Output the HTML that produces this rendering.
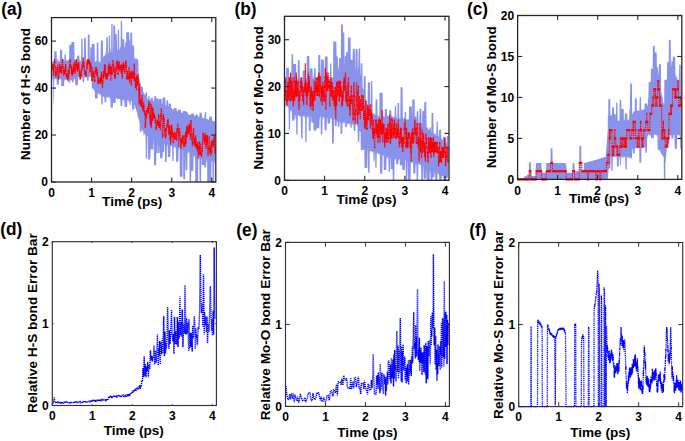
<!DOCTYPE html>
<html><head><meta charset="utf-8"><style>
html,body{margin:0;padding:0;background:#fff;}
body{width:685px;height:441px;overflow:hidden;font-family:"Liberation Sans",sans-serif;}
svg{display:block;}
</style></head><body>
<svg width="685" height="441" viewBox="0 0 685 441">
<rect width="685" height="441" fill="#fff"/>
<polygon points="52.3,62.2 52.6,61.6 52.8,61.7 53.1,60.6 53.3,61.3 53.6,60.4 53.8,62.0 54.1,59.7 54.3,51.3 54.6,51.3 54.8,51.3 55.1,51.3 55.3,51.3 55.6,51.3 55.8,51.3 56.1,51.3 56.3,51.3 56.6,51.3 56.8,58.6 57.1,59.6 57.3,58.6 57.6,61.5 57.8,59.6 58.1,61.4 58.3,61.5 58.6,61.5 58.8,57.4 59.1,60.8 59.3,61.7 59.6,61.6 59.8,59.0 60.1,49.7 60.3,49.7 60.6,49.7 60.8,49.7 61.1,49.7 61.3,49.7 61.6,49.7 61.8,49.7 62.1,49.7 62.3,61.4 62.6,61.5 62.8,59.4 63.1,61.4 63.3,59.1 63.6,58.8 63.8,60.0 64.1,61.3 64.3,60.3 64.6,53.9 64.8,53.9 65.1,53.9 65.3,53.9 65.6,53.9 65.8,53.9 66.1,60.2 66.3,61.2 66.6,60.2 66.8,58.8 67.1,60.1 67.3,60.9 67.6,60.5 67.8,61.0 68.1,59.2 68.3,60.2 68.6,60.9 68.8,59.6 69.1,59.2 69.3,44.7 69.6,44.7 69.8,44.7 70.1,44.7 70.3,44.7 70.6,44.7 70.8,44.7 71.1,44.7 71.3,44.7 71.6,42.0 71.8,42.0 72.1,42.0 72.3,42.0 72.6,42.0 72.8,42.0 73.1,42.0 73.3,42.0 73.6,42.0 73.8,42.0 74.1,42.0 74.3,42.0 74.6,60.1 74.8,61.2 75.1,60.1 75.3,60.7 75.6,59.4 75.8,61.3 76.1,60.3 76.3,59.1 76.6,60.7 76.8,58.4 77.1,57.8 77.3,55.4 77.6,55.4 77.8,55.4 78.1,55.4 78.3,55.4 78.6,55.4 78.8,55.4 79.1,55.4 79.3,55.4 79.6,61.2 79.8,60.3 80.1,60.6 80.3,59.7 80.6,61.4 80.8,61.5 81.1,59.7 81.3,38.8 81.6,38.8 81.8,38.8 82.1,38.8 82.3,38.8 82.6,38.8 82.8,61.5 83.1,58.2 83.3,59.7 83.6,61.1 83.8,58.0 84.1,37.8 84.3,37.8 84.6,37.8 84.8,37.8 85.1,37.8 85.3,37.8 85.6,37.8 85.8,37.8 86.1,59.4 86.3,61.8 86.6,61.4 86.8,61.7 87.1,60.2 87.3,60.0 87.6,61.0 87.8,34.6 88.1,34.6 88.3,34.6 88.6,34.6 88.8,34.6 89.1,34.6 89.3,34.6 89.6,34.6 89.8,60.9 90.1,61.6 90.3,47.6 90.6,47.6 90.8,47.6 91.1,47.6 91.3,47.6 91.6,47.6 91.8,43.9 92.1,43.9 92.3,43.9 92.6,43.9 92.8,43.9 93.1,43.9 93.3,43.9 93.6,43.9 93.8,43.9 94.1,43.9 94.3,43.9 94.6,43.9 94.8,61.3 95.1,61.8 95.3,61.7 95.6,62.4 95.8,60.8 96.1,60.6 96.3,60.4 96.6,61.9 96.8,42.6 97.1,42.6 97.3,42.6 97.6,42.6 97.8,42.6 98.1,42.6 98.3,42.6 98.6,63.0 98.8,61.0 99.1,61.9 99.3,62.5 99.6,62.2 99.8,60.8 100.1,61.5 100.3,61.5 100.6,63.0 100.8,40.5 101.1,40.5 101.3,40.5 101.6,40.5 101.8,40.5 102.1,40.5 102.3,40.5 102.6,40.5 102.8,40.5 103.1,58.8 103.3,56.3 103.6,56.5 103.8,56.6 104.1,55.0 104.3,56.2 104.6,55.3 104.8,56.8 105.1,54.6 105.3,52.4 105.6,50.8 105.8,54.5 106.1,54.9 106.3,37.2 106.6,37.2 106.8,37.2 107.1,37.2 107.3,37.2 107.6,37.2 107.8,37.2 108.1,53.0 108.3,53.8 108.6,52.9 108.8,35.4 109.1,35.4 109.3,35.4 109.6,35.4 109.8,35.4 110.1,35.4 110.3,52.2 110.6,52.1 110.8,48.5 111.1,49.7 111.3,24.1 111.6,24.1 111.8,24.1 112.1,24.1 112.3,24.1 112.6,24.1 112.8,51.6 113.1,51.5 113.3,25.4 113.6,25.4 113.8,25.4 114.1,25.4 114.3,25.4 114.6,25.4 114.8,25.4 115.1,25.4 115.3,34.0 115.6,34.0 115.8,34.0 116.1,34.0 116.3,34.0 116.6,34.0 116.8,34.0 117.1,50.4 117.3,50.4 117.6,48.8 117.8,29.5 118.1,29.5 118.3,29.5 118.6,29.5 118.8,29.5 119.1,29.5 119.3,47.8 119.6,50.2 119.8,50.5 120.1,47.7 120.3,46.8 120.6,47.4 120.8,20.7 121.1,20.7 121.3,20.7 121.6,20.7 121.8,20.7 122.1,20.7 122.3,39.2 122.6,39.2 122.8,39.2 123.1,39.2 123.3,39.2 123.6,39.2 123.8,39.2 124.1,39.2 124.3,39.2 124.6,49.7 124.8,46.6 125.1,47.2 125.3,42.4 125.6,42.4 125.8,42.4 126.1,42.4 126.3,32.3 126.6,32.3 126.8,32.3 127.1,32.3 127.3,32.3 127.6,32.3 127.8,32.3 128.1,32.3 128.3,32.3 128.6,32.3 128.8,32.3 129.1,32.3 129.3,39.4 129.6,39.4 129.8,39.4 130.1,49.6 130.3,32.8 130.6,32.8 130.8,32.8 131.1,32.8 131.3,32.8 131.6,32.8 131.8,32.8 132.1,32.8 132.3,45.5 132.6,45.5 132.8,45.5 133.1,45.5 133.3,45.5 133.6,45.5 133.8,45.5 134.1,45.5 134.3,58.6 134.6,58.6 134.8,58.6 135.1,58.6 135.3,58.6 135.6,58.6 135.8,58.6 136.1,58.6 136.3,58.6 136.6,58.6 136.8,58.6 137.1,59.6 137.3,59.6 137.6,59.6 137.8,59.6 138.1,59.6 138.3,59.6 138.6,74.1 138.8,76.9 139.1,76.4 139.3,78.2 139.6,79.4 139.8,80.7 140.1,82.3 140.3,83.7 140.6,85.0 140.8,86.1 141.1,86.8 141.3,86.8 141.6,86.8 141.8,86.8 142.1,86.8 142.3,86.8 142.6,86.8 142.8,86.8 143.1,92.5 143.3,91.7 143.6,93.1 143.8,92.4 144.1,93.1 144.3,93.9 144.6,94.4 144.8,95.2 145.1,94.5 145.3,95.8 145.6,92.4 145.8,92.4 146.1,92.4 146.3,92.4 146.6,92.4 146.8,92.4 147.1,92.4 147.3,99.1 147.6,98.8 147.8,99.8 148.1,99.1 148.3,96.2 148.6,96.2 148.8,96.2 149.1,96.2 149.3,96.2 149.6,96.2 149.8,100.2 150.1,100.3 150.3,99.7 150.6,99.6 150.8,97.9 151.1,97.9 151.3,97.9 151.6,97.9 151.8,97.9 152.1,97.9 152.3,97.9 152.6,97.9 152.8,97.9 153.1,100.7 153.3,101.3 153.6,100.7 153.8,101.0 154.1,101.1 154.3,96.3 154.6,96.3 154.8,96.3 155.1,96.3 155.3,96.3 155.6,96.3 155.8,96.3 156.1,96.3 156.3,98.5 156.6,98.5 156.8,98.5 157.1,98.5 157.3,98.5 157.6,98.5 157.8,98.5 158.1,98.5 158.3,98.5 158.6,98.5 158.8,102.8 159.1,99.0 159.3,99.0 159.6,99.0 159.8,99.0 160.1,99.0 160.3,99.0 160.6,99.0 160.8,99.0 161.1,99.0 161.3,99.0 161.6,99.0 161.8,102.9 162.1,104.0 162.3,103.7 162.6,97.4 162.8,97.4 163.1,97.4 163.3,97.4 163.6,97.4 163.8,97.4 164.1,97.4 164.3,97.4 164.6,97.4 164.8,97.4 165.1,97.4 165.3,97.4 165.6,104.9 165.8,105.7 166.1,105.8 166.3,105.4 166.6,100.2 166.8,100.2 167.1,100.2 167.3,100.2 167.6,100.2 167.8,100.2 168.1,100.2 168.3,106.5 168.6,106.3 168.8,103.4 169.1,103.4 169.3,103.4 169.6,103.4 169.8,103.4 170.1,103.4 170.3,103.4 170.6,103.4 170.8,103.4 171.1,108.2 171.3,108.2 171.6,107.9 171.8,108.0 172.1,109.1 172.3,109.3 172.6,109.5 172.8,109.6 173.1,109.7 173.3,108.7 173.6,109.3 173.8,109.1 174.1,109.6 174.3,107.9 174.6,107.9 174.8,107.9 175.1,107.9 175.3,107.9 175.6,107.9 175.8,107.9 176.1,107.9 176.3,107.9 176.6,107.9 176.8,110.8 177.1,110.8 177.3,111.5 177.6,110.8 177.8,111.2 178.1,109.7 178.3,109.7 178.6,109.7 178.8,109.7 179.1,109.7 179.3,109.7 179.6,109.7 179.8,109.7 180.1,109.7 180.3,109.7 180.6,109.7 180.8,109.7 181.1,112.2 181.3,111.9 181.6,113.1 181.8,112.7 182.1,113.2 182.3,112.9 182.6,112.9 182.8,111.0 183.1,111.0 183.3,111.0 183.6,111.0 183.8,111.0 184.1,111.0 184.3,111.0 184.6,111.0 184.8,111.0 185.1,111.0 185.3,111.0 185.6,111.0 185.8,111.8 186.1,111.8 186.3,111.8 186.6,111.8 186.8,111.8 187.1,111.8 187.3,111.8 187.6,111.8 187.8,114.5 188.1,114.4 188.3,114.5 188.6,114.2 188.8,114.7 189.1,114.6 189.3,114.9 189.6,114.3 189.8,114.9 190.1,115.0 190.3,115.1 190.6,115.0 190.8,115.0 191.1,113.5 191.3,113.5 191.6,113.5 191.8,113.5 192.1,113.5 192.3,113.5 192.6,113.5 192.8,113.5 193.1,113.5 193.3,113.5 193.6,113.5 193.8,113.5 194.1,115.4 194.3,115.5 194.6,116.0 194.8,115.3 195.1,115.7 195.3,116.3 195.6,114.9 195.8,114.4 196.1,114.4 196.3,114.4 196.6,114.4 196.8,114.4 197.1,114.4 197.3,114.4 197.6,114.4 197.8,114.4 198.1,116.9 198.3,116.9 198.6,116.4 198.8,116.8 199.1,117.0 199.3,117.1 199.6,112.7 199.8,112.7 200.1,112.7 200.3,112.7 200.6,112.7 200.8,112.7 201.1,112.7 201.3,112.7 201.6,112.7 201.8,112.7 202.1,117.5 202.3,117.2 202.6,117.9 202.8,118.3 203.1,118.2 203.3,117.5 203.6,118.3 203.8,118.2 204.1,118.2 204.3,117.4 204.6,118.6 204.8,111.9 205.1,111.9 205.3,111.9 205.6,111.9 205.8,111.9 206.1,111.9 206.3,119.3 206.6,119.1 206.8,119.1 207.1,118.6 207.3,119.0 207.6,119.5 207.8,119.6 208.1,119.4 208.3,119.6 208.6,120.0 208.8,119.5 209.1,119.0 209.3,116.5 209.6,116.5 209.8,116.5 210.1,116.5 210.3,116.5 210.6,116.5 210.8,116.5 211.1,116.5 211.3,116.5 211.6,116.5 211.8,116.5 212.1,120.2 212.3,120.6 212.6,121.0 212.8,120.9 213.1,120.4 213.3,120.8 213.6,121.2 213.8,121.2 214.1,121.3 214.3,121.1 214.6,121.6 214.8,121.2 215.1,121.4 215.1,160.9 214.8,162.7 214.6,160.9 214.3,163.5 214.1,182.0 213.8,182.0 213.6,182.0 213.3,182.0 213.1,182.0 212.8,182.0 212.6,182.0 212.3,161.7 212.1,160.7 211.8,161.4 211.6,161.4 211.3,182.0 211.1,182.0 210.8,182.0 210.6,182.0 210.3,182.0 210.1,182.0 209.8,182.0 209.6,182.0 209.3,182.0 209.1,182.0 208.8,182.0 208.6,182.0 208.3,182.0 208.1,182.0 207.8,182.0 207.6,182.0 207.3,182.0 207.1,158.9 206.8,161.5 206.6,162.8 206.3,158.9 206.1,167.6 205.8,167.6 205.6,167.6 205.3,167.6 205.1,167.6 204.8,167.6 204.6,167.6 204.3,165.0 204.1,165.0 203.8,165.0 203.6,165.0 203.3,165.0 203.1,165.0 202.8,165.0 202.6,165.0 202.3,165.0 202.1,165.0 201.8,165.0 201.6,160.0 201.3,157.8 201.1,182.0 200.8,182.0 200.6,182.0 200.3,182.0 200.1,182.0 199.8,182.0 199.6,182.0 199.3,158.6 199.1,157.5 198.8,161.4 198.6,158.0 198.3,157.6 198.1,182.0 197.8,182.0 197.6,182.0 197.3,182.0 197.1,182.0 196.8,182.0 196.6,182.0 196.3,182.0 196.1,182.0 195.8,182.0 195.6,182.0 195.3,182.0 195.1,158.1 194.8,156.1 194.6,158.8 194.3,155.7 194.1,155.3 193.8,156.6 193.6,155.9 193.3,171.0 193.1,171.0 192.8,171.0 192.6,171.0 192.3,171.0 192.1,171.0 191.8,171.0 191.6,171.0 191.3,171.0 191.1,181.7 190.8,181.7 190.6,181.7 190.3,181.7 190.1,181.7 189.8,181.7 189.6,181.7 189.3,153.2 189.1,151.8 188.8,151.5 188.6,153.6 188.3,153.7 188.1,152.9 187.8,151.9 187.6,153.3 187.3,170.3 187.1,170.3 186.8,170.3 186.6,170.3 186.3,170.3 186.1,170.3 185.8,170.3 185.6,170.3 185.3,152.7 185.1,179.2 184.8,179.2 184.6,179.2 184.3,179.2 184.1,179.2 183.8,179.2 183.6,179.2 183.3,179.2 183.1,150.1 182.8,151.1 182.6,176.8 182.3,176.8 182.1,176.8 181.8,176.8 181.6,176.8 181.3,176.8 181.1,176.8 180.8,176.8 180.6,176.8 180.3,176.8 180.1,176.8 179.8,176.8 179.6,147.7 179.3,147.8 179.1,147.5 178.8,149.3 178.6,150.7 178.3,161.7 178.1,161.7 177.8,161.7 177.6,161.7 177.3,161.7 177.1,161.7 176.8,161.7 176.6,161.7 176.3,161.7 176.1,161.7 175.8,147.1 175.6,149.1 175.3,147.3 175.1,147.1 174.8,147.0 174.6,147.1 174.3,146.5 174.1,148.4 173.8,147.5 173.6,161.1 173.3,161.1 173.1,161.1 172.8,161.1 172.6,161.1 172.3,161.1 172.1,145.3 171.8,145.7 171.6,146.3 171.3,146.5 171.1,145.2 170.8,146.7 170.6,145.7 170.3,157.1 170.1,157.1 169.8,157.1 169.6,157.1 169.3,157.1 169.1,157.1 168.8,157.1 168.6,157.1 168.3,157.1 168.1,157.1 167.8,157.1 167.6,145.8 167.3,144.6 167.1,145.0 166.8,148.6 166.6,161.9 166.3,161.9 166.1,161.9 165.8,161.9 165.6,161.9 165.3,161.9 165.1,161.9 164.8,143.5 164.6,144.6 164.3,143.4 164.1,151.9 163.8,151.9 163.6,151.9 163.3,151.9 163.1,151.9 162.8,151.9 162.6,158.2 162.3,158.2 162.1,158.2 161.8,158.2 161.6,158.2 161.3,158.2 161.1,158.2 160.8,158.2 160.6,158.2 160.3,158.2 160.1,158.2 159.8,143.9 159.6,153.1 159.3,153.1 159.1,153.1 158.8,153.1 158.6,153.1 158.3,153.1 158.1,153.1 157.8,153.1 157.6,141.2 157.3,153.3 157.1,153.3 156.8,153.3 156.6,153.3 156.3,153.3 156.1,165.2 155.8,165.2 155.6,165.2 155.3,165.2 155.1,165.2 154.8,165.2 154.6,165.2 154.3,165.2 154.1,165.2 153.8,138.9 153.6,141.4 153.3,149.6 153.1,149.6 152.8,149.6 152.6,149.6 152.3,149.6 152.1,149.6 151.8,149.6 151.6,149.6 151.3,149.6 151.1,149.6 150.8,149.6 150.6,149.6 150.3,159.6 150.1,159.6 149.8,159.6 149.6,159.6 149.3,159.6 149.1,159.6 148.8,159.6 148.6,159.6 148.3,159.6 148.1,159.6 147.8,135.6 147.6,136.2 147.3,135.9 147.1,158.6 146.8,158.6 146.6,158.6 146.3,158.6 146.1,158.6 145.8,158.6 145.6,137.3 145.3,135.4 145.1,134.5 144.8,135.6 144.6,134.1 144.3,133.4 144.1,133.2 143.8,134.6 143.6,137.3 143.3,131.8 143.1,131.0 142.8,132.1 142.6,129.5 142.3,130.9 142.1,129.2 141.8,128.5 141.6,131.7 141.3,131.7 141.1,131.7 140.8,131.7 140.6,131.7 140.3,131.7 140.1,131.7 139.8,131.7 139.6,121.9 139.3,122.0 139.1,120.0 138.8,119.8 138.6,117.3 138.3,119.5 138.1,116.7 137.8,118.0 137.6,115.0 137.3,114.6 137.1,113.2 136.8,111.6 136.6,111.4 136.3,110.4 136.1,109.8 135.8,108.2 135.6,108.7 135.3,107.6 135.1,106.4 134.8,105.1 134.6,104.1 134.3,109.5 134.1,109.5 133.8,109.5 133.6,109.5 133.3,109.5 133.1,109.5 132.8,109.5 132.6,109.5 132.3,109.5 132.1,109.5 131.8,101.0 131.6,101.4 131.3,101.1 131.1,100.7 130.8,101.0 130.6,105.0 130.3,105.0 130.1,105.0 129.8,105.0 129.6,105.0 129.3,101.7 129.1,102.5 128.8,102.2 128.6,100.7 128.3,100.3 128.1,100.7 127.8,100.5 127.6,100.7 127.3,100.0 127.1,107.0 126.8,107.0 126.6,107.0 126.3,107.0 126.1,107.0 125.8,107.0 125.6,107.0 125.3,107.0 125.1,107.0 124.8,107.0 124.6,107.0 124.3,101.7 124.1,100.7 123.8,100.7 123.6,99.1 123.3,100.0 123.1,99.7 122.8,100.1 122.6,99.7 122.3,106.1 122.1,106.1 121.8,106.1 121.6,106.1 121.3,106.1 121.1,106.1 120.8,106.1 120.6,106.1 120.3,100.0 120.1,99.5 119.8,98.7 119.6,99.1 119.3,99.1 119.1,98.9 118.8,98.9 118.6,99.1 118.3,98.4 118.1,98.9 117.8,99.1 117.6,99.0 117.3,100.4 117.1,97.9 116.8,99.1 116.6,97.9 116.3,98.4 116.1,97.9 115.8,98.4 115.6,103.0 115.3,103.0 115.1,103.0 114.8,103.0 114.6,103.0 114.3,103.0 114.1,103.0 113.8,103.0 113.6,103.0 113.3,103.0 113.1,103.0 112.8,107.8 112.6,107.8 112.3,107.8 112.1,107.8 111.8,107.8 111.6,107.8 111.3,107.8 111.1,107.8 110.8,107.8 110.6,107.8 110.3,98.1 110.1,98.8 109.8,98.4 109.6,97.1 109.3,97.1 109.1,97.6 108.8,97.6 108.6,97.2 108.3,99.1 108.1,97.0 107.8,98.6 107.6,97.0 107.3,96.7 107.1,96.7 106.8,97.1 106.6,97.0 106.3,102.3 106.1,102.3 105.8,102.3 105.6,102.3 105.3,102.3 105.1,102.3 104.8,102.3 104.6,102.3 104.3,97.2 104.1,96.8 103.8,96.7 103.6,97.3 103.3,97.0 103.1,96.0 102.8,95.9 102.6,104.4 102.3,104.4 102.1,104.4 101.8,104.4 101.6,104.4 101.3,104.4 101.1,95.6 100.8,94.5 100.6,95.2 100.3,94.5 100.1,93.8 99.8,95.3 99.6,94.4 99.3,94.2 99.1,93.5 98.8,93.8 98.6,93.0 98.3,93.6 98.1,93.5 97.8,92.9 97.6,98.6 97.3,98.6 97.1,98.6 96.8,98.6 96.6,98.6 96.3,98.6 96.1,98.6 95.8,98.6 95.6,98.6 95.3,98.6 95.1,98.6 94.8,91.8 94.6,91.7 94.3,90.0 94.1,90.3 93.8,90.1 93.6,91.1 93.3,88.0 93.1,88.6 92.8,88.6 92.6,88.6 92.3,88.6 92.1,88.6 91.8,88.6 91.6,76.3 91.3,76.4 91.1,76.7 90.8,76.7 90.6,76.3 90.3,76.6 90.1,76.8 89.8,76.8 89.6,76.6 89.3,76.6 89.1,77.2 88.8,77.0 88.6,80.8 88.3,80.8 88.1,80.8 87.8,80.8 87.6,80.8 87.3,80.8 87.1,80.8 86.8,77.3 86.6,77.2 86.3,76.4 86.1,76.8 85.8,76.6 85.6,77.0 85.3,76.4 85.1,76.4 84.8,76.8 84.6,76.9 84.3,77.8 84.1,82.3 83.8,82.3 83.6,82.3 83.3,82.3 83.1,82.3 82.8,82.3 82.6,82.3 82.3,77.3 82.1,76.3 81.8,77.1 81.6,77.2 81.3,77.4 81.1,76.4 80.8,76.4 80.6,76.8 80.3,76.5 80.1,77.7 79.8,77.9 79.6,77.1 79.3,77.2 79.1,76.7 78.8,77.4 78.6,77.2 78.3,77.0 78.1,77.7 77.8,85.3 77.6,85.3 77.3,85.3 77.1,85.3 76.8,85.3 76.6,85.3 76.3,85.3 76.1,85.3 75.8,85.3 75.6,85.3 75.3,85.3 75.1,78.9 74.8,79.7 74.6,78.6 74.3,78.8 74.1,79.3 73.8,80.3 73.6,82.2 73.3,82.2 73.1,82.2 72.8,82.2 72.6,82.2 72.3,82.2 72.1,82.2 71.8,79.9 71.6,81.1 71.3,80.2 71.1,80.7 70.8,80.0 70.6,79.8 70.3,80.1 70.1,82.4 69.8,82.4 69.6,82.4 69.3,82.4 69.1,82.4 68.8,82.4 68.6,82.4 68.3,82.4 68.1,80.6 67.8,80.1 67.6,80.4 67.3,80.0 67.1,80.0 66.8,80.1 66.6,79.6 66.3,79.9 66.1,80.0 65.8,79.8 65.6,80.7 65.3,79.5 65.1,79.5 64.8,79.7 64.6,80.4 64.3,80.8 64.1,85.9 63.8,85.9 63.6,85.9 63.3,85.9 63.1,85.9 62.8,85.9 62.6,85.9 62.3,85.9 62.1,85.9 61.8,85.9 61.6,85.9 61.3,85.9 61.1,79.1 60.8,79.6 60.6,79.5 60.3,79.5 60.1,79.1 59.8,79.5 59.6,79.1 59.3,79.2 59.1,80.2 58.8,84.5 58.6,84.5 58.3,84.5 58.1,84.5 57.8,84.5 57.6,84.5 57.3,84.5 57.1,84.5 56.8,84.5 56.6,79.1 56.3,79.1 56.1,79.7 55.8,78.8 55.6,79.2 55.3,78.8 55.1,79.0 54.8,78.8 54.6,79.2 54.3,80.3 54.1,95.5 53.8,104.8 53.6,105.4 53.3,92.1 53.1,79.2 52.8,79.7 52.6,78.8 52.3,79.8" fill="#8892ea" stroke="none"/>
<polyline points="51.9,66.9 52.0,69.3 52.2,69.3 52.3,64.6 52.4,64.6 52.5,69.3 52.7,69.3 52.8,66.9 52.9,64.6 53.0,66.9 53.2,69.3 53.3,69.3 53.4,74.0 53.5,76.3 53.7,71.6 53.8,71.6 53.9,69.3 54.0,66.9 54.2,64.6 54.3,64.6 54.4,59.9 54.5,59.9 54.7,62.2 54.8,62.2 54.9,62.2 55.0,66.9 55.2,66.9 55.3,66.9 55.4,74.0 55.5,74.0 55.7,71.6 55.8,74.0 55.9,76.3 56.0,76.3 56.2,74.0 56.3,71.6 56.4,74.0 56.5,71.6 56.7,74.0 56.8,74.0 56.9,66.9 57.0,69.3 57.2,71.6 57.3,66.9 57.4,69.3 57.6,69.3 57.7,69.3 57.8,64.6 57.9,71.6 58.1,74.0 58.2,76.3 58.3,76.3 58.4,78.7 58.6,78.7 58.7,74.0 58.8,76.3 58.9,74.0 59.1,71.6 59.2,71.6 59.3,71.6 59.4,64.6 59.6,64.6 59.7,66.9 59.8,66.9 59.9,71.6 60.1,69.3 60.2,66.9 60.3,69.3 60.4,69.3 60.6,66.9 60.7,66.9 60.8,66.9 60.9,71.6 61.1,71.6 61.2,74.0 61.3,64.6 61.4,66.9 61.6,69.3 61.7,71.6 61.8,71.6 61.9,66.9 62.1,66.9 62.2,62.2 62.3,62.2 62.4,59.9 62.6,59.9 62.7,59.9 62.8,66.9 62.9,66.9 63.1,66.9 63.2,69.3 63.3,76.3 63.5,71.6 63.6,71.6 63.7,71.6 63.8,71.6 64.0,71.6 64.1,69.3 64.2,74.0 64.3,74.0 64.5,71.6 64.6,71.6 64.7,71.6 64.8,71.6 65.0,74.0 65.1,71.6 65.2,66.9 65.3,71.6 65.5,64.6 65.6,64.6 65.7,66.9 65.8,64.6 66.0,69.3 66.1,74.0 66.2,76.3 66.3,76.3 66.5,76.3 66.6,74.0 66.7,74.0 66.8,78.7 67.0,74.0 67.1,76.3 67.2,76.3 67.3,76.3 67.5,78.7 67.6,78.7 67.7,81.0 67.8,76.3 68.0,74.0 68.1,69.3 68.2,71.6 68.3,74.0 68.5,76.3 68.6,71.6 68.7,78.7 68.9,71.6 69.0,71.6 69.1,74.0 69.2,71.6 69.4,66.9 69.5,66.9 69.6,64.6 69.7,64.6 69.9,62.2 70.0,59.9 70.1,62.2 70.2,59.9 70.4,59.9 70.5,62.2 70.6,66.9 70.7,66.9 70.9,64.6 71.0,69.3 71.1,66.9 71.2,66.9 71.4,66.9 71.5,74.0 71.6,71.6 71.7,69.3 71.9,71.6 72.0,69.3 72.1,76.3 72.2,74.0 72.4,74.0 72.5,69.3 72.6,74.0 72.7,71.6 72.9,71.6 73.0,66.9 73.1,71.6 73.2,71.6 73.4,64.6 73.5,66.9 73.6,69.3 73.7,69.3 73.9,74.0 74.0,66.9 74.1,62.2 74.2,66.9 74.4,71.6 74.5,66.9 74.6,64.6 74.8,62.2 74.9,59.9 75.0,64.6 75.1,66.9 75.3,71.6 75.4,74.0 75.5,69.3 75.6,71.6 75.8,64.6 75.9,64.6 76.0,66.9 76.1,64.6 76.3,59.9 76.4,59.9 76.5,66.9 76.6,64.6 76.8,62.2 76.9,64.6 77.0,69.3 77.1,64.6 77.3,64.6 77.4,69.3 77.5,69.3 77.6,71.6 77.8,69.3 77.9,69.3 78.0,64.6 78.1,64.6 78.3,69.3 78.4,69.3 78.5,64.6 78.6,64.6 78.8,62.2 78.9,64.6 79.0,69.3 79.1,66.9 79.3,69.3 79.4,76.3 79.5,71.6 79.6,71.6 79.8,71.6 79.9,76.3 80.0,78.7 80.2,78.7 80.3,78.7 80.4,74.0 80.5,78.7 80.7,74.0 80.8,76.3 80.9,78.7 81.0,74.0 81.2,71.6 81.3,76.3 81.4,69.3 81.5,71.6 81.7,69.3 81.8,69.3 81.9,64.6 82.0,66.9 82.2,64.6 82.3,66.9 82.4,64.6 82.5,66.9 82.7,69.3 82.8,62.2 82.9,62.2 83.0,64.6 83.2,57.5 83.3,59.9 83.4,64.6 83.5,62.2 83.7,66.9 83.8,64.6 83.9,62.2 84.0,64.6 84.2,66.9 84.3,66.9 84.4,66.9 84.5,71.6 84.7,69.3 84.8,74.0 84.9,74.0 85.0,74.0 85.2,74.0 85.3,71.6 85.4,74.0 85.5,71.6 85.7,71.6 85.8,71.6 85.9,76.3 86.1,76.3 86.2,74.0 86.3,76.3 86.4,74.0 86.6,69.3 86.7,64.6 86.8,59.9 86.9,64.6 87.1,69.3 87.2,64.6 87.3,64.6 87.4,62.2 87.6,64.6 87.7,59.9 87.8,59.9 87.9,59.9 88.1,59.9 88.2,59.9 88.3,62.2 88.4,62.2 88.6,59.9 88.7,64.6 88.8,59.9 88.9,62.2 89.1,59.9 89.2,62.2 89.3,64.6 89.4,59.9 89.6,62.2 89.7,69.3 89.8,71.6 89.9,71.6 90.1,64.6 90.2,64.6 90.3,64.6 90.4,69.3 90.6,69.3 90.7,66.9 90.8,62.2 90.9,66.9 91.1,66.9 91.2,66.9 91.3,71.6 91.5,71.6 91.6,74.0 91.7,81.0 91.8,76.3 92.0,74.0 92.1,76.3 92.2,81.0 92.3,74.0 92.5,74.0 92.6,71.6 92.7,66.9 92.8,71.6 93.0,71.6 93.1,74.0 93.2,74.0 93.3,76.3 93.5,76.3 93.6,74.0 93.7,74.0 93.8,76.3 94.0,76.3 94.1,76.3 94.2,78.7 94.3,81.0 94.5,81.0 94.6,81.0 94.7,81.0 94.8,81.0 95.0,74.0 95.1,71.6 95.2,71.6 95.3,74.0 95.5,66.9 95.6,69.3 95.7,71.6 95.8,71.6 96.0,71.6 96.1,69.3 96.2,71.6 96.3,66.9 96.5,71.6 96.6,71.6 96.7,76.3 96.8,71.6 97.0,74.0 97.1,74.0 97.2,74.0 97.4,69.3 97.5,76.3 97.6,76.3 97.7,81.0 97.9,81.0 98.0,81.0 98.1,81.0 98.2,83.4 98.4,83.4 98.5,83.4 98.6,81.0 98.7,76.3 98.9,83.4 99.0,81.0 99.1,81.0 99.2,78.7 99.4,83.4 99.5,81.0 99.6,83.4 99.7,81.0 99.9,78.7 100.0,81.0 100.1,78.7 100.2,78.7 100.4,83.4 100.5,81.0 100.6,78.7 100.7,78.7 100.9,76.3 101.0,74.0 101.1,78.7 101.2,81.0 101.4,74.0 101.5,71.6 101.6,76.3 101.7,81.0 101.9,81.0 102.0,81.0 102.1,85.7 102.2,83.4 102.4,85.7 102.5,88.1 102.6,81.0 102.8,83.4 102.9,81.0 103.0,78.7 103.1,74.0 103.3,76.3 103.4,76.3 103.5,78.7 103.6,71.6 103.8,71.6 103.9,76.3 104.0,76.3 104.1,74.0 104.3,71.6 104.4,66.9 104.5,64.6 104.6,69.3 104.8,69.3 104.9,74.0 105.0,74.0 105.1,74.0 105.3,64.6 105.4,66.9 105.5,74.0 105.6,76.3 105.8,74.0 105.9,78.7 106.0,78.7 106.1,78.7 106.3,76.3 106.4,76.3 106.5,76.3 106.6,74.0 106.8,74.0 106.9,76.3 107.0,78.7 107.1,78.7 107.3,74.0 107.4,78.7 107.5,76.3 107.6,74.0 107.8,74.0 107.9,71.6 108.0,74.0 108.2,69.3 108.3,66.9 108.4,66.9 108.5,74.0 108.7,76.3 108.8,71.6 108.9,64.6 109.0,66.9 109.2,62.2 109.3,66.9 109.4,69.3 109.5,69.3 109.7,66.9 109.8,74.0 109.9,69.3 110.0,64.6 110.2,69.3 110.3,74.0 110.4,71.6 110.5,74.0 110.7,81.0 110.8,76.3 110.9,74.0 111.0,74.0 111.2,66.9 111.3,66.9 111.4,69.3 111.5,69.3 111.7,74.0 111.8,74.0 111.9,71.6 112.0,74.0 112.2,74.0 112.3,66.9 112.4,64.6 112.5,64.6 112.7,64.6 112.8,64.6 112.9,59.9 113.0,62.2 113.2,59.9 113.3,64.6 113.4,66.9 113.5,71.6 113.7,71.6 113.8,69.3 113.9,64.6 114.1,69.3 114.2,69.3 114.3,69.3 114.4,71.6 114.6,76.3 114.7,74.0 114.8,78.7 114.9,76.3 115.1,74.0 115.2,76.3 115.3,76.3 115.4,78.7 115.6,71.6 115.7,74.0 115.8,69.3 115.9,66.9 116.1,69.3 116.2,71.6 116.3,69.3 116.4,62.2 116.6,66.9 116.7,69.3 116.8,66.9 116.9,64.6 117.1,59.9 117.2,64.6 117.3,64.6 117.4,69.3 117.6,62.2 117.7,66.9 117.8,74.0 117.9,74.0 118.1,74.0 118.2,66.9 118.3,66.9 118.4,69.3 118.6,66.9 118.7,62.2 118.8,64.6 118.9,62.2 119.1,62.2 119.2,64.6 119.3,66.9 119.5,66.9 119.6,69.3 119.7,66.9 119.8,71.6 120.0,66.9 120.1,64.6 120.2,66.9 120.3,69.3 120.5,69.3 120.6,69.3 120.7,66.9 120.8,66.9 121.0,64.6 121.1,66.9 121.2,66.9 121.3,74.0 121.5,69.3 121.6,69.3 121.7,71.6 121.8,66.9 122.0,64.6 122.1,76.3 122.2,74.0 122.3,78.7 122.5,71.6 122.6,64.6 122.7,66.9 122.8,66.9 123.0,69.3 123.1,69.3 123.2,66.9 123.3,62.2 123.5,69.3 123.6,64.6 123.7,69.3 123.8,66.9 124.0,64.6 124.1,64.6 124.2,69.3 124.3,71.6 124.5,71.6 124.6,71.6 124.7,69.3 124.8,74.0 125.0,71.6 125.1,69.3 125.2,66.9 125.4,66.9 125.5,62.2 125.6,62.2 125.7,62.2 125.9,62.2 126.0,59.9 126.1,66.9 126.2,64.6 126.4,66.9 126.5,69.3 126.6,71.6 126.7,78.7 126.9,78.7 127.0,78.7 127.1,74.0 127.2,78.7 127.4,71.6 127.5,71.6 127.6,71.6 127.7,74.0 127.9,76.3 128.0,78.7 128.1,78.7 128.2,76.3 128.4,76.3 128.5,78.7 128.6,78.7 128.7,78.7 128.9,76.3 129.0,69.3 129.1,66.9 129.2,69.3 129.4,76.3 129.5,78.7 129.6,83.4 129.7,78.7 129.9,78.7 130.0,76.3 130.1,78.7 130.2,76.3 130.4,71.6 130.5,74.0 130.6,74.0 130.8,76.3 130.9,74.0 131.0,76.3 131.1,78.7 131.3,83.4 131.4,85.7 131.5,81.0 131.6,71.6 131.8,74.0 131.9,71.6 132.0,71.6 132.1,76.3 132.3,76.3 132.4,76.3 132.5,78.7 132.6,71.6 132.8,78.7 132.9,76.3 133.0,76.3 133.1,78.7 133.3,76.3 133.4,74.0 133.5,74.0 133.6,74.0 133.8,71.6 133.9,81.0 134.0,74.0 134.1,66.9 134.3,64.6 134.4,64.6 134.5,74.0 134.6,74.0 134.8,78.7 134.9,81.0 135.0,76.3 135.1,81.0 135.3,81.0 135.4,88.1 135.5,85.7 135.6,83.4 135.8,85.7 135.9,88.1 136.0,78.7 136.1,83.4 136.3,88.1 136.4,90.4 136.5,83.4 136.7,76.3 136.8,76.3 136.9,81.0 137.0,83.4 137.2,81.0 137.3,85.7 137.4,81.0 137.5,76.3 137.7,78.7 137.8,78.7 137.9,78.7 138.0,74.0 138.2,83.4 138.3,78.7 138.4,83.4 138.5,90.4 138.7,90.4 138.8,92.8 138.9,97.5 139.0,102.1 139.2,104.5 139.3,95.1 139.4,88.1 139.5,85.7 139.7,83.4 139.8,88.1 139.9,90.4 140.0,92.8 140.2,97.5 140.3,102.1 140.4,102.1 140.5,102.1 140.7,106.8 140.8,104.5 140.9,104.5 141.0,99.8 141.2,99.8 141.3,102.1 141.4,102.1 141.5,102.1 141.7,104.5 141.8,106.8 141.9,102.1 142.1,99.8 142.2,95.1 142.3,106.8 142.4,106.8 142.6,109.2 142.7,106.8 142.8,109.2 142.9,111.5 143.1,106.8 143.2,106.8 143.3,111.5 143.4,106.8 143.6,102.1 143.7,106.8 143.8,104.5 143.9,109.2 144.1,104.5 144.2,106.8 144.3,111.5 144.4,111.5 144.6,113.9 144.7,113.9 144.8,111.5 144.9,111.5 145.1,113.9 145.2,128.0 145.3,123.3 145.4,128.0 145.6,123.3 145.7,113.9 145.8,113.9 145.9,113.9 146.1,113.9 146.2,113.9 146.3,116.2 146.4,116.2 146.6,118.6 146.7,111.5 146.8,111.5 146.9,109.2 147.1,111.5 147.2,111.5 147.3,111.5 147.4,109.2 147.6,106.8 147.7,109.2 147.8,111.5 148.0,113.9 148.1,109.2 148.2,111.5 148.3,111.5 148.5,106.8 148.6,104.5 148.7,104.5 148.8,109.2 149.0,102.1 149.1,102.1 149.2,104.5 149.3,106.8 149.5,113.9 149.6,118.6 149.7,116.2 149.8,113.9 150.0,116.2 150.1,118.6 150.2,123.3 150.3,123.3 150.5,125.6 150.6,120.9 150.7,113.9 150.8,104.5 151.0,104.5 151.1,109.2 151.2,113.9 151.3,128.0 151.5,125.6 151.6,123.3 151.7,118.6 151.8,116.2 152.0,113.9 152.1,113.9 152.2,111.5 152.3,106.8 152.5,113.9 152.6,116.2 152.7,120.9 152.8,113.9 153.0,109.2 153.1,109.2 153.2,116.2 153.4,116.2 153.5,116.2 153.6,116.2 153.7,118.6 153.9,116.2 154.0,118.6 154.1,113.9 154.2,113.9 154.4,116.2 154.5,116.2 154.6,118.6 154.7,116.2 154.9,118.6 155.0,116.2 155.1,118.6 155.2,123.3 155.4,118.6 155.5,123.3 155.6,120.9 155.7,118.6 155.9,125.6 156.0,128.0 156.1,128.0 156.2,128.0 156.4,130.3 156.5,125.6 156.6,125.6 156.7,123.3 156.9,123.3 157.0,120.9 157.1,123.3 157.2,123.3 157.4,120.9 157.5,120.9 157.6,123.3 157.7,125.6 157.9,123.3 158.0,120.9 158.1,123.3 158.2,125.6 158.4,123.3 158.5,113.9 158.6,116.2 158.7,116.2 158.9,116.2 159.0,128.0 159.1,125.6 159.3,128.0 159.4,120.9 159.5,123.3 159.6,125.6 159.8,125.6 159.9,123.3 160.0,125.6 160.1,125.6 160.3,130.3 160.4,128.0 160.5,125.6 160.6,116.2 160.8,116.2 160.9,116.2 161.0,113.9 161.1,113.9 161.3,109.2 161.4,109.2 161.5,113.9 161.6,116.2 161.8,116.2 161.9,118.6 162.0,118.6 162.1,123.3 162.3,130.3 162.4,132.7 162.5,137.4 162.6,135.0 162.8,132.7 162.9,137.4 163.0,130.3 163.1,125.6 163.3,125.6 163.4,118.6 163.5,113.9 163.6,120.9 163.8,118.6 163.9,118.6 164.0,118.6 164.1,118.6 164.3,123.3 164.4,125.6 164.5,128.0 164.7,130.3 164.8,130.3 164.9,135.0 165.0,137.4 165.2,132.7 165.3,130.3 165.4,128.0 165.5,135.0 165.7,137.4 165.8,137.4 165.9,135.0 166.0,135.0 166.2,130.3 166.3,130.3 166.4,130.3 166.5,128.0 166.7,125.6 166.8,128.0 166.9,125.6 167.0,123.3 167.2,125.6 167.3,125.6 167.4,125.6 167.5,120.9 167.7,120.9 167.8,120.9 167.9,120.9 168.0,123.3 168.2,118.6 168.3,123.3 168.4,132.7 168.5,125.6 168.7,128.0 168.8,132.7 168.9,132.7 169.0,135.0 169.2,125.6 169.3,125.6 169.4,132.7 169.5,130.3 169.7,132.7 169.8,125.6 169.9,130.3 170.0,139.7 170.2,137.4 170.3,137.4 170.4,137.4 170.6,144.4 170.7,139.7 170.8,130.3 170.9,139.7 171.1,132.7 171.2,135.0 171.3,125.6 171.4,125.6 171.6,128.0 171.7,125.6 171.8,125.6 171.9,130.3 172.1,128.0 172.2,130.3 172.3,137.4 172.4,130.3 172.6,132.7 172.7,135.0 172.8,132.7 172.9,139.7 173.1,142.1 173.2,142.1 173.3,142.1 173.4,139.7 173.6,135.0 173.7,137.4 173.8,135.0 173.9,132.7 174.1,137.4 174.2,135.0 174.3,139.7 174.4,135.0 174.6,132.7 174.7,132.7 174.8,139.7 174.9,137.4 175.1,139.7 175.2,137.4 175.3,137.4 175.4,139.7 175.6,135.0 175.7,132.7 175.8,135.0 176.0,132.7 176.1,135.0 176.2,135.0 176.3,135.0 176.5,139.7 176.6,139.7 176.7,139.7 176.8,132.7 177.0,128.0 177.1,132.7 177.2,128.0 177.3,130.3 177.5,130.3 177.6,128.0 177.7,130.3 177.8,123.3 178.0,125.6 178.1,132.7 178.2,130.3 178.3,132.7 178.5,135.0 178.6,146.8 178.7,142.1 178.8,137.4 179.0,135.0 179.1,132.7 179.2,128.0 179.3,130.3 179.5,128.0 179.6,135.0 179.7,137.4 179.8,132.7 180.0,132.7 180.1,139.7 180.2,137.4 180.3,139.7 180.5,142.1 180.6,139.7 180.7,142.1 180.8,146.8 181.0,149.1 181.1,139.7 181.2,144.4 181.3,142.1 181.5,139.7 181.6,137.4 181.7,142.1 181.9,142.1 182.0,142.1 182.1,139.7 182.2,142.1 182.4,144.4 182.5,139.7 182.6,137.4 182.7,135.0 182.9,139.7 183.0,137.4 183.1,137.4 183.2,135.0 183.4,142.1 183.5,142.1 183.6,142.1 183.7,146.8 183.9,144.4 184.0,142.1 184.1,144.4 184.2,142.1 184.4,146.8 184.5,144.4 184.6,142.1 184.7,139.7 184.9,135.0 185.0,142.1 185.1,146.8 185.2,144.4 185.4,139.7 185.5,132.7 185.6,132.7 185.7,137.4 185.9,135.0 186.0,137.4 186.1,144.4 186.2,132.7 186.4,132.7 186.5,130.3 186.6,130.3 186.7,125.6 186.9,128.0 187.0,125.6 187.1,132.7 187.3,137.4 187.4,132.7 187.5,128.0 187.6,128.0 187.8,130.3 187.9,130.3 188.0,135.0 188.1,130.3 188.3,128.0 188.4,128.0 188.5,128.0 188.6,125.6 188.8,128.0 188.9,125.6 189.0,132.7 189.1,132.7 189.3,123.3 189.4,128.0 189.5,130.3 189.6,128.0 189.8,125.6 189.9,125.6 190.0,135.0 190.1,132.7 190.3,137.4 190.4,139.7 190.5,135.0 190.6,137.4 190.8,132.7 190.9,120.9 191.0,120.9 191.1,120.9 191.3,128.0 191.4,130.3 191.5,135.0 191.6,137.4 191.8,139.7 191.9,139.7 192.0,139.7 192.1,142.1 192.3,144.4 192.4,146.8 192.5,142.1 192.6,142.1 192.8,135.0 192.9,132.7 193.0,135.0 193.2,132.7 193.3,139.7 193.4,130.3 193.5,128.0 193.7,130.3 193.8,137.4 193.9,135.0 194.0,144.4 194.2,144.4 194.3,142.1 194.4,139.7 194.5,142.1 194.7,137.4 194.8,142.1 194.9,142.1 195.0,142.1 195.2,146.8 195.3,142.1 195.4,146.8 195.5,137.4 195.7,142.1 195.8,135.0 195.9,142.1 196.0,139.7 196.2,144.4 196.3,149.1 196.4,146.8 196.5,144.4 196.7,149.1 196.8,144.4 196.9,146.8 197.0,146.8 197.2,144.4 197.3,144.4 197.4,151.5 197.5,144.4 197.7,142.1 197.8,144.4 197.9,149.1 198.0,153.8 198.2,158.5 198.3,153.8 198.4,151.5 198.6,153.8 198.7,153.8 198.8,146.8 198.9,146.8 199.1,149.1 199.2,144.4 199.3,142.1 199.4,142.1 199.6,146.8 199.7,151.5 199.8,153.8 199.9,153.8 200.1,151.5 200.2,149.1 200.3,146.8 200.4,144.4 200.6,144.4 200.7,149.1 200.8,153.8 200.9,153.8 201.1,156.2 201.2,153.8 201.3,153.8 201.4,156.2 201.6,156.2 201.7,153.8 201.8,151.5 201.9,151.5 202.1,149.1 202.2,146.8 202.3,151.5 202.4,149.1 202.6,139.7 202.7,144.4 202.8,139.7 202.9,135.0 203.1,132.7 203.2,137.4 203.3,132.7 203.4,135.0 203.6,137.4 203.7,139.7 203.8,137.4 203.9,139.7 204.1,139.7 204.2,137.4 204.3,139.7 204.5,144.4 204.6,142.1 204.7,139.7 204.8,135.0 205.0,142.1 205.1,137.4 205.2,137.4 205.3,132.7 205.5,139.7 205.6,139.7 205.7,139.7 205.8,146.8 206.0,149.1 206.1,142.1 206.2,144.4 206.3,146.8 206.5,142.1 206.6,139.7 206.7,135.0 206.8,139.7 207.0,142.1 207.1,137.4 207.2,142.1 207.3,144.4 207.5,142.1 207.6,135.0 207.7,142.1 207.8,151.5 208.0,153.8 208.1,156.2 208.2,153.8 208.3,149.1 208.5,146.8 208.6,149.1 208.7,146.8 208.8,149.1 209.0,149.1 209.1,149.1 209.2,137.4 209.3,137.4 209.5,142.1 209.6,144.4 209.7,146.8 209.9,151.5 210.0,151.5 210.1,153.8 210.2,146.8 210.4,149.1 210.5,149.1 210.6,153.8 210.7,156.2 210.9,151.5 211.0,151.5 211.1,144.4 211.2,146.8 211.4,142.1 211.5,142.1 211.6,142.1 211.7,151.5 211.9,153.8 212.0,149.1 212.1,142.1 212.2,142.1 212.4,139.7 212.5,142.1 212.6,144.4 212.7,146.8 212.9,142.1 213.0,142.1 213.1,144.4 213.2,144.4 213.4,142.1 213.5,142.1 213.6,146.8 213.7,139.7 213.9,139.7 214.0,142.1 214.1,137.4 214.2,135.0 214.4,137.4 214.5,137.4 214.6,144.4 214.7,146.8 214.9,153.8 215.0,146.8" fill="none" stroke="#ff0000" stroke-width="1.15" stroke-dasharray="1.3 0.7" stroke-linejoin="bevel" opacity="1"/>
<path d="M51.5 69.3H52.7M51.8 64.6H52.9M52.0 69.3H53.2M52.7 69.3H53.8M53.2 71.6H54.3M53.7 64.6H54.8M53.9 59.9H55.0M54.2 62.2H55.4M54.5 66.9H55.8M54.9 74.0H56.0M55.4 76.3H56.5M56.2 74.0H57.3M56.9 69.3H58.2M57.7 76.3H58.8M57.9 78.7H59.1M58.6 71.6H59.8M58.9 64.6H60.1M59.2 66.9H60.3M59.8 69.3H60.9M60.1 66.9H61.3M60.4 71.6H61.6M61.2 71.6H62.3M61.4 66.9H62.6M61.7 62.2H62.8M61.9 59.9H63.2M62.3 66.9H63.6M63.0 71.6H64.5M63.7 74.0H64.8M64.0 71.6H65.3M65.0 64.6H66.1M65.7 76.3H67.0M66.1 74.0H67.2M66.6 76.3H67.8M67.0 78.7H68.1M68.4 71.6H69.5M68.9 66.9H70.0M69.1 64.6H70.2M69.7 59.9H70.9M70.1 66.9H71.2M70.6 66.9H71.9M71.7 74.0H72.9M72.2 71.6H73.4M72.6 71.6H73.7M73.1 69.3H74.2M75.3 64.6H76.4M75.8 59.9H76.9M76.6 64.6H77.8M76.9 69.3H78.0M77.3 69.3H78.4M77.5 64.6H78.6M77.8 69.3H78.9M78.0 64.6H79.1M79.0 71.6H80.3M79.5 78.7H80.8M81.2 69.3H82.3M82.3 62.2H83.4M83.7 66.9H84.9M84.3 74.0H85.7M85.0 71.6H86.3M85.4 76.3H86.6M86.7 64.6H87.8M87.2 59.9H88.7M87.8 62.2H88.9M89.3 71.6H90.4M89.6 64.6H90.8M89.9 69.3H91.1M90.4 66.9H91.7M90.8 71.6H92.0M91.8 74.0H93.0M92.3 71.6H93.5M92.6 74.0H93.7M92.8 76.3H94.0M93.1 74.0H94.2M93.3 76.3H94.6M93.8 81.0H95.3M94.6 71.6H95.7M95.2 71.6H96.5M96.0 71.6H97.1M96.5 74.0H97.7M97.0 76.3H98.1M97.2 81.0H98.6M97.7 83.4H99.0M98.5 81.0H99.6M99.6 78.7H100.7M100.1 78.7H101.2M101.2 81.0H102.5M102.8 76.3H103.9M103.1 71.6H104.3M103.4 76.3H104.5M104.1 69.3H105.3M104.4 74.0H105.6M105.4 78.7H106.6M105.8 76.3H107.0M106.1 74.0H107.3M106.5 78.7H107.6M107.1 74.0H108.3M107.8 66.9H108.9M108.9 69.3H110.0M110.4 74.0H111.5M110.7 66.9H111.8M110.9 69.3H112.0M111.2 74.0H112.3M111.5 74.0H112.7M111.9 64.6H113.3M113.0 71.6H114.2M113.6 69.3H114.8M114.7 76.3H115.8M116.7 64.6H117.8M117.3 74.0H118.6M117.7 66.9H118.8M118.4 62.2H119.6M118.8 66.9H120.0M119.8 69.3H121.1M120.2 66.9H121.3M120.6 66.9H121.7M121.0 69.3H122.1M122.2 66.9H123.3M122.5 69.3H123.6M123.5 64.6H124.6M123.8 71.6H125.1M124.7 66.9H125.9M125.0 62.2H126.4M126.2 78.7H127.5M126.9 71.6H128.1M127.5 78.7H128.6M127.7 76.3H128.9M128.0 78.7H129.2M129.2 78.7H130.4M130.0 74.0H131.1M131.4 71.6H132.5M131.6 76.3H132.9M132.4 76.3H133.5M132.9 74.0H134.1M133.8 64.6H134.9M134.0 74.0H135.1M134.6 81.0H135.8M136.2 76.3H137.3M137.2 78.7H138.4M138.0 90.4H139.2M139.8 102.1H141.0M140.3 104.5H141.4M140.5 99.8H141.7M140.8 102.1H142.0M141.8 106.8H142.9M142.6 106.8H143.7M143.8 111.5H144.9M144.1 113.9H145.2M144.3 111.5H145.4M145.2 113.9H146.7M145.8 116.2H146.9M146.2 111.5H147.3M146.6 111.5H147.8M147.7 111.5H148.8M148.1 104.5H149.2M148.5 102.1H149.6M149.7 123.3H150.8M150.3 104.5H151.5M151.5 113.9H152.6M152.5 109.2H153.6M152.7 116.2H154.1M153.6 113.9H154.7M153.9 116.2H155.0M155.5 128.0H156.7M156.0 125.6H157.1M156.2 123.3H157.4M156.6 123.3H157.7M156.9 120.9H158.0M158.1 116.2H159.4M159.1 125.6H160.3M159.5 125.6H160.6M160.1 116.2H161.4M160.5 113.9H161.6M160.8 109.2H161.9M161.1 116.2H162.3M161.4 118.6H162.5M162.6 125.6H163.8M163.3 118.6H164.6M164.2 130.3H165.3M165.2 137.4H166.3M165.4 135.0H166.5M165.7 130.3H166.9M166.7 125.6H167.9M167.0 120.9H168.4M168.3 132.7H169.4M168.7 125.6H169.8M169.7 137.4H170.9M170.8 125.6H171.9M171.2 125.6H172.3M172.6 142.1H173.8M174.1 132.7H175.2M174.7 137.4H175.8M175.6 135.0H176.8M176.0 139.7H177.2M176.8 130.3H178.0M179.3 132.7H180.5M181.2 142.1H182.5M182.5 137.4H183.6M182.9 142.1H184.1M185.0 132.7H186.1M185.7 132.7H186.9M186.0 130.3H187.1M187.0 128.0H188.1M187.3 130.3H188.4M187.8 128.0H189.0M188.5 132.7H189.6M189.3 125.6H190.4M190.4 120.9H191.6M191.3 139.7H192.5M192.0 142.1H193.1M193.5 144.4H194.7M194.3 142.1H195.5M196.4 146.8H197.5M196.7 144.4H197.8M198.1 153.8H199.2M198.3 146.8H199.4M198.8 142.1H199.9M199.3 153.8H200.4M199.9 144.4H201.1M200.3 153.8H201.4M200.7 153.8H201.8M200.9 156.2H202.1M201.3 151.5H202.4M203.4 139.7H204.6M204.6 137.4H205.7M205.0 139.7H206.2M208.3 149.1H209.6M208.7 137.4H209.8M209.4 151.5H210.5M209.9 149.1H211.0M210.4 151.5H211.5M210.9 142.1H212.1M211.6 142.1H212.7M212.4 142.1H213.5M212.6 144.4H213.7M212.9 142.1H214.0M213.2 139.7H214.4M213.9 137.4H215.0" stroke="#ff0000" stroke-width="1.8" fill="none"/>
<polygon points="285.3,76.9 285.6,78.6 285.8,78.4 286.1,78.2 286.3,67.8 286.6,67.8 286.8,67.8 287.1,67.8 287.3,67.8 287.6,67.8 287.8,67.8 288.1,67.8 288.3,67.8 288.6,67.8 288.8,67.8 289.1,79.5 289.3,79.3 289.6,79.0 289.8,78.8 290.1,78.5 290.3,78.5 290.6,77.2 290.8,78.7 291.1,77.4 291.3,75.8 291.6,54.3 291.8,54.3 292.1,54.3 292.3,54.3 292.6,54.3 292.8,54.3 293.1,54.3 293.3,64.0 293.6,64.0 293.8,64.0 294.1,64.0 294.3,64.0 294.6,64.0 294.8,64.0 295.1,64.0 295.3,64.0 295.6,64.0 295.8,64.0 296.1,64.0 296.3,77.9 296.6,79.1 296.8,77.4 297.1,79.5 297.3,78.5 297.6,78.6 297.8,60.3 298.1,60.3 298.3,60.3 298.6,60.3 298.8,60.3 299.1,60.3 299.3,60.3 299.6,60.3 299.8,78.8 300.1,77.9 300.3,78.7 300.6,78.2 300.8,76.6 301.1,77.7 301.3,79.2 301.6,79.3 301.8,79.0 302.1,79.5 302.3,77.5 302.6,78.2 302.8,70.6 303.1,70.6 303.3,70.6 303.6,70.6 303.8,70.6 304.1,70.6 304.3,70.6 304.6,70.6 304.8,70.6 305.1,76.8 305.3,78.3 305.6,77.9 305.8,78.8 306.1,78.5 306.3,78.5 306.6,79.5 306.8,55.9 307.1,55.9 307.3,55.9 307.6,55.9 307.8,55.9 308.1,55.9 308.3,55.9 308.6,55.9 308.8,55.9 309.1,55.9 309.3,55.9 309.6,79.3 309.8,68.5 310.1,68.5 310.3,68.5 310.6,68.5 310.8,68.5 311.1,68.5 311.3,68.5 311.6,68.5 311.8,68.5 312.1,68.5 312.3,68.5 312.6,68.5 312.8,79.1 313.1,79.0 313.3,77.0 313.6,76.3 313.8,77.3 314.1,68.3 314.3,68.3 314.6,68.3 314.8,68.3 315.1,68.3 315.3,68.3 315.6,68.3 315.8,78.4 316.1,77.8 316.3,78.8 316.6,79.4 316.8,79.2 317.1,77.5 317.3,78.9 317.6,76.7 317.8,78.1 318.1,77.2 318.3,55.0 318.6,55.0 318.8,55.0 319.1,55.0 319.3,55.0 319.6,55.0 319.8,55.0 320.1,55.0 320.3,55.0 320.6,78.6 320.8,78.7 321.1,59.4 321.3,59.4 321.6,59.4 321.8,59.4 322.1,59.4 322.3,59.4 322.6,59.4 322.8,59.4 323.1,59.4 323.3,59.4 323.6,59.4 323.8,59.4 324.1,77.6 324.3,76.0 324.6,78.3 324.8,56.4 325.1,56.4 325.3,56.4 325.6,56.4 325.8,56.4 326.1,56.4 326.3,56.4 326.6,56.4 326.8,56.4 327.1,56.4 327.3,56.4 327.6,56.4 327.8,79.5 328.1,78.6 328.3,78.6 328.6,79.4 328.8,79.4 329.1,77.9 329.3,77.4 329.6,79.4 329.8,77.6 330.1,63.5 330.3,63.5 330.6,63.5 330.8,63.5 331.1,63.5 331.3,63.5 331.6,78.7 331.8,79.5 332.1,76.7 332.3,76.4 332.6,79.5 332.8,78.6 333.1,77.0 333.3,41.5 333.6,41.5 333.8,41.5 334.1,41.5 334.3,41.5 334.6,41.5 334.8,41.5 335.1,41.5 335.3,41.5 335.6,41.5 335.8,41.5 336.1,41.5 336.3,41.5 336.6,56.6 336.8,56.6 337.1,56.6 337.3,56.6 337.6,56.6 337.8,56.6 338.1,67.5 338.3,69.5 338.6,69.0 338.8,67.4 339.1,58.0 339.3,58.0 339.6,58.0 339.8,58.0 340.1,58.0 340.3,58.0 340.6,58.0 340.8,58.0 341.1,24.4 341.3,24.4 341.6,24.4 341.8,24.4 342.1,24.4 342.3,24.4 342.6,24.4 342.8,24.4 343.1,32.5 343.3,32.5 343.6,32.5 343.8,32.5 344.1,32.5 344.3,32.5 344.6,68.2 344.8,56.2 345.1,56.2 345.3,56.2 345.6,56.2 345.8,56.2 346.1,56.2 346.3,51.7 346.6,51.7 346.8,51.7 347.1,51.7 347.3,51.7 347.6,51.7 347.8,51.7 348.1,37.4 348.3,37.4 348.6,37.4 348.8,37.4 349.1,37.4 349.3,37.4 349.6,37.4 349.8,37.4 350.1,37.4 350.3,37.4 350.6,37.4 350.8,59.8 351.1,59.8 351.3,59.8 351.6,59.8 351.8,59.8 352.1,59.8 352.3,59.8 352.6,59.8 352.8,49.0 353.1,49.0 353.3,49.0 353.6,49.0 353.8,49.0 354.1,49.0 354.3,49.0 354.6,49.0 354.8,49.0 355.1,69.5 355.3,68.6 355.6,49.3 355.8,49.3 356.1,49.3 356.3,49.3 356.6,49.3 356.8,49.3 357.1,49.3 357.3,49.3 357.6,49.3 357.8,70.0 358.1,67.8 358.3,66.5 358.6,48.6 358.8,48.6 359.1,48.6 359.3,48.6 359.6,48.6 359.8,48.6 360.1,48.6 360.3,76.2 360.6,73.2 360.8,63.2 361.1,63.2 361.3,63.2 361.6,63.2 361.8,63.2 362.1,63.2 362.3,63.2 362.6,86.7 362.8,88.0 363.1,89.6 363.3,88.2 363.6,91.6 363.8,76.3 364.1,76.3 364.3,76.3 364.6,76.3 364.8,76.3 365.1,76.3 365.3,76.3 365.6,76.3 365.8,98.7 366.1,99.2 366.3,100.4 366.6,101.6 366.8,99.5 367.1,103.9 367.3,104.6 367.6,104.8 367.8,82.2 368.1,82.2 368.3,82.2 368.6,82.2 368.8,82.2 369.1,82.2 369.3,82.2 369.6,82.2 369.8,82.2 370.1,82.2 370.3,110.7 370.6,111.6 370.8,109.6 371.1,80.9 371.3,80.9 371.6,80.9 371.8,80.9 372.1,80.9 372.3,80.9 372.6,110.9 372.8,112.9 373.1,113.7 373.3,112.8 373.6,113.7 373.8,113.0 374.1,114.5 374.3,114.5 374.6,112.3 374.8,115.3 375.1,114.6 375.3,115.5 375.6,99.6 375.8,99.6 376.1,99.6 376.3,99.6 376.6,99.6 376.8,99.6 377.1,99.6 377.3,99.6 377.6,116.8 377.8,115.4 378.1,116.2 378.3,115.8 378.6,116.8 378.8,114.6 379.1,116.9 379.3,116.2 379.6,92.7 379.8,92.7 380.1,92.7 380.3,92.7 380.6,92.7 380.8,92.7 381.1,92.7 381.3,92.7 381.6,92.7 381.8,92.7 382.1,92.7 382.3,92.7 382.6,92.7 382.8,116.0 383.1,116.0 383.3,115.8 383.6,115.1 383.8,116.7 384.1,117.0 384.3,116.9 384.6,116.5 384.8,109.0 385.1,109.0 385.3,109.0 385.6,109.0 385.8,109.0 386.1,109.0 386.3,109.0 386.6,109.0 386.8,109.0 387.1,117.0 387.3,115.0 387.6,115.2 387.8,116.1 388.1,116.2 388.3,115.3 388.6,116.9 388.8,115.7 389.1,116.2 389.3,110.3 389.6,110.3 389.8,110.3 390.1,110.3 390.3,110.3 390.6,110.3 390.8,110.3 391.1,110.3 391.3,110.3 391.6,116.5 391.8,115.6 392.1,117.1 392.3,116.9 392.6,117.1 392.8,115.0 393.1,116.6 393.3,116.2 393.6,117.2 393.8,117.6 394.1,116.8 394.3,117.3 394.6,115.8 394.8,106.0 395.1,106.0 395.3,106.0 395.6,106.0 395.8,106.0 396.1,106.0 396.3,115.9 396.6,115.9 396.8,118.2 397.1,118.2 397.3,118.2 397.6,103.0 397.8,103.0 398.1,103.0 398.3,103.0 398.6,103.0 398.8,103.0 399.1,103.0 399.3,118.4 399.6,117.3 399.8,118.6 400.1,118.5 400.3,118.7 400.6,87.3 400.8,87.3 401.1,87.3 401.3,87.3 401.6,87.3 401.8,87.3 402.1,87.3 402.3,87.3 402.6,87.3 402.8,116.9 403.1,119.1 403.3,119.0 403.6,117.8 403.8,119.1 404.1,118.5 404.3,116.5 404.6,118.0 404.8,111.7 405.1,111.7 405.3,111.7 405.6,111.7 405.8,111.7 406.1,111.7 406.3,118.7 406.6,119.8 406.8,119.1 407.1,119.9 407.3,118.6 407.6,119.7 407.8,120.1 408.1,119.8 408.3,119.0 408.6,119.2 408.8,120.0 409.1,106.4 409.3,106.4 409.6,106.4 409.8,106.4 410.1,106.4 410.3,106.4 410.6,106.4 410.8,106.4 411.1,106.4 411.3,106.4 411.6,106.4 411.8,106.4 412.1,119.9 412.3,99.6 412.6,99.6 412.8,99.6 413.1,99.6 413.3,99.6 413.6,99.6 413.8,99.6 414.1,99.6 414.3,99.6 414.6,99.6 414.8,116.4 415.1,116.4 415.3,116.4 415.6,116.4 415.8,116.4 416.1,116.4 416.3,116.4 416.6,121.6 416.8,111.3 417.1,111.3 417.3,111.3 417.6,111.3 417.8,111.3 418.1,111.3 418.3,111.3 418.6,121.4 418.8,121.9 419.1,123.4 419.3,122.9 419.6,108.8 419.8,108.8 420.1,108.8 420.3,108.8 420.6,108.8 420.8,108.8 421.1,108.8 421.3,108.8 421.6,124.2 421.8,122.5 422.1,124.5 422.3,111.0 422.6,111.0 422.8,111.0 423.1,111.0 423.3,111.0 423.6,111.0 423.8,111.0 424.1,111.0 424.3,102.0 424.6,102.0 424.8,102.0 425.1,102.0 425.3,102.0 425.6,102.0 425.8,102.0 426.1,102.0 426.3,102.0 426.6,126.6 426.8,127.5 427.1,127.0 427.3,128.6 427.6,126.6 427.8,127.7 428.1,129.4 428.3,128.5 428.6,130.0 428.8,129.8 429.1,129.9 429.3,128.8 429.6,129.1 429.8,127.3 430.1,127.3 430.3,127.3 430.6,127.3 430.8,127.3 431.1,132.0 431.3,132.0 431.6,113.1 431.8,113.1 432.1,113.1 432.3,113.1 432.6,113.1 432.8,113.1 433.1,113.1 433.3,113.1 433.6,132.3 433.8,133.6 434.1,134.1 434.3,133.8 434.6,134.1 434.8,133.5 435.1,134.4 435.3,133.1 435.6,133.8 435.8,135.5 436.1,135.2 436.3,134.9 436.6,121.5 436.8,121.5 437.1,121.5 437.3,121.5 437.6,121.5 437.8,121.5 438.1,136.2 438.3,135.9 438.6,136.3 438.8,137.1 439.1,129.8 439.3,129.8 439.6,129.8 439.8,129.8 440.1,129.8 440.3,129.8 440.6,129.8 440.8,129.8 441.1,129.8 441.3,138.5 441.6,139.3 441.8,139.2 442.1,139.7 442.3,139.8 442.6,139.8 442.8,140.3 443.1,136.9 443.3,136.9 443.6,136.9 443.8,136.9 444.1,136.9 444.3,136.9 444.6,136.9 444.8,136.9 445.1,136.9 445.3,136.9 445.6,136.9 445.8,136.9 446.1,142.7 446.3,142.5 446.6,142.5 446.8,135.9 447.1,135.9 447.3,135.9 447.6,135.9 447.8,135.9 448.1,135.9 448.1,177.9 447.8,178.0 447.6,178.8 447.3,177.5 447.1,177.2 446.8,178.9 446.6,177.5 446.3,177.9 446.1,178.2 445.8,177.0 445.6,180.3 445.3,180.3 445.1,180.3 444.8,180.3 444.6,180.3 444.3,180.3 444.1,180.3 443.8,180.3 443.6,180.3 443.3,175.7 443.1,176.1 442.8,176.0 442.6,175.9 442.3,177.4 442.1,175.0 441.8,176.4 441.6,180.3 441.3,180.3 441.1,180.3 440.8,180.3 440.6,180.3 440.3,180.3 440.1,180.3 439.8,180.3 439.6,180.3 439.3,180.3 439.1,176.1 438.8,174.2 438.6,174.3 438.3,173.6 438.1,174.1 437.8,173.2 437.6,173.0 437.3,180.3 437.1,180.3 436.8,180.3 436.6,180.3 436.3,180.3 436.1,180.3 435.8,180.3 435.6,180.3 435.3,180.3 435.1,172.8 434.8,173.6 434.6,171.7 434.3,177.5 434.1,177.5 433.8,177.5 433.6,177.5 433.3,177.5 433.1,177.5 432.8,177.5 432.6,177.5 432.3,180.3 432.1,180.3 431.8,180.3 431.6,180.3 431.3,180.3 431.1,180.3 430.8,180.3 430.6,180.3 430.3,171.4 430.1,170.9 429.8,171.4 429.6,180.3 429.3,180.3 429.1,180.3 428.8,180.3 428.6,180.3 428.3,180.3 428.1,180.3 427.8,180.3 427.6,180.3 427.3,180.3 427.1,180.3 426.8,180.3 426.6,167.6 426.3,178.8 426.1,178.8 425.8,178.8 425.6,178.8 425.3,178.8 425.1,178.8 424.8,178.8 424.6,178.8 424.3,178.8 424.1,178.8 423.8,178.8 423.6,178.8 423.3,165.5 423.1,165.2 422.8,180.3 422.6,180.3 422.3,180.3 422.1,180.3 421.8,180.3 421.6,180.3 421.3,180.3 421.1,164.2 420.8,165.3 420.6,166.0 420.3,164.2 420.1,164.4 419.8,164.5 419.6,163.7 419.3,164.9 419.1,163.9 418.8,164.8 418.6,163.8 418.3,163.8 418.1,180.3 417.8,180.3 417.6,180.3 417.3,180.3 417.1,180.3 416.8,180.3 416.6,180.3 416.3,163.4 416.1,163.7 415.8,163.9 415.6,165.7 415.3,173.4 415.1,173.4 414.8,173.4 414.6,173.4 414.3,173.4 414.1,173.4 413.8,173.4 413.6,173.4 413.3,173.4 413.1,162.7 412.8,162.8 412.6,163.2 412.3,162.6 412.1,161.3 411.8,162.4 411.6,161.8 411.3,163.1 411.1,161.3 410.8,164.3 410.6,180.3 410.3,180.3 410.1,180.3 409.8,180.3 409.6,180.3 409.3,180.3 409.1,180.3 408.8,180.3 408.6,180.3 408.3,180.3 408.1,180.3 407.8,163.0 407.6,161.6 407.3,180.3 407.1,180.3 406.8,180.3 406.6,180.3 406.3,180.3 406.1,180.3 405.8,180.3 405.6,160.4 405.3,159.9 405.1,159.9 404.8,169.9 404.6,169.9 404.3,169.9 404.1,169.9 403.8,169.9 403.6,169.9 403.3,169.9 403.1,169.9 402.8,169.9 402.6,169.9 402.3,169.9 402.1,165.2 401.8,165.2 401.6,165.2 401.3,165.2 401.1,165.2 400.8,165.2 400.6,165.2 400.3,165.2 400.1,165.2 399.8,165.2 399.6,158.6 399.3,159.8 399.1,158.9 398.8,159.6 398.6,159.5 398.3,164.3 398.1,164.3 397.8,164.3 397.6,164.3 397.3,164.3 397.1,164.3 396.8,164.3 396.6,164.3 396.3,164.3 396.1,159.4 395.8,159.0 395.6,158.7 395.3,158.4 395.1,158.9 394.8,159.9 394.6,160.2 394.3,180.3 394.1,180.3 393.8,180.3 393.6,180.3 393.3,180.3 393.1,180.3 392.8,180.3 392.6,169.3 392.3,169.3 392.1,169.3 391.8,169.3 391.6,169.3 391.3,169.3 391.1,169.3 390.8,169.3 390.6,157.9 390.3,157.9 390.1,171.7 389.8,171.7 389.6,171.7 389.3,171.7 389.1,171.7 388.8,171.7 388.6,171.7 388.3,157.7 388.1,157.0 387.8,159.4 387.6,158.3 387.3,157.7 387.1,157.0 386.8,157.2 386.6,157.5 386.3,170.0 386.1,170.0 385.8,170.0 385.6,170.0 385.3,170.0 385.1,170.0 384.8,170.0 384.6,170.0 384.3,170.0 384.1,170.0 383.8,170.0 383.6,155.6 383.3,155.2 383.1,156.2 382.8,154.9 382.6,155.5 382.3,173.7 382.1,173.7 381.8,173.7 381.6,173.7 381.3,173.7 381.1,173.7 380.8,173.7 380.6,173.7 380.3,173.7 380.1,173.7 379.8,154.0 379.6,154.2 379.3,154.2 379.1,154.9 378.8,154.1 378.6,153.7 378.3,153.6 378.1,153.4 377.8,153.9 377.6,153.1 377.3,152.8 377.1,153.1 376.8,153.0 376.6,167.8 376.3,167.8 376.1,167.8 375.8,167.8 375.6,167.8 375.3,167.8 375.1,153.3 374.8,152.5 374.6,161.3 374.3,161.3 374.1,161.3 373.8,161.3 373.6,161.3 373.3,151.6 373.1,152.0 372.8,152.5 372.6,151.2 372.3,153.1 372.1,151.0 371.8,151.4 371.6,151.6 371.3,151.0 371.1,151.1 370.8,150.6 370.6,152.5 370.3,150.6 370.1,151.7 369.8,150.9 369.6,172.7 369.3,172.7 369.1,172.7 368.8,172.7 368.6,172.7 368.3,172.7 368.1,172.7 367.8,149.1 367.6,148.5 367.3,167.9 367.1,167.9 366.8,167.9 366.6,167.9 366.3,167.9 366.1,167.9 365.8,167.9 365.6,167.9 365.3,167.9 365.1,167.9 364.8,167.9 364.6,167.9 364.3,149.2 364.1,149.2 363.8,149.2 363.6,150.0 363.3,150.0 363.1,150.0 362.8,150.0 362.6,150.0 362.3,150.0 362.1,150.0 361.8,150.0 361.6,150.0 361.3,150.0 361.1,150.0 360.8,150.0 360.6,131.6 360.3,132.8 360.1,130.9 359.8,130.7 359.6,131.1 359.3,141.8 359.1,141.8 358.8,141.8 358.6,141.8 358.3,141.8 358.1,141.8 357.8,141.8 357.6,126.0 357.3,126.2 357.1,126.8 356.8,124.3 356.6,124.5 356.3,124.5 356.1,124.5 355.8,124.2 355.6,125.2 355.3,131.1 355.1,131.1 354.8,131.1 354.6,131.1 354.3,131.1 354.1,131.1 353.8,131.1 353.6,126.4 353.3,124.9 353.1,124.3 352.8,123.7 352.6,123.4 352.3,126.2 352.1,125.7 351.8,124.4 351.6,128.2 351.3,128.2 351.1,128.2 350.8,128.2 350.6,128.2 350.3,124.0 350.1,123.1 349.8,123.4 349.6,124.6 349.3,124.8 349.1,123.6 348.8,123.8 348.6,123.7 348.3,123.8 348.1,123.1 347.8,124.0 347.6,122.9 347.3,124.8 347.1,123.6 346.8,127.2 346.6,127.2 346.3,127.2 346.1,127.2 345.8,127.2 345.6,127.2 345.3,127.2 345.1,122.6 344.8,123.5 344.6,122.1 344.3,122.1 344.1,125.3 343.8,123.1 343.6,122.1 343.3,123.9 343.1,121.9 342.8,122.4 342.6,122.6 342.3,133.9 342.1,133.9 341.8,133.9 341.6,133.9 341.3,133.9 341.1,133.9 340.8,133.9 340.6,133.9 340.3,121.6 340.1,122.7 339.8,121.0 339.6,123.4 339.3,127.1 339.1,127.1 338.8,127.1 338.6,127.1 338.3,127.1 338.1,127.1 337.8,127.1 337.6,120.9 337.3,121.0 337.1,122.2 336.8,121.4 336.6,126.0 336.3,126.0 336.1,126.0 335.8,126.0 335.6,126.0 335.3,126.0 335.1,126.0 334.8,126.0 334.6,119.2 334.3,118.4 334.1,118.7 333.8,143.4 333.6,143.4 333.3,143.4 333.1,143.4 332.8,143.4 332.6,143.4 332.3,143.4 332.1,143.4 331.8,119.3 331.6,118.4 331.3,119.5 331.1,118.3 330.8,118.2 330.6,118.0 330.3,117.8 330.1,123.4 329.8,123.4 329.6,123.4 329.3,123.4 329.1,123.4 328.8,123.4 328.6,123.4 328.3,123.4 328.1,123.4 327.8,123.4 327.6,123.4 327.3,117.9 327.1,117.0 326.8,119.6 326.6,130.2 326.3,130.2 326.1,130.2 325.8,130.2 325.6,130.2 325.3,130.2 325.1,130.2 324.8,130.2 324.6,130.2 324.3,117.6 324.1,118.2 323.8,116.6 323.6,117.2 323.3,116.7 323.1,119.0 322.8,116.9 322.6,117.7 322.3,134.4 322.1,134.4 321.8,134.4 321.6,134.4 321.3,134.4 321.1,134.4 320.8,134.4 320.6,116.3 320.3,116.4 320.1,116.4 319.8,118.4 319.6,119.1 319.3,128.2 319.1,128.2 318.8,128.2 318.6,128.2 318.3,128.2 318.1,128.2 317.8,128.2 317.6,128.2 317.3,128.2 317.1,128.2 316.8,128.2 316.6,128.2 316.3,130.5 316.1,130.5 315.8,130.5 315.6,130.5 315.3,130.5 315.1,130.5 314.8,130.5 314.6,130.5 314.3,130.5 314.1,130.5 313.8,130.5 313.6,130.5 313.3,122.4 313.1,122.4 312.8,122.4 312.6,122.4 312.3,122.4 312.1,122.4 311.8,122.4 311.6,122.4 311.3,122.4 311.1,117.2 310.8,116.2 310.6,131.1 310.3,131.1 310.1,131.1 309.8,131.1 309.6,131.1 309.3,131.1 309.1,131.1 308.8,131.1 308.6,115.9 308.3,116.8 308.1,115.7 307.8,119.3 307.6,116.9 307.3,115.9 307.1,117.0 306.8,115.9 306.6,142.3 306.3,142.3 306.1,142.3 305.8,142.3 305.6,142.3 305.3,142.3 305.1,117.4 304.8,118.5 304.6,116.2 304.3,115.2 304.1,116.6 303.8,116.3 303.6,116.0 303.3,116.7 303.1,115.7 302.8,115.5 302.6,138.5 302.3,138.5 302.1,138.5 301.8,138.5 301.6,138.5 301.3,138.5 301.1,138.5 300.8,116.2 300.6,116.4 300.3,116.5 300.1,116.9 299.8,115.6 299.6,116.4 299.3,116.3 299.1,116.3 298.8,114.9 298.6,114.9 298.3,116.2 298.1,115.1 297.8,115.2 297.6,134.6 297.3,134.6 297.1,134.6 296.8,134.6 296.6,134.6 296.3,134.6 296.1,115.3 295.8,115.0 295.6,116.2 295.3,119.4 295.1,119.4 294.8,119.4 294.6,119.4 294.3,119.4 294.1,113.9 293.8,120.8 293.6,120.8 293.3,120.8 293.1,120.8 292.8,120.8 292.6,120.8 292.3,120.8 292.1,120.8 291.8,110.2 291.6,111.5 291.3,110.4 291.1,111.4 290.8,111.7 290.6,109.7 290.3,110.4 290.1,129.5 289.8,129.5 289.6,129.5 289.3,129.5 289.1,129.5 288.8,129.5 288.6,110.5 288.3,107.1 288.1,107.6 287.8,106.6 287.6,106.7 287.3,106.0 287.1,106.4 286.8,107.6 286.6,107.9 286.3,106.0 286.1,105.2 285.8,106.5 285.6,104.5 285.3,105.9" fill="#8892ea" stroke="none"/>
<polyline points="284.9,81.9 285.0,86.6 285.1,91.3 285.2,91.3 285.3,96.0 285.4,100.6 285.5,96.0 285.6,81.9 285.7,81.9 285.8,77.2 285.9,91.3 286.0,91.3 286.1,96.0 286.2,91.3 286.3,91.3 286.4,91.3 286.5,91.3 286.6,96.0 286.7,100.6 286.8,96.0 286.9,100.6 287.0,105.3 287.1,100.6 287.3,100.6 287.4,96.0 287.5,91.3 287.6,86.6 287.7,86.6 287.8,86.6 287.9,81.9 288.0,96.0 288.1,91.3 288.2,96.0 288.3,100.6 288.4,96.0 288.5,96.0 288.6,91.3 288.7,86.6 288.8,100.6 288.9,96.0 289.0,86.6 289.1,81.9 289.2,77.2 289.3,81.9 289.4,91.3 289.5,96.0 289.6,91.3 289.7,86.6 289.8,91.3 289.9,91.3 290.0,91.3 290.1,100.6 290.2,100.6 290.3,86.6 290.4,77.2 290.5,81.9 290.6,72.5 290.7,81.9 290.8,86.6 290.9,100.6 291.0,91.3 291.1,96.0 291.2,81.9 291.3,81.9 291.4,81.9 291.5,96.0 291.6,86.6 291.7,86.6 291.8,91.3 291.9,100.6 292.0,91.3 292.2,86.6 292.3,91.3 292.4,91.3 292.5,86.6 292.6,81.9 292.7,86.6 292.8,77.2 292.9,81.9 293.0,86.6 293.1,91.3 293.2,105.3 293.3,105.3 293.4,96.0 293.5,91.3 293.6,96.0 293.7,91.3 293.8,100.6 293.9,100.6 294.0,96.0 294.1,91.3 294.2,91.3 294.3,86.6 294.4,77.2 294.5,81.9 294.6,81.9 294.7,91.3 294.8,100.6 294.9,96.0 295.0,91.3 295.1,91.3 295.2,96.0 295.3,96.0 295.4,86.6 295.5,81.9 295.6,81.9 295.7,96.0 295.8,86.6 295.9,81.9 296.0,81.9 296.1,81.9 296.2,72.5 296.3,77.2 296.4,77.2 296.5,91.3 296.6,96.0 296.7,96.0 296.8,96.0 297.0,91.3 297.1,96.0 297.2,81.9 297.3,91.3 297.4,91.3 297.5,91.3 297.6,96.0 297.7,91.3 297.8,86.6 297.9,91.3 298.0,81.9 298.1,81.9 298.2,81.9 298.3,91.3 298.4,100.6 298.5,100.6 298.6,100.6 298.7,100.6 298.8,91.3 298.9,105.3 299.0,105.3 299.1,110.0 299.2,96.0 299.3,96.0 299.4,100.6 299.5,100.6 299.6,91.3 299.7,96.0 299.8,91.3 299.9,100.6 300.0,91.3 300.1,91.3 300.2,86.6 300.3,81.9 300.4,86.6 300.5,86.6 300.6,81.9 300.7,81.9 300.8,86.6 300.9,86.6 301.0,91.3 301.1,86.6 301.2,81.9 301.3,86.6 301.4,77.2 301.5,86.6 301.6,91.3 301.8,81.9 301.9,86.6 302.0,96.0 302.1,86.6 302.2,86.6 302.3,91.3 302.4,86.6 302.5,96.0 302.6,100.6 302.7,96.0 302.8,96.0 302.9,100.6 303.0,100.6 303.1,100.6 303.2,100.6 303.3,96.0 303.4,91.3 303.5,91.3 303.6,100.6 303.7,105.3 303.8,100.6 303.9,91.3 304.0,86.6 304.1,91.3 304.2,86.6 304.3,91.3 304.4,86.6 304.5,91.3 304.6,86.6 304.7,81.9 304.8,86.6 304.9,86.6 305.0,91.3 305.1,91.3 305.2,86.6 305.3,63.2 305.4,67.8 305.5,72.5 305.6,86.6 305.7,81.9 305.8,91.3 305.9,96.0 306.0,91.3 306.1,96.0 306.2,86.6 306.3,81.9 306.4,86.6 306.6,91.3 306.7,96.0 306.8,105.3 306.9,96.0 307.0,91.3 307.1,91.3 307.2,86.6 307.3,91.3 307.4,91.3 307.5,96.0 307.6,96.0 307.7,86.6 307.8,81.9 307.9,86.6 308.0,86.6 308.1,81.9 308.2,72.5 308.3,86.6 308.4,91.3 308.5,91.3 308.6,81.9 308.7,91.3 308.8,86.6 308.9,91.3 309.0,77.2 309.1,77.2 309.2,81.9 309.3,86.6 309.4,81.9 309.5,81.9 309.6,91.3 309.7,86.6 309.8,96.0 309.9,100.6 310.0,105.3 310.1,105.3 310.2,105.3 310.3,105.3 310.4,100.6 310.5,91.3 310.6,91.3 310.7,96.0 310.8,91.3 310.9,100.6 311.0,110.0 311.1,100.6 311.2,91.3 311.4,86.6 311.5,91.3 311.6,96.0 311.7,96.0 311.8,91.3 311.9,96.0 312.0,96.0 312.1,105.3 312.2,105.3 312.3,96.0 312.4,91.3 312.5,96.0 312.6,100.6 312.7,100.6 312.8,96.0 312.9,100.6 313.0,96.0 313.1,110.0 313.2,110.0 313.3,100.6 313.4,91.3 313.5,100.6 313.6,100.6 313.7,91.3 313.8,96.0 313.9,96.0 314.0,91.3 314.1,91.3 314.2,81.9 314.3,81.9 314.4,86.6 314.5,91.3 314.6,91.3 314.7,96.0 314.8,100.6 314.9,91.3 315.0,100.6 315.1,91.3 315.2,91.3 315.3,91.3 315.4,86.6 315.5,86.6 315.6,81.9 315.7,86.6 315.8,86.6 315.9,91.3 316.0,81.9 316.2,77.2 316.3,86.6 316.4,91.3 316.5,96.0 316.6,91.3 316.7,91.3 316.8,77.2 316.9,91.3 317.0,86.6 317.1,86.6 317.2,91.3 317.3,91.3 317.4,96.0 317.5,91.3 317.6,86.6 317.7,96.0 317.8,86.6 317.9,91.3 318.0,81.9 318.1,81.9 318.2,77.2 318.3,77.2 318.4,77.2 318.5,81.9 318.6,86.6 318.7,86.6 318.8,81.9 318.9,72.5 319.0,91.3 319.1,91.3 319.2,86.6 319.3,96.0 319.4,96.0 319.5,81.9 319.6,77.2 319.7,86.6 319.8,77.2 319.9,77.2 320.0,77.2 320.1,77.2 320.2,81.9 320.3,86.6 320.4,91.3 320.5,86.6 320.6,86.6 320.7,77.2 320.8,81.9 321.0,100.6 321.1,100.6 321.2,96.0 321.3,91.3 321.4,91.3 321.5,96.0 321.6,86.6 321.7,91.3 321.8,86.6 321.9,91.3 322.0,96.0 322.1,86.6 322.2,100.6 322.3,105.3 322.4,96.0 322.5,96.0 322.6,91.3 322.7,91.3 322.8,96.0 322.9,81.9 323.0,86.6 323.1,86.6 323.2,96.0 323.3,96.0 323.4,91.3 323.5,86.6 323.6,91.3 323.7,96.0 323.8,91.3 323.9,100.6 324.0,100.6 324.1,96.0 324.2,100.6 324.3,96.0 324.4,100.6 324.5,100.6 324.6,86.6 324.7,86.6 324.8,81.9 324.9,81.9 325.0,81.9 325.1,77.2 325.2,77.2 325.3,67.8 325.4,77.2 325.5,77.2 325.6,81.9 325.8,105.3 325.9,110.0 326.0,105.3 326.1,96.0 326.2,96.0 326.3,91.3 326.4,81.9 326.5,86.6 326.6,81.9 326.7,72.5 326.8,77.2 326.9,86.6 327.0,77.2 327.1,81.9 327.2,86.6 327.3,86.6 327.4,91.3 327.5,86.6 327.6,81.9 327.7,77.2 327.8,77.2 327.9,86.6 328.0,91.3 328.1,86.6 328.2,86.6 328.3,72.5 328.4,81.9 328.5,86.6 328.6,81.9 328.7,81.9 328.8,81.9 328.9,86.6 329.0,86.6 329.1,81.9 329.2,81.9 329.3,86.6 329.4,86.6 329.5,81.9 329.6,81.9 329.7,100.6 329.8,105.3 329.9,105.3 330.0,100.6 330.1,96.0 330.2,91.3 330.3,86.6 330.4,86.6 330.6,91.3 330.7,81.9 330.8,86.6 330.9,86.6 331.0,77.2 331.1,81.9 331.2,96.0 331.3,91.3 331.4,96.0 331.5,96.0 331.6,86.6 331.7,86.6 331.8,86.6 331.9,86.6 332.0,81.9 332.1,86.6 332.2,86.6 332.3,86.6 332.4,91.3 332.5,91.3 332.6,91.3 332.7,96.0 332.8,100.6 332.9,91.3 333.0,91.3 333.1,91.3 333.2,91.3 333.3,91.3 333.4,91.3 333.5,91.3 333.6,96.0 333.7,91.3 333.8,96.0 333.9,86.6 334.0,100.6 334.1,105.3 334.2,96.0 334.3,96.0 334.4,96.0 334.5,96.0 334.6,100.6 334.7,96.0 334.8,110.0 334.9,105.3 335.0,105.3 335.1,100.6 335.2,91.3 335.4,96.0 335.5,86.6 335.6,91.3 335.7,105.3 335.8,119.4 335.9,100.6 336.0,96.0 336.1,100.6 336.2,105.3 336.3,105.3 336.4,96.0 336.5,96.0 336.6,81.9 336.7,86.6 336.8,105.3 336.9,96.0 337.0,96.0 337.1,96.0 337.2,86.6 337.3,91.3 337.4,81.9 337.5,86.6 337.6,91.3 337.7,91.3 337.8,96.0 337.9,86.6 338.0,81.9 338.1,81.9 338.2,81.9 338.3,81.9 338.4,86.6 338.5,81.9 338.6,86.6 338.7,86.6 338.8,96.0 338.9,91.3 339.0,91.3 339.1,96.0 339.2,100.6 339.3,100.6 339.4,91.3 339.5,96.0 339.6,96.0 339.7,81.9 339.8,81.9 339.9,96.0 340.0,96.0 340.2,86.6 340.3,91.3 340.4,86.6 340.5,81.9 340.6,81.9 340.7,86.6 340.8,91.3 340.9,96.0 341.0,96.0 341.1,91.3 341.2,86.6 341.3,91.3 341.4,91.3 341.5,91.3 341.6,100.6 341.7,105.3 341.8,105.3 341.9,105.3 342.0,105.3 342.1,100.6 342.2,105.3 342.3,96.0 342.4,96.0 342.5,105.3 342.6,100.6 342.7,105.3 342.8,91.3 342.9,96.0 343.0,100.6 343.1,96.0 343.2,96.0 343.3,96.0 343.4,86.6 343.5,86.6 343.6,81.9 343.7,81.9 343.8,91.3 343.9,81.9 344.0,81.9 344.1,77.2 344.2,91.3 344.3,86.6 344.4,86.6 344.5,91.3 344.6,77.2 344.7,81.9 344.8,86.6 345.0,86.6 345.1,81.9 345.2,81.9 345.3,81.9 345.4,77.2 345.5,72.5 345.6,86.6 345.7,96.0 345.8,100.6 345.9,100.6 346.0,86.6 346.1,86.6 346.2,96.0 346.3,100.6 346.4,91.3 346.5,96.0 346.6,96.0 346.7,96.0 346.8,105.3 346.9,100.6 347.0,96.0 347.1,91.3 347.2,100.6 347.3,105.3 347.4,105.3 347.5,100.6 347.6,100.6 347.7,100.6 347.8,86.6 347.9,81.9 348.0,91.3 348.1,96.0 348.2,86.6 348.3,91.3 348.4,86.6 348.5,77.2 348.6,86.6 348.7,91.3 348.8,96.0 348.9,100.6 349.0,105.3 349.1,105.3 349.2,100.6 349.3,100.6 349.4,100.6 349.5,105.3 349.6,110.0 349.7,96.0 349.9,114.7 350.0,114.7 350.1,105.3 350.2,110.0 350.3,105.3 350.4,96.0 350.5,100.6 350.6,100.6 350.7,105.3 350.8,100.6 350.9,100.6 351.0,100.6 351.1,91.3 351.2,91.3 351.3,86.6 351.4,86.6 351.5,96.0 351.6,96.0 351.7,96.0 351.8,105.3 351.9,96.0 352.0,96.0 352.1,96.0 352.2,100.6 352.3,100.6 352.4,100.6 352.5,100.6 352.6,100.6 352.7,114.7 352.8,100.6 352.9,110.0 353.0,119.4 353.1,119.4 353.2,119.4 353.3,110.0 353.4,114.7 353.5,110.0 353.6,110.0 353.7,96.0 353.8,96.0 353.9,81.9 354.0,96.0 354.1,91.3 354.2,100.6 354.3,96.0 354.4,96.0 354.5,105.3 354.7,114.7 354.8,114.7 354.9,119.4 355.0,119.4 355.1,119.4 355.2,124.1 355.3,119.4 355.4,110.0 355.5,114.7 355.6,114.7 355.7,110.0 355.8,110.0 355.9,114.7 356.0,105.3 356.1,100.6 356.2,96.0 356.3,100.6 356.4,91.3 356.5,81.9 356.6,91.3 356.7,96.0 356.8,91.3 356.9,100.6 357.0,100.6 357.1,100.6 357.2,105.3 357.3,105.3 357.4,114.7 357.5,114.7 357.6,124.1 357.7,105.3 357.8,96.0 357.9,91.3 358.0,96.0 358.1,91.3 358.2,86.6 358.3,86.6 358.4,86.6 358.5,100.6 358.6,96.0 358.7,105.3 358.8,110.0 358.9,114.7 359.0,110.0 359.1,105.3 359.2,110.0 359.3,100.6 359.5,96.0 359.6,100.6 359.7,105.3 359.8,105.3 359.9,100.6 360.0,105.3 360.1,110.0 360.2,110.0 360.3,119.4 360.4,114.7 360.5,105.3 360.6,105.3 360.7,100.6 360.8,100.6 360.9,100.6 361.0,100.6 361.1,110.0 361.2,110.0 361.3,110.0 361.4,100.6 361.5,96.0 361.6,96.0 361.7,105.3 361.8,110.0 361.9,110.0 362.0,105.3 362.1,105.3 362.2,105.3 362.3,110.0 362.4,105.3 362.5,105.3 362.6,105.3 362.7,110.0 362.8,100.6 362.9,105.3 363.0,96.0 363.1,96.0 363.2,100.6 363.3,96.0 363.4,100.6 363.5,110.0 363.6,114.7 363.7,119.4 363.8,114.7 363.9,114.7 364.0,110.0 364.1,105.3 364.3,124.1 364.4,119.4 364.5,128.8 364.6,124.1 364.7,124.1 364.8,119.4 364.9,110.0 365.0,119.4 365.1,119.4 365.2,119.4 365.3,128.8 365.4,119.4 365.5,119.4 365.6,119.4 365.7,124.1 365.8,100.6 365.9,110.0 366.0,119.4 366.1,124.1 366.2,124.1 366.3,124.1 366.4,124.1 366.5,124.1 366.6,119.4 366.7,119.4 366.8,128.8 366.9,128.8 367.0,128.8 367.1,119.4 367.2,114.7 367.3,119.4 367.4,119.4 367.5,114.7 367.6,105.3 367.7,114.7 367.8,110.0 367.9,110.0 368.0,119.4 368.1,119.4 368.2,114.7 368.3,119.4 368.4,114.7 368.5,110.0 368.6,110.0 368.7,114.7 368.8,114.7 368.9,105.3 369.1,114.7 369.2,114.7 369.3,110.0 369.4,114.7 369.5,110.0 369.6,114.7 369.7,110.0 369.8,110.0 369.9,114.7 370.0,114.7 370.1,114.7 370.2,119.4 370.3,119.4 370.4,128.8 370.5,119.4 370.6,114.7 370.7,105.3 370.8,105.3 370.9,114.7 371.0,110.0 371.1,114.7 371.2,119.4 371.3,110.0 371.4,119.4 371.5,114.7 371.6,114.7 371.7,119.4 371.8,124.1 371.9,124.1 372.0,124.1 372.1,119.4 372.2,114.7 372.3,124.1 372.4,128.8 372.5,128.8 372.6,133.4 372.7,133.4 372.8,133.4 372.9,128.8 373.0,138.1 373.1,138.1 373.2,128.8 373.3,133.4 373.4,138.1 373.5,124.1 373.6,119.4 373.7,128.8 373.9,133.4 374.0,128.8 374.1,133.4 374.2,133.4 374.3,133.4 374.4,128.8 374.5,142.8 374.6,147.5 374.7,147.5 374.8,138.1 374.9,133.4 375.0,138.1 375.1,133.4 375.2,128.8 375.3,128.8 375.4,128.8 375.5,128.8 375.6,119.4 375.7,124.1 375.8,119.4 375.9,124.1 376.0,128.8 376.1,133.4 376.2,128.8 376.3,128.8 376.4,133.4 376.5,124.1 376.6,124.1 376.7,119.4 376.8,133.4 376.9,128.8 377.0,133.4 377.1,133.4 377.2,138.1 377.3,128.8 377.4,124.1 377.5,128.8 377.6,133.4 377.7,133.4 377.8,133.4 377.9,124.1 378.0,133.4 378.1,142.8 378.2,138.1 378.3,133.4 378.4,133.4 378.5,128.8 378.7,119.4 378.8,124.1 378.9,128.8 379.0,138.1 379.1,133.4 379.2,128.8 379.3,128.8 379.4,124.1 379.5,124.1 379.6,119.4 379.7,119.4 379.8,128.8 379.9,133.4 380.0,138.1 380.1,142.8 380.2,138.1 380.3,133.4 380.4,119.4 380.5,124.1 380.6,128.8 380.7,133.4 380.8,128.8 380.9,124.1 381.0,128.8 381.1,128.8 381.2,124.1 381.3,133.4 381.4,128.8 381.5,128.8 381.6,133.4 381.7,133.4 381.8,124.1 381.9,119.4 382.0,110.0 382.1,124.1 382.2,128.8 382.3,124.1 382.4,133.4 382.5,133.4 382.6,142.8 382.7,128.8 382.8,124.1 382.9,124.1 383.0,124.1 383.1,128.8 383.2,128.8 383.3,128.8 383.5,133.4 383.6,124.1 383.7,128.8 383.8,133.4 383.9,124.1 384.0,128.8 384.1,124.1 384.2,128.8 384.3,142.8 384.4,133.4 384.5,138.1 384.6,133.4 384.7,138.1 384.8,147.5 384.9,138.1 385.0,133.4 385.1,133.4 385.2,138.1 385.3,133.4 385.4,138.1 385.5,138.1 385.6,138.1 385.7,138.1 385.8,133.4 385.9,133.4 386.0,128.8 386.1,128.8 386.2,138.1 386.3,142.8 386.4,138.1 386.5,138.1 386.6,133.4 386.7,142.8 386.8,138.1 386.9,128.8 387.0,133.4 387.1,138.1 387.2,138.1 387.3,138.1 387.4,133.4 387.5,133.4 387.6,128.8 387.7,133.4 387.8,124.1 387.9,138.1 388.0,142.8 388.1,133.4 388.3,142.8 388.4,133.4 388.5,138.1 388.6,138.1 388.7,138.1 388.8,138.1 388.9,138.1 389.0,133.4 389.1,133.4 389.2,124.1 389.3,124.1 389.4,133.4 389.5,128.8 389.6,124.1 389.7,119.4 389.8,114.7 389.9,124.1 390.0,119.4 390.1,119.4 390.2,124.1 390.3,124.1 390.4,142.8 390.5,142.8 390.6,128.8 390.7,138.1 390.8,138.1 390.9,133.4 391.0,133.4 391.1,124.1 391.2,133.4 391.3,133.4 391.4,128.8 391.5,138.1 391.6,133.4 391.7,124.1 391.8,119.4 391.9,119.4 392.0,138.1 392.1,138.1 392.2,133.4 392.3,133.4 392.4,133.4 392.5,119.4 392.6,124.1 392.7,128.8 392.8,128.8 392.9,133.4 393.1,133.4 393.2,133.4 393.3,128.8 393.4,128.8 393.5,138.1 393.6,133.4 393.7,133.4 393.8,133.4 393.9,128.8 394.0,124.1 394.1,133.4 394.2,133.4 394.3,124.1 394.4,119.4 394.5,124.1 394.6,119.4 394.7,128.8 394.8,138.1 394.9,133.4 395.0,133.4 395.1,128.8 395.2,128.8 395.3,128.8 395.4,133.4 395.5,128.8 395.6,128.8 395.7,128.8 395.8,128.8 395.9,138.1 396.0,138.1 396.1,128.8 396.2,124.1 396.3,124.1 396.4,128.8 396.5,133.4 396.6,133.4 396.7,128.8 396.8,138.1 396.9,133.4 397.0,133.4 397.1,128.8 397.2,138.1 397.3,133.4 397.4,138.1 397.5,133.4 397.6,133.4 397.7,138.1 397.9,128.8 398.0,124.1 398.1,133.4 398.2,119.4 398.3,128.8 398.4,128.8 398.5,124.1 398.6,138.1 398.7,133.4 398.8,133.4 398.9,133.4 399.0,138.1 399.1,138.1 399.2,142.8 399.3,142.8 399.4,142.8 399.5,147.5 399.6,133.4 399.7,142.8 399.8,142.8 399.9,142.8 400.0,138.1 400.1,133.4 400.2,128.8 400.3,133.4 400.4,133.4 400.5,133.4 400.6,128.8 400.7,128.8 400.8,133.4 400.9,142.8 401.0,128.8 401.1,128.8 401.2,128.8 401.3,128.8 401.4,133.4 401.5,138.1 401.6,138.1 401.7,138.1 401.8,142.8 401.9,147.5 402.0,142.8 402.1,138.1 402.2,138.1 402.3,138.1 402.4,147.5 402.5,142.8 402.7,142.8 402.8,147.5 402.9,152.2 403.0,142.8 403.1,147.5 403.2,138.1 403.3,142.8 403.4,138.1 403.5,138.1 403.6,142.8 403.7,142.8 403.8,142.8 403.9,138.1 404.0,138.1 404.1,138.1 404.2,133.4 404.3,128.8 404.4,128.8 404.5,124.1 404.6,124.1 404.7,124.1 404.8,124.1 404.9,124.1 405.0,128.8 405.1,128.8 405.2,119.4 405.3,124.1 405.4,128.8 405.5,133.4 405.6,133.4 405.7,133.4 405.8,138.1 405.9,147.5 406.0,142.8 406.1,147.5 406.2,142.8 406.3,142.8 406.4,133.4 406.5,128.8 406.6,128.8 406.7,133.4 406.8,138.1 406.9,142.8 407.0,142.8 407.1,147.5 407.2,147.5 407.3,142.8 407.5,138.1 407.6,138.1 407.7,138.1 407.8,142.8 407.9,142.8 408.0,147.5 408.1,142.8 408.2,133.4 408.3,133.4 408.4,133.4 408.5,138.1 408.6,133.4 408.7,138.1 408.8,133.4 408.9,133.4 409.0,138.1 409.1,133.4 409.2,133.4 409.3,133.4 409.4,133.4 409.5,133.4 409.6,138.1 409.7,133.4 409.8,138.1 409.9,138.1 410.0,142.8 410.1,147.5 410.2,147.5 410.3,147.5 410.4,142.8 410.5,138.1 410.6,142.8 410.7,142.8 410.8,152.2 410.9,152.2 411.0,152.2 411.1,156.9 411.2,161.6 411.3,152.2 411.4,147.5 411.5,147.5 411.6,147.5 411.7,133.4 411.8,138.1 411.9,142.8 412.0,133.4 412.1,133.4 412.2,133.4 412.4,128.8 412.5,133.4 412.6,133.4 412.7,133.4 412.8,138.1 412.9,133.4 413.0,133.4 413.1,142.8 413.2,142.8 413.3,138.1 413.4,138.1 413.5,138.1 413.6,138.1 413.7,138.1 413.8,142.8 413.9,138.1 414.0,133.4 414.1,133.4 414.2,128.8 414.3,128.8 414.4,128.8 414.5,124.1 414.6,128.8 414.7,124.1 414.8,119.4 414.9,124.1 415.0,119.4 415.1,124.1 415.2,133.4 415.3,128.8 415.4,128.8 415.5,133.4 415.6,133.4 415.7,128.8 415.8,128.8 415.9,138.1 416.0,133.4 416.1,133.4 416.2,138.1 416.3,142.8 416.4,142.8 416.5,142.8 416.6,142.8 416.7,138.1 416.8,128.8 416.9,128.8 417.0,128.8 417.2,124.1 417.3,124.1 417.4,128.8 417.5,128.8 417.6,133.4 417.7,133.4 417.8,138.1 417.9,142.8 418.0,142.8 418.1,147.5 418.2,142.8 418.3,142.8 418.4,142.8 418.5,138.1 418.6,138.1 418.7,142.8 418.8,142.8 418.9,147.5 419.0,156.9 419.1,161.6 419.2,147.5 419.3,156.9 419.4,147.5 419.5,138.1 419.6,142.8 419.7,133.4 419.8,128.8 419.9,128.8 420.0,124.1 420.1,124.1 420.2,133.4 420.3,133.4 420.4,138.1 420.5,147.5 420.6,152.2 420.7,138.1 420.8,142.8 420.9,142.8 421.0,147.5 421.1,142.8 421.2,142.8 421.3,147.5 421.4,152.2 421.5,156.9 421.6,156.9 421.7,152.2 421.8,138.1 422.0,133.4 422.1,128.8 422.2,133.4 422.3,133.4 422.4,142.8 422.5,142.8 422.6,152.2 422.7,152.2 422.8,142.8 422.9,142.8 423.0,138.1 423.1,142.8 423.2,147.5 423.3,147.5 423.4,147.5 423.5,142.8 423.6,133.4 423.7,138.1 423.8,142.8 423.9,142.8 424.0,147.5 424.1,152.2 424.2,147.5 424.3,147.5 424.4,142.8 424.5,147.5 424.6,147.5 424.7,156.9 424.8,147.5 424.9,152.2 425.0,152.2 425.1,152.2 425.2,152.2 425.3,156.9 425.4,161.6 425.5,147.5 425.6,147.5 425.7,142.8 425.8,133.4 425.9,138.1 426.0,138.1 426.1,138.1 426.2,138.1 426.3,138.1 426.4,138.1 426.5,142.8 426.6,142.8 426.8,138.1 426.9,147.5 427.0,147.5 427.1,147.5 427.2,147.5 427.3,156.9 427.4,152.2 427.5,152.2 427.6,152.2 427.7,152.2 427.8,156.9 427.9,156.9 428.0,161.6 428.1,161.6 428.2,156.9 428.3,152.2 428.4,152.2 428.5,152.2 428.6,138.1 428.7,138.1 428.8,147.5 428.9,147.5 429.0,152.2 429.1,152.2 429.2,152.2 429.3,152.2 429.4,142.8 429.5,142.8 429.6,147.5 429.7,147.5 429.8,147.5 429.9,142.8 430.0,142.8 430.1,138.1 430.2,152.2 430.3,152.2 430.4,142.8 430.5,138.1 430.6,138.1 430.7,147.5 430.8,147.5 430.9,147.5 431.0,156.9 431.1,156.9 431.2,147.5 431.3,142.8 431.4,142.8 431.6,147.5 431.7,138.1 431.8,142.8 431.9,147.5 432.0,152.2 432.1,147.5 432.2,142.8 432.3,142.8 432.4,142.8 432.5,142.8 432.6,142.8 432.7,152.2 432.8,147.5 432.9,142.8 433.0,147.5 433.1,147.5 433.2,147.5 433.3,138.1 433.4,138.1 433.5,142.8 433.6,147.5 433.7,152.2 433.8,156.9 433.9,152.2 434.0,152.2 434.1,152.2 434.2,147.5 434.3,142.8 434.4,142.8 434.5,142.8 434.6,142.8 434.7,147.5 434.8,142.8 434.9,152.2 435.0,147.5 435.1,152.2 435.2,147.5 435.3,147.5 435.4,142.8 435.5,142.8 435.6,152.2 435.7,142.8 435.8,147.5 435.9,147.5 436.0,147.5 436.1,142.8 436.2,142.8 436.4,142.8 436.5,152.2 436.6,152.2 436.7,152.2 436.8,142.8 436.9,142.8 437.0,142.8 437.1,142.8 437.2,142.8 437.3,147.5 437.4,147.5 437.5,152.2 437.6,147.5 437.7,147.5 437.8,147.5 437.9,152.2 438.0,152.2 438.1,147.5 438.2,147.5 438.3,152.2 438.4,152.2 438.5,156.9 438.6,166.2 438.7,161.6 438.8,161.6 438.9,161.6 439.0,161.6 439.1,156.9 439.2,156.9 439.3,156.9 439.4,156.9 439.5,152.2 439.6,147.5 439.7,142.8 439.8,142.8 439.9,161.6 440.0,161.6 440.1,161.6 440.2,156.9 440.3,161.6 440.4,152.2 440.5,152.2 440.6,152.2 440.7,152.2 440.8,152.2 440.9,156.9 441.0,152.2 441.2,156.9 441.3,161.6 441.4,161.6 441.5,156.9 441.6,161.6 441.7,152.2 441.8,156.9 441.9,147.5 442.0,147.5 442.1,152.2 442.2,152.2 442.3,147.5 442.4,152.2 442.5,156.9 442.6,156.9 442.7,147.5 442.8,156.9 442.9,152.2 443.0,152.2 443.1,152.2 443.2,156.9 443.3,156.9 443.4,152.2 443.5,147.5 443.6,156.9 443.7,147.5 443.8,156.9 443.9,152.2 444.0,152.2 444.1,147.5 444.2,147.5 444.3,147.5 444.4,147.5 444.5,147.5 444.6,147.5 444.7,138.1 444.8,147.5 444.9,142.8 445.0,147.5 445.1,147.5 445.2,152.2 445.3,152.2 445.4,156.9 445.5,166.2 445.6,156.9 445.7,166.2 445.8,156.9 446.0,156.9 446.1,156.9 446.2,156.9 446.3,152.2 446.4,156.9 446.5,156.9 446.6,156.9 446.7,152.2 446.8,147.5 446.9,147.5 447.0,147.5 447.1,152.2 447.2,161.6 447.3,156.9 447.4,152.2 447.5,156.9 447.6,152.2 447.7,147.5 447.8,152.2 447.9,147.5 448.0,147.5 448.1,161.6 448.2,161.6" fill="none" stroke="#ff0000" stroke-width="1.2" stroke-dasharray="1.2 0.7" stroke-linejoin="bevel" opacity="1"/>
<path d="M284.6 91.3H285.7M285.1 81.9H286.2M285.4 91.3H286.5M285.7 91.3H287.0M286.6 100.6H287.8M287.1 86.6H288.3M287.9 96.0H289.0M289.3 91.3H290.5M289.6 100.6H290.7M290.7 81.9H291.9M291.1 86.6H292.2M291.8 91.3H292.9M292.7 105.3H293.8M293.3 100.6H294.4M293.6 91.3H294.7M294.0 81.9H295.1M294.5 91.3H295.6M294.7 96.0H295.8M295.0 81.9H296.1M295.4 81.9H296.6M295.8 77.2H296.9M296.1 96.0H297.3M296.8 91.3H298.0M297.5 81.9H298.7M297.9 100.6H299.2M298.4 105.3H299.5M298.7 96.0H299.8M298.9 100.6H300.0M299.5 91.3H300.6M299.9 86.6H301.0M300.1 81.9H301.2M300.3 86.6H301.4M301.6 86.6H302.7M302.2 96.0H303.3M302.4 100.6H303.7M302.9 91.3H304.0M304.3 86.6H305.4M304.5 91.3H305.6M306.5 91.3H307.6M306.8 91.3H307.9M307.0 96.0H308.1M307.4 86.6H308.5M307.9 91.3H309.0M308.5 77.2H309.6M308.9 81.9H310.0M309.5 105.3H310.8M310.0 91.3H311.1M311.1 96.0H312.2M311.4 96.0H312.5M311.6 105.3H312.7M312.1 100.6H313.2M312.6 110.0H313.7M313.0 100.6H314.1M313.3 96.0H314.4M313.5 91.3H314.6M313.7 81.9H314.8M314.0 91.3H315.1M314.6 91.3H315.8M314.9 86.6H316.0M315.2 86.6H316.3M316.1 91.3H317.2M316.5 86.6H317.6M316.7 91.3H317.8M317.5 81.9H318.6M317.7 77.2H318.9M318.1 86.6H319.2M318.5 91.3H319.6M318.8 96.0H319.9M319.3 77.2H320.6M320.0 86.6H321.1M320.5 100.6H321.6M320.8 91.3H321.9M321.9 96.0H323.0M322.1 91.3H323.2M322.5 86.6H323.6M322.7 96.0H323.8M323.4 100.6H324.5M323.9 100.6H325.0M324.1 86.6H325.2M324.3 81.9H325.5M324.6 77.2H325.7M324.9 77.2H326.0M325.6 96.0H326.7M326.7 86.6H327.8M327.2 77.2H328.3M327.6 86.6H328.7M328.1 81.9H329.3M328.4 86.6H329.5M328.6 81.9H329.7M328.8 86.6H329.9M329.0 81.9H330.1M329.3 105.3H330.4M329.8 86.6H330.9M330.3 86.6H331.4M330.9 96.0H332.0M331.1 86.6H332.4M331.6 86.6H332.8M331.9 91.3H333.1M332.4 91.3H334.0M333.7 96.0H335.0M334.4 105.3H335.5M335.7 105.3H336.8M335.9 96.0H337.0M336.4 96.0H337.6M337.1 91.3H338.2M337.5 81.9H338.8M338.1 86.6H339.2M338.4 91.3H339.5M338.7 100.6H339.8M339.0 96.0H340.1M339.2 81.9H340.3M339.4 96.0H340.5M340.0 81.9H341.1M340.4 96.0H341.5M340.8 91.3H342.0M341.2 105.3H342.5M341.8 96.0H342.9M342.6 96.0H343.8M342.9 86.6H344.0M343.1 81.9H344.2M343.4 81.9H344.5M343.8 86.6H344.9M344.3 86.6H345.5M344.6 81.9H345.8M345.3 100.6H346.4M345.5 86.6H346.6M346.0 96.0H347.2M346.8 105.3H347.9M347.0 100.6H348.2M348.5 105.3H349.6M348.7 100.6H349.9M349.4 114.7H350.5M350.0 100.6H351.1M350.3 100.6H351.5M350.6 91.3H351.7M350.8 86.6H351.9M351.0 96.0H352.2M351.4 96.0H352.6M351.7 100.6H353.1M352.5 119.4H353.7M353.0 110.0H354.1M353.2 96.0H354.3M353.8 96.0H354.9M354.2 114.7H355.3M354.4 119.4H355.6M355.0 114.7H356.1M355.2 110.0H356.3M356.4 100.6H357.6M356.7 105.3H357.8M356.9 114.7H358.0M357.7 86.6H358.9M359.2 105.3H360.3M359.6 110.0H360.7M360.0 105.3H361.1M360.2 100.6H361.5M360.6 110.0H361.8M361.0 96.0H362.1M361.3 110.0H362.4M361.5 105.3H362.7M361.9 105.3H363.1M362.5 96.0H363.6M363.3 114.7H364.4M364.1 124.1H365.2M364.5 119.4H365.7M364.9 119.4H366.1M365.6 124.1H367.0M366.1 119.4H367.2M366.3 128.8H367.5M366.8 119.4H367.9M367.3 110.0H368.4M367.5 119.4H368.6M368.0 110.0H369.1M368.2 114.7H369.3M368.6 114.7H369.7M369.2 110.0H370.3M369.4 114.7H370.6M369.7 119.4H370.8M370.2 105.3H371.3M371.0 114.7H372.1M371.3 124.1H372.5M371.9 128.8H373.0M372.1 133.4H373.3M372.5 138.1H373.6M373.6 133.4H374.8M374.1 147.5H375.2M374.7 128.8H376.0M375.7 128.8H376.8M376.0 124.1H377.1M376.5 133.4H377.6M377.1 133.4H378.3M377.8 133.4H378.9M378.7 128.8H379.8M378.9 124.1H380.0M379.1 119.4H380.2M380.5 128.8H381.6M380.9 128.8H382.0M381.1 133.4H382.2M381.9 133.4H383.0M382.3 124.1H383.5M382.6 128.8H383.8M384.5 133.4H385.6M384.9 138.1H386.2M385.3 133.4H386.4M385.5 128.8H386.6M385.9 138.1H387.0M386.6 138.1H387.8M386.9 133.4H388.0M388.0 138.1H389.4M388.5 133.4H389.6M388.7 124.1H389.8M389.5 119.4H390.6M389.7 124.1H390.8M389.9 142.8H391.0M390.2 138.1H391.3M390.4 133.4H391.5M390.7 133.4H391.8M391.3 119.4H392.4M391.5 138.1H392.6M391.7 133.4H392.9M392.2 128.8H393.3M392.4 133.4H393.7M392.8 128.8H393.9M393.1 133.4H394.3M393.6 133.4H394.7M394.4 133.4H395.5M394.6 128.8H395.8M395.0 128.8H396.3M395.4 138.1H396.5M395.7 124.1H396.8M396.0 133.4H397.1M396.4 133.4H397.5M397.0 133.4H398.1M397.8 128.8H398.9M398.2 133.4H399.4M398.5 138.1H399.6M398.7 142.8H399.9M399.2 142.8H400.4M399.8 133.4H401.0M400.1 128.8H401.2M400.5 128.8H401.8M401.0 138.1H402.2M401.6 138.1H402.8M402.0 142.8H403.2M402.9 138.1H404.0M403.1 142.8H404.3M403.4 138.1H404.6M403.8 128.8H404.9M404.0 124.1H405.4M404.5 128.8H405.6M405.0 133.4H406.2M405.7 142.8H406.8M406.0 128.8H407.1M406.4 142.8H407.5M406.6 147.5H407.7M407.0 138.1H408.2M407.3 142.8H408.4M407.7 133.4H408.9M408.3 133.4H409.4M408.6 133.4H410.0M409.3 138.1H410.4M409.6 147.5H410.8M410.1 142.8H411.2M410.3 152.2H411.5M410.9 147.5H412.1M411.5 133.4H412.7M412.0 133.4H413.2M412.4 133.4H413.5M412.6 142.8H413.7M412.8 138.1H414.2M413.5 133.4H414.6M413.7 128.8H414.9M414.8 128.8H415.9M415.0 133.4H416.1M415.2 128.8H416.3M415.5 133.4H416.6M415.8 142.8H417.1M416.3 128.8H417.5M416.7 124.1H417.8M416.9 128.8H418.0M417.1 133.4H418.2M417.4 142.8H418.5M417.7 142.8H418.9M418.0 138.1H419.1M418.2 142.8H419.3M419.3 128.8H420.4M419.5 124.1H420.6M419.7 133.4H420.8M420.3 142.8H421.4M420.6 142.8H421.7M421.0 156.9H422.1M421.7 133.4H422.8M421.9 142.8H423.0M422.1 152.2H423.2M422.3 142.8H423.4M422.7 147.5H423.9M423.3 142.8H424.4M423.7 147.5H424.8M424.0 147.5H425.1M424.4 152.2H425.7M425.0 147.5H426.1M425.4 138.1H426.9M426.0 142.8H427.1M426.4 147.5H427.7M426.9 152.2H428.2M427.3 156.9H428.4M427.5 161.6H428.6M427.8 152.2H429.0M428.1 138.1H429.2M428.3 147.5H429.4M428.5 152.2H429.8M428.9 142.8H430.0M429.1 147.5H430.3M429.4 142.8H430.5M429.7 152.2H430.8M430.0 138.1H431.1M430.2 147.5H431.4M430.5 156.9H431.6M430.8 142.8H431.9M431.7 142.8H433.1M432.5 147.5H433.7M432.8 138.1H433.9M433.4 152.2H434.6M433.8 142.8H435.1M434.7 147.5H435.8M434.9 142.8H436.0M435.3 147.5H436.5M435.6 142.8H436.9M436.0 152.2H437.2M436.3 142.8H437.7M436.8 147.5H437.9M437.1 147.5H438.3M437.4 152.2H438.5M437.6 147.5H438.7M437.8 152.2H438.9M438.2 161.6H439.5M438.6 156.9H439.9M439.2 142.8H440.3M439.4 161.6H440.6M439.9 152.2H441.3M440.8 161.6H441.9M441.4 147.5H442.5M441.6 152.2H442.7M442.0 156.9H443.1M442.4 152.2H443.6M442.7 156.9H443.8M443.4 152.2H444.5M443.6 147.5H445.1M444.5 147.5H445.6M444.7 152.2H445.8M445.3 156.9H446.7M445.9 156.9H447.1M446.3 147.5H447.5M447.4 147.5H448.5M447.6 161.6H448.7" stroke="#ff0000" stroke-width="2.2" fill="none"/>
<polygon points="518.4,179.4 518.7,179.4 518.9,179.4 519.2,179.4 519.4,179.4 519.7,179.4 519.9,179.4 520.2,179.4 520.4,179.4 520.7,179.4 520.9,179.4 521.2,179.4 521.4,179.4 521.7,179.4 521.9,179.4 522.2,179.4 522.4,179.4 522.7,179.4 522.9,179.4 523.2,179.4 523.4,179.4 523.7,179.1 523.9,177.6 524.2,176.9 524.4,176.7 524.7,176.6 524.9,176.5 525.2,176.4 525.4,176.2 525.7,176.1 525.9,176.0 526.2,175.8 526.4,175.7 526.7,175.6 526.9,175.5 527.2,175.3 527.4,174.6 527.7,174.6 527.9,174.6 528.2,174.6 528.4,174.6 528.7,174.6 528.9,170.7 529.2,162.2 529.4,162.2 529.7,162.2 529.9,162.2 530.2,162.2 530.4,162.2 530.7,162.2 530.9,162.2 531.2,176.1 531.4,176.1 531.7,176.1 531.9,176.1 532.2,176.1 532.4,176.1 532.7,176.1 532.9,176.1 533.2,176.1 533.4,176.1 533.7,176.1 533.9,176.1 534.2,176.1 534.4,176.1 534.7,176.1 534.9,176.1 535.2,176.1 535.4,176.1 535.7,171.4 535.9,163.0 536.2,163.0 536.4,163.0 536.7,163.0 536.9,163.0 537.2,163.0 537.4,163.0 537.7,163.0 537.9,163.0 538.2,163.0 538.4,163.0 538.7,163.0 538.9,163.0 539.2,163.0 539.4,163.0 539.7,163.0 539.9,163.0 540.2,163.0 540.4,163.0 540.7,163.0 540.9,163.0 541.2,163.0 541.4,163.0 541.7,172.8 541.9,172.8 542.2,172.8 542.4,172.8 542.7,172.8 542.9,172.8 543.2,172.8 543.4,172.8 543.7,172.8 543.9,172.8 544.2,172.8 544.4,172.8 544.7,172.8 544.9,172.8 545.2,172.8 545.4,172.8 545.7,172.8 545.9,172.8 546.2,168.4 546.4,163.0 546.7,163.0 546.9,163.0 547.2,163.0 547.4,163.0 547.7,163.0 547.9,163.0 548.2,163.0 548.4,163.0 548.7,163.0 548.9,163.0 549.2,163.0 549.4,163.0 549.7,163.0 549.9,163.0 550.2,163.0 550.4,163.0 550.7,148.3 550.9,148.3 551.2,148.3 551.4,148.3 551.7,148.3 551.9,148.3 552.2,148.3 552.4,148.3 552.7,163.0 552.9,163.0 553.2,163.0 553.4,163.0 553.7,163.0 553.9,163.0 554.2,163.0 554.4,163.0 554.7,163.0 554.9,163.0 555.2,163.0 555.4,163.0 555.7,163.0 555.9,163.0 556.2,163.0 556.4,163.0 556.7,163.0 556.9,163.0 557.2,163.0 557.4,163.0 557.7,163.0 557.9,163.0 558.2,163.0 558.4,163.0 558.7,163.0 558.9,163.0 559.2,163.0 559.4,163.0 559.7,163.0 559.9,163.0 560.2,163.0 560.4,163.0 560.7,163.0 560.9,163.0 561.2,163.0 561.4,163.0 561.7,163.0 561.9,163.0 562.2,163.0 562.4,163.0 562.7,163.0 562.9,163.0 563.2,163.0 563.4,163.0 563.7,163.0 563.9,163.0 564.2,163.0 564.4,163.0 564.7,163.0 564.9,163.0 565.2,163.0 565.4,163.0 565.7,163.0 565.9,165.4 566.2,165.4 566.4,165.4 566.7,172.8 566.9,172.8 567.2,172.8 567.4,172.8 567.7,172.8 567.9,172.8 568.2,172.8 568.4,172.8 568.7,172.8 568.9,172.8 569.2,172.8 569.4,172.8 569.7,172.8 569.9,172.8 570.2,172.8 570.4,172.8 570.7,172.8 570.9,172.8 571.2,172.8 571.4,172.8 571.7,172.8 571.9,172.8 572.2,172.8 572.4,172.8 572.7,163.0 572.9,163.0 573.2,163.0 573.4,163.0 573.7,163.0 573.9,163.0 574.2,163.0 574.4,164.2 574.7,171.2 574.9,171.2 575.2,171.2 575.4,171.2 575.7,171.2 575.9,171.2 576.2,171.2 576.4,171.2 576.7,171.2 576.9,171.2 577.2,171.2 577.4,171.2 577.7,171.2 577.9,171.2 578.2,171.2 578.4,171.2 578.7,171.2 578.9,171.2 579.2,171.2 579.4,145.8 579.7,145.8 579.9,145.8 580.2,145.8 580.4,145.8 580.7,145.8 580.9,145.8 581.2,145.8 581.4,171.2 581.7,171.2 581.9,171.2 582.2,171.2 582.4,171.2 582.7,171.2 582.9,171.2 583.2,171.2 583.4,171.2 583.7,171.2 583.9,162.8 584.2,162.8 584.4,162.8 584.7,162.8 584.9,162.8 585.2,162.8 585.4,162.7 585.7,162.7 585.9,162.6 586.2,162.5 586.4,162.5 586.7,162.4 586.9,162.3 587.2,162.3 587.4,162.2 587.7,162.1 587.9,162.1 588.2,162.0 588.4,161.9 588.7,161.9 588.9,161.8 589.2,161.7 589.4,161.7 589.7,161.4 589.9,161.4 590.2,161.4 590.4,161.4 590.7,161.4 590.9,161.3 591.2,161.2 591.4,161.2 591.7,161.1 591.9,161.0 592.2,161.0 592.4,160.9 592.7,160.8 592.9,160.8 593.2,160.7 593.4,160.3 593.7,160.3 593.9,160.3 594.2,160.3 594.4,160.3 594.7,160.3 594.9,160.2 595.2,160.1 595.4,160.0 595.7,160.0 595.9,159.9 596.2,159.8 596.4,159.7 596.7,159.6 596.9,159.6 597.2,159.5 597.4,159.4 597.7,159.3 597.9,159.3 598.2,159.0 598.4,159.0 598.7,159.0 598.9,159.0 599.2,158.9 599.4,158.8 599.7,158.7 599.9,158.6 600.2,158.6 600.4,158.5 600.7,158.4 600.9,158.3 601.2,158.0 601.4,158.0 601.7,158.0 601.9,158.0 602.2,158.0 602.4,157.9 602.7,157.8 602.9,157.7 603.2,157.6 603.4,157.6 603.7,157.5 603.9,157.0 604.2,157.0 604.4,157.0 604.7,157.0 604.9,157.0 605.2,157.0 605.4,157.0 605.7,156.9 605.9,154.3 606.2,150.8 606.4,147.4 606.7,143.8 606.9,140.8 607.2,137.5 607.4,133.8 607.7,131.0 607.9,115.4 608.2,115.4 608.4,99.1 608.7,99.1 608.9,99.1 609.2,99.1 609.4,99.1 609.7,99.1 609.9,99.1 610.2,99.1 610.4,115.4 610.7,115.4 610.9,115.4 611.2,115.4 611.4,115.4 611.7,115.4 611.9,115.4 612.2,107.3 612.4,107.3 612.7,107.3 612.9,107.3 613.2,107.3 613.4,107.3 613.7,107.3 613.9,107.3 614.2,113.9 614.4,113.9 614.7,113.9 614.9,113.9 615.2,113.9 615.4,113.9 615.7,113.9 615.9,121.2 616.2,102.6 616.4,102.6 616.7,102.6 616.9,102.6 617.2,102.6 617.4,102.6 617.7,121.0 617.9,120.0 618.2,121.2 618.4,120.6 618.7,121.0 618.9,120.9 619.2,120.8 619.4,120.2 619.7,99.7 619.9,99.7 620.2,99.7 620.4,99.7 620.7,99.7 620.9,99.7 621.2,99.7 621.4,108.9 621.7,108.9 621.9,108.9 622.2,108.9 622.4,108.9 622.7,108.9 622.9,108.9 623.2,108.9 623.4,108.9 623.7,108.9 623.9,120.8 624.2,120.5 624.4,120.2 624.7,119.3 624.9,113.6 625.2,113.6 625.4,113.6 625.7,113.6 625.9,113.6 626.2,113.6 626.4,113.6 626.7,113.6 626.9,113.6 627.2,113.6 627.4,119.9 627.7,120.5 627.9,120.4 628.2,120.3 628.4,119.0 628.7,120.5 628.9,120.1 629.2,119.0 629.4,109.1 629.7,109.1 629.9,109.1 630.2,83.5 630.4,83.5 630.7,83.5 630.9,83.5 631.2,83.5 631.4,83.5 631.7,83.5 631.9,83.5 632.2,115.4 632.4,113.5 632.7,113.7 632.9,113.5 633.2,112.5 633.4,111.7 633.7,111.3 633.9,111.5 634.2,110.8 634.4,111.9 634.7,111.4 634.9,98.3 635.2,98.3 635.4,98.3 635.7,98.3 635.9,98.3 636.2,98.3 636.4,98.3 636.7,98.3 636.9,111.0 637.2,111.0 637.4,110.1 637.7,111.2 637.9,109.4 638.2,110.6 638.4,110.9 638.7,110.7 638.9,110.4 639.2,110.7 639.4,110.8 639.7,97.3 639.9,97.3 640.2,97.3 640.4,97.3 640.7,97.3 640.9,97.3 641.2,108.9 641.4,110.3 641.7,110.3 641.9,110.0 642.2,110.1 642.4,110.2 642.7,109.8 642.9,110.0 643.2,110.1 643.4,107.9 643.7,110.0 643.9,109.5 644.2,109.2 644.4,109.7 644.7,103.6 644.9,103.6 645.2,103.6 645.4,103.6 645.7,103.6 645.9,103.6 646.2,103.6 646.4,103.6 646.7,103.6 646.9,103.6 647.2,103.6 647.4,106.1 647.7,105.2 647.9,104.5 648.2,97.5 648.4,97.5 648.7,81.9 648.9,81.9 649.2,81.9 649.4,81.9 649.7,81.9 649.9,81.9 650.2,81.9 650.4,81.9 650.7,81.9 650.9,68.8 651.2,68.8 651.4,68.8 651.7,68.8 651.9,68.8 652.2,68.8 652.4,68.8 652.7,68.2 652.9,45.8 653.2,45.8 653.4,45.8 653.7,45.8 653.9,45.8 654.2,45.8 654.4,45.8 654.7,45.8 654.9,52.4 655.2,52.4 655.4,52.4 655.7,52.4 655.9,52.4 656.2,52.4 656.4,52.4 656.7,52.4 656.9,67.5 657.2,66.8 657.4,67.6 657.7,66.8 657.9,69.7 658.2,70.4 658.4,72.5 658.7,75.6 658.9,64.2 659.2,64.2 659.4,64.2 659.7,64.2 659.9,64.2 660.2,64.2 660.4,64.2 660.7,64.2 660.9,64.2 661.2,92.0 661.4,92.8 661.7,93.6 661.9,95.4 662.2,96.8 662.4,96.5 662.7,97.7 662.9,100.9 663.2,102.2 663.4,103.2 663.7,102.5 663.9,105.3 664.2,103.0 664.4,79.8 664.7,79.8 664.9,79.8 665.2,79.8 665.4,79.8 665.7,79.8 665.9,79.8 666.2,79.8 666.4,79.8 666.7,79.8 666.9,79.8 667.2,62.0 667.4,62.0 667.7,62.0 667.9,62.0 668.2,62.0 668.4,62.0 668.7,62.0 668.9,40.1 669.2,40.1 669.4,40.1 669.7,40.1 669.9,40.1 670.2,40.1 670.4,40.1 670.7,40.1 670.9,66.7 671.2,65.7 671.4,62.2 671.7,60.3 671.9,60.0 672.2,61.0 672.4,61.0 672.7,62.4 672.9,56.5 673.2,56.5 673.4,56.5 673.7,56.5 673.9,56.5 674.2,56.5 674.4,56.5 674.7,56.5 674.9,58.4 675.2,58.4 675.4,74.3 675.7,76.3 675.9,77.1 676.2,75.1 676.4,75.6 676.7,77.9 676.9,77.1 677.2,79.4 677.4,80.0 677.7,76.2 677.9,80.9 678.2,79.7 678.4,80.8 678.7,82.3 678.9,82.8 679.2,64.8 679.4,64.8 679.7,64.8 679.9,64.8 680.2,64.8 680.4,64.8 680.7,64.8 680.9,86.8 680.9,148.8 680.7,148.8 680.4,148.8 680.2,148.8 679.9,135.1 679.7,136.6 679.4,135.1 679.2,135.5 678.9,135.8 678.7,134.8 678.4,135.4 678.2,134.7 677.9,135.3 677.7,134.8 677.4,134.6 677.2,135.5 676.9,148.8 676.7,148.8 676.4,148.8 676.2,148.8 675.9,148.8 675.7,148.8 675.4,148.8 675.2,148.8 674.9,148.8 674.7,148.8 674.4,134.9 674.2,135.8 673.9,134.9 673.7,135.5 673.4,134.7 673.2,138.4 672.9,138.4 672.7,138.4 672.4,138.4 672.2,138.4 671.9,138.4 671.7,138.4 671.4,138.4 671.2,134.9 670.9,135.4 670.7,135.8 670.4,135.6 670.2,135.8 669.9,134.8 669.7,135.1 669.4,135.1 669.2,144.2 668.9,144.2 668.7,144.2 668.4,144.2 668.2,144.2 667.9,144.2 667.7,144.2 667.4,144.2 667.2,143.2 666.9,145.4 666.7,149.9 666.4,153.0 666.2,154.7 665.9,158.2 665.7,162.0 665.4,162.0 665.2,179.4 664.9,179.4 664.7,179.4 664.4,179.4 664.2,179.4 663.9,179.4 663.7,156.3 663.4,157.0 663.2,156.1 662.9,155.6 662.7,155.3 662.4,156.2 662.2,156.5 661.9,153.6 661.7,155.9 661.4,153.4 661.2,153.1 660.9,153.0 660.7,153.0 660.4,151.8 660.2,151.3 659.9,151.1 659.7,149.9 659.4,149.7 659.2,149.7 658.9,149.7 658.7,149.7 658.4,149.7 658.2,149.7 657.9,149.7 657.7,149.7 657.4,134.8 657.2,134.5 656.9,135.7 656.7,134.5 656.4,136.7 656.2,134.7 655.9,134.4 655.7,135.0 655.4,134.5 655.2,135.3 654.9,135.0 654.7,134.5 654.4,134.7 654.2,134.6 653.9,135.5 653.7,138.3 653.4,138.3 653.2,138.3 652.9,138.3 652.7,138.3 652.4,138.3 652.2,138.3 651.9,138.3 651.7,138.3 651.4,138.3 651.2,138.3 650.9,135.4 650.7,136.0 650.4,134.4 650.2,134.4 649.9,134.3 649.7,136.4 649.4,134.9 649.2,136.0 648.9,134.6 648.7,134.4 648.4,134.8 648.2,134.4 647.9,135.5 647.7,136.0 647.4,137.2 647.2,138.6 646.9,152.7 646.7,152.7 646.4,152.7 646.2,152.7 645.9,152.7 645.7,152.7 645.4,152.7 645.2,147.2 644.9,147.1 644.7,148.2 644.4,146.8 644.2,149.1 643.9,146.9 643.7,147.9 643.4,147.9 643.2,148.2 642.9,147.5 642.7,147.5 642.4,147.1 642.2,147.1 641.9,148.0 641.7,147.3 641.4,148.3 641.2,162.7 640.9,162.7 640.7,162.7 640.4,162.7 640.2,162.7 639.9,162.7 639.7,162.7 639.4,162.7 639.2,147.6 638.9,147.7 638.7,148.0 638.4,148.4 638.2,149.0 637.9,148.0 637.7,147.6 637.4,148.1 637.2,148.1 636.9,148.1 636.7,148.8 636.4,148.0 636.2,149.2 635.9,147.9 635.7,149.0 635.4,148.0 635.2,148.1 634.9,148.0 634.7,153.6 634.4,153.6 634.2,153.6 633.9,153.6 633.7,153.6 633.4,153.6 633.2,153.6 632.9,153.6 632.7,148.4 632.4,149.2 632.2,149.0 631.9,158.3 631.7,158.3 631.4,158.3 631.2,158.3 630.9,158.3 630.7,158.3 630.4,158.3 630.2,158.3 629.9,158.3 629.7,158.3 629.4,158.3 629.2,156.6 628.9,157.1 628.7,157.7 628.4,157.6 628.2,156.9 627.9,158.8 627.7,157.6 627.4,156.5 627.2,156.6 626.9,156.5 626.7,169.5 626.4,169.5 626.2,169.5 625.9,169.5 625.7,169.5 625.4,169.5 625.2,157.7 624.9,156.8 624.7,157.2 624.4,156.6 624.2,156.6 623.9,156.6 623.7,158.2 623.4,157.7 623.2,156.9 622.9,157.5 622.7,157.2 622.4,157.3 622.2,156.5 621.9,156.8 621.7,156.6 621.4,157.9 621.2,156.8 620.9,165.2 620.7,165.2 620.4,165.2 620.2,165.2 619.9,165.2 619.7,157.0 619.4,156.8 619.2,157.5 618.9,156.7 618.7,166.6 618.4,166.6 618.2,166.6 617.9,166.6 617.7,166.6 617.4,166.6 617.2,166.6 616.9,166.6 616.7,157.2 616.4,156.6 616.2,156.6 615.9,157.3 615.7,157.3 615.4,157.0 615.2,156.8 614.9,156.7 614.7,156.7 614.4,157.2 614.2,157.5 613.9,156.5 613.7,157.0 613.4,157.2 613.2,157.7 612.9,156.7 612.7,171.0 612.4,171.0 612.2,171.0 611.9,171.0 611.7,171.0 611.4,171.0 611.2,157.0 610.9,156.9 610.7,157.1 610.4,168.4 610.2,168.4 609.9,168.4 609.7,168.4 609.4,168.4 609.2,168.4 608.9,168.4 608.7,169.0 608.4,171.6 608.2,174.6 607.9,177.2 607.7,179.4 607.4,179.4 607.2,179.4 606.9,179.4 606.7,179.4 606.4,179.4 606.2,179.4 605.9,179.4 605.7,179.4 605.4,179.4 605.2,179.4 604.9,179.4 604.7,179.4 604.4,179.4 604.2,179.4 603.9,179.4 603.7,179.4 603.4,179.4 603.2,179.4 602.9,179.4 602.7,179.4 602.4,179.4 602.2,179.4 601.9,179.4 601.7,179.4 601.4,179.4 601.2,179.4 600.9,179.4 600.7,179.4 600.4,179.4 600.2,179.4 599.9,179.4 599.7,179.4 599.4,179.4 599.2,179.4 598.9,179.4 598.7,179.4 598.4,179.4 598.2,179.4 597.9,179.4 597.7,179.4 597.4,179.4 597.2,179.4 596.9,179.4 596.7,179.4 596.4,179.4 596.2,179.4 595.9,179.4 595.7,179.4 595.4,179.4 595.2,179.4 594.9,179.4 594.7,179.4 594.4,179.4 594.2,179.4 593.9,179.4 593.7,179.4 593.4,179.4 593.2,179.4 592.9,179.4 592.7,179.4 592.4,179.4 592.2,179.4 591.9,179.4 591.7,179.4 591.4,179.4 591.2,179.4 590.9,179.4 590.7,179.4 590.4,179.4 590.2,179.4 589.9,179.4 589.7,179.4 589.4,179.4 589.2,179.4 588.9,179.4 588.7,179.4 588.4,179.4 588.2,179.4 587.9,179.4 587.7,179.4 587.4,179.4 587.2,179.4 586.9,179.4 586.7,179.4 586.4,179.4 586.2,179.4 585.9,179.4 585.7,179.4 585.4,179.4 585.2,179.4 584.9,179.4 584.7,179.4 584.4,179.4 584.2,179.4 583.9,179.4 583.7,179.4 583.4,179.4 583.2,179.4 582.9,179.4 582.7,179.4 582.4,179.4 582.2,179.4 581.9,179.4 581.7,179.4 581.4,179.4 581.2,179.4 580.9,179.4 580.7,179.4 580.4,179.4 580.2,179.4 579.9,179.4 579.7,179.4 579.4,179.4 579.2,179.4 578.9,179.4 578.7,179.4 578.4,179.4 578.2,179.4 577.9,179.4 577.7,179.4 577.4,179.4 577.2,179.4 576.9,179.4 576.7,179.4 576.4,179.4 576.2,179.4 575.9,179.4 575.7,179.4 575.4,179.4 575.2,179.4 574.9,179.4 574.7,179.4 574.4,179.4 574.2,179.4 573.9,179.4 573.7,179.4 573.4,179.4 573.2,179.4 572.9,179.4 572.7,179.4 572.4,179.4 572.2,179.4 571.9,179.4 571.7,179.4 571.4,179.4 571.2,179.4 570.9,179.4 570.7,179.4 570.4,179.4 570.2,179.4 569.9,179.4 569.7,179.4 569.4,179.4 569.2,179.4 568.9,179.4 568.7,179.4 568.4,179.4 568.2,179.4 567.9,179.4 567.7,179.4 567.4,179.4 567.2,179.4 566.9,179.4 566.7,179.4 566.4,179.4 566.2,179.4 565.9,179.4 565.7,179.4 565.4,179.4 565.2,179.4 564.9,179.4 564.7,179.4 564.4,179.4 564.2,179.4 563.9,179.4 563.7,179.4 563.4,179.4 563.2,179.4 562.9,179.4 562.7,179.4 562.4,179.4 562.2,179.4 561.9,179.4 561.7,179.4 561.4,179.4 561.2,179.4 560.9,179.4 560.7,179.4 560.4,179.4 560.2,179.4 559.9,179.4 559.7,179.4 559.4,179.4 559.2,179.4 558.9,179.4 558.7,179.4 558.4,179.4 558.2,179.4 557.9,179.4 557.7,179.4 557.4,179.4 557.2,179.4 556.9,179.4 556.7,179.4 556.4,179.4 556.2,179.4 555.9,179.4 555.7,179.4 555.4,179.4 555.2,179.4 554.9,179.4 554.7,179.4 554.4,179.4 554.2,179.4 553.9,179.4 553.7,179.4 553.4,179.4 553.2,179.4 552.9,179.4 552.7,179.4 552.4,179.4 552.2,179.4 551.9,179.4 551.7,179.4 551.4,179.4 551.2,179.4 550.9,179.4 550.7,179.4 550.4,179.4 550.2,179.4 549.9,179.4 549.7,179.4 549.4,179.4 549.2,179.4 548.9,179.4 548.7,179.4 548.4,179.4 548.2,179.4 547.9,179.4 547.7,179.4 547.4,179.4 547.2,179.4 546.9,179.4 546.7,179.4 546.4,179.4 546.2,179.4 545.9,179.4 545.7,179.4 545.4,179.4 545.2,179.4 544.9,179.4 544.7,179.4 544.4,179.4 544.2,179.4 543.9,179.4 543.7,179.4 543.4,179.4 543.2,179.4 542.9,179.4 542.7,179.4 542.4,179.4 542.2,179.4 541.9,179.4 541.7,179.4 541.4,179.4 541.2,179.4 540.9,179.4 540.7,179.4 540.4,179.4 540.2,179.4 539.9,179.4 539.7,179.4 539.4,179.4 539.2,179.4 538.9,179.4 538.7,179.4 538.4,179.4 538.2,179.4 537.9,179.4 537.7,179.4 537.4,179.4 537.2,179.4 536.9,179.4 536.7,179.4 536.4,179.4 536.2,179.4 535.9,179.4 535.7,179.4 535.4,179.4 535.2,179.4 534.9,179.4 534.7,179.4 534.4,179.4 534.2,179.4 533.9,179.4 533.7,179.4 533.4,179.4 533.2,179.4 532.9,179.4 532.7,179.4 532.4,179.4 532.2,179.4 531.9,179.4 531.7,179.4 531.4,179.4 531.2,179.4 530.9,179.4 530.7,179.4 530.4,179.4 530.2,179.4 529.9,179.4 529.7,179.4 529.4,179.4 529.2,179.4 528.9,179.4 528.7,179.4 528.4,179.4 528.2,179.4 527.9,179.4 527.7,179.4 527.4,179.4 527.2,179.4 526.9,179.4 526.7,179.4 526.4,179.4 526.2,179.4 525.9,179.4 525.7,179.4 525.4,179.4 525.2,179.4 524.9,179.4 524.7,179.4 524.4,179.4 524.2,179.4 523.9,179.4 523.7,179.4 523.4,179.4 523.2,179.4 522.9,179.4 522.7,179.4 522.4,179.4 522.2,179.4 521.9,179.4 521.7,179.4 521.4,179.4 521.2,179.4 520.9,179.4 520.7,179.4 520.4,179.4 520.2,179.4 519.9,179.4 519.7,179.4 519.4,179.4 519.2,179.4 518.9,179.4 518.7,179.4 518.4,179.4" fill="#8892ea" stroke="none"/>
<polyline points="518.0,179.4 518.2,179.4 518.5,179.4 518.7,179.4 518.9,179.4 519.2,179.4 519.4,179.4 519.6,179.4 519.9,179.4 520.1,179.4 520.3,179.4 520.6,179.4 520.8,179.4 521.0,179.4 521.3,179.4 521.5,179.4 521.7,179.4 522.0,179.4 522.2,179.4 522.4,179.4 522.7,179.4 522.9,179.4 523.1,179.4 523.4,179.4 523.6,179.4 523.8,179.4 524.1,179.4 524.3,179.4 524.5,179.4 524.8,179.4 525.0,179.4 525.2,179.4 525.5,179.4 525.7,179.4 525.9,179.4 526.2,179.4 526.4,179.4 526.6,179.4 526.9,179.4 527.1,179.4 527.3,179.4 527.6,179.4 527.8,179.4 528.0,179.4 528.3,179.4 528.5,179.4 528.7,179.4 529.0,179.4 529.2,179.4 529.4,171.2 529.7,171.2 529.9,171.2 530.1,171.2 530.4,171.2 530.6,171.2 530.8,171.2 531.1,179.4 531.3,179.4 531.5,179.4 531.8,179.4 532.0,179.4 532.2,179.4 532.5,179.4 532.7,179.4 532.9,179.4 533.2,179.4 533.4,179.4 533.6,179.4 533.9,179.4 534.1,179.4 534.3,179.4 534.6,179.4 534.8,179.4 535.0,179.4 535.3,179.4 535.5,179.4 535.7,179.4 536.0,179.4 536.2,171.2 536.4,171.2 536.7,171.2 536.9,171.2 537.1,171.2 537.4,171.2 537.6,171.2 537.8,171.2 538.1,171.2 538.3,171.2 538.5,171.2 538.8,171.2 539.0,171.2 539.2,171.2 539.5,171.2 539.7,171.2 539.9,171.2 540.2,171.2 540.4,171.2 540.6,171.2 540.9,171.2 541.1,171.2 541.3,171.2 541.6,171.2 541.8,179.4 542.0,179.4 542.3,179.4 542.5,179.4 542.7,179.4 543.0,179.4 543.2,179.4 543.4,179.4 543.7,179.4 543.9,179.4 544.1,179.4 544.4,179.4 544.6,179.4 544.8,179.4 545.1,179.4 545.3,179.4 545.5,179.4 545.7,179.4 546.0,179.4 546.2,179.4 546.4,171.2 546.7,171.2 546.9,171.2 547.1,171.2 547.4,171.2 547.6,171.2 547.8,171.2 548.1,171.2 548.3,171.2 548.5,171.2 548.8,171.2 549.0,171.2 549.2,171.2 549.5,171.2 549.7,171.2 549.9,171.2 550.2,171.2 550.4,171.2 550.6,171.2 550.9,163.0 551.1,163.0 551.3,163.0 551.6,163.0 551.8,163.0 552.0,163.0 552.3,163.0 552.5,163.0 552.7,171.2 553.0,171.2 553.2,171.2 553.4,171.2 553.7,171.2 553.9,171.2 554.1,171.2 554.4,171.2 554.6,171.2 554.8,171.2 555.1,171.2 555.3,171.2 555.5,171.2 555.8,171.2 556.0,171.2 556.2,171.2 556.5,171.2 556.7,171.2 556.9,171.2 557.2,171.2 557.4,171.2 557.6,171.2 557.9,171.2 558.1,171.2 558.3,171.2 558.6,171.2 558.8,171.2 559.0,171.2 559.3,171.2 559.5,171.2 559.7,171.2 560.0,171.2 560.2,171.2 560.4,171.2 560.7,171.2 560.9,171.2 561.1,171.2 561.4,171.2 561.6,171.2 561.8,171.2 562.1,171.2 562.3,171.2 562.5,171.2 562.8,171.2 563.0,171.2 563.2,171.2 563.5,171.2 563.7,171.2 563.9,171.2 564.2,171.2 564.4,171.2 564.6,171.2 564.9,171.2 565.1,171.2 565.3,171.2 565.6,171.2 565.8,171.2 566.0,171.2 566.3,179.4 566.5,179.4 566.7,179.4 567.0,179.4 567.2,179.4 567.4,179.4 567.7,179.4 567.9,179.4 568.1,179.4 568.4,179.4 568.6,179.4 568.8,179.4 569.1,179.4 569.3,179.4 569.5,179.4 569.8,179.4 570.0,179.4 570.2,179.4 570.5,179.4 570.7,179.4 570.9,179.4 571.2,179.4 571.4,179.4 571.6,179.4 571.9,179.4 572.1,179.4 572.3,179.4 572.6,171.2 572.8,171.2 573.0,171.2 573.3,171.2 573.5,171.2 573.7,171.2 574.0,171.2 574.2,171.2 574.4,171.2 574.7,179.4 574.9,179.4 575.1,179.4 575.4,179.4 575.6,179.4 575.8,179.4 576.1,179.4 576.3,179.4 576.5,179.4 576.8,179.4 577.0,179.4 577.2,179.4 577.5,179.4 577.7,179.4 577.9,179.4 578.2,179.4 578.4,179.4 578.6,179.4 578.9,179.4 579.1,179.4 579.3,163.0 579.6,163.0 579.8,163.0 580.0,163.0 580.3,163.0 580.5,163.0 580.7,163.0 581.0,163.0 581.2,163.0 581.4,163.0 581.7,163.0 581.9,171.2 582.1,171.2 582.4,171.2 582.6,171.2 582.8,171.2 583.1,171.2 583.3,171.2 583.5,171.2 583.8,171.2 584.0,171.2 584.2,171.2 584.5,171.2 584.7,171.2 584.9,171.2 585.2,171.2 585.4,171.2 585.6,171.2 585.9,171.2 586.1,171.2 586.3,171.2 586.6,171.2 586.8,171.2 587.0,171.2 587.3,171.2 587.5,171.2 587.7,179.4 588.0,179.4 588.2,179.4 588.4,179.4 588.7,171.2 588.9,171.2 589.1,171.2 589.4,171.2 589.6,171.2 589.8,171.2 590.1,171.2 590.3,171.2 590.5,171.2 590.8,171.2 591.0,171.2 591.2,171.2 591.5,171.2 591.7,171.2 591.9,171.2 592.2,171.2 592.4,171.2 592.6,171.2 592.9,171.2 593.1,171.2 593.3,171.2 593.6,171.2 593.8,171.2 594.0,171.2 594.3,171.2 594.5,171.2 594.7,171.2 595.0,171.2 595.2,171.2 595.4,171.2 595.7,171.2 595.9,179.4 596.1,179.4 596.4,179.4 596.6,179.4 596.8,179.4 597.1,171.2 597.3,171.2 597.5,171.2 597.8,171.2 598.0,171.2 598.2,171.2 598.5,171.2 598.7,171.2 598.9,171.2 599.1,171.2 599.4,171.2 599.6,171.2 599.8,179.4 600.1,179.4 600.3,179.4 600.5,179.4 600.8,179.4 601.0,171.2 601.2,171.2 601.5,171.2 601.7,171.2 601.9,171.2 602.2,171.2 602.4,171.2 602.6,171.2 602.9,171.2 603.1,171.2 603.3,171.2 603.6,171.2 603.8,171.2 604.0,171.2 604.3,171.2 604.5,171.2 604.7,171.2 605.0,171.2 605.2,171.2 605.4,171.2 605.7,171.2 605.9,171.2 606.1,171.2 606.4,171.2 606.6,163.0 606.8,163.0 607.1,163.0 607.3,163.0 607.5,163.0 607.8,154.8 608.0,154.8 608.2,154.8 608.5,154.8 608.7,154.8 608.9,154.8 609.2,163.0 609.4,138.4 609.6,130.2 609.9,138.4 610.1,138.4 610.3,130.2 610.6,130.2 610.8,130.2 611.0,130.2 611.3,130.2 611.5,130.2 611.7,130.2 612.0,130.2 612.2,146.6 612.4,154.8 612.7,146.6 612.9,146.6 613.1,146.6 613.4,154.8 613.6,146.6 613.8,146.6 614.1,146.6 614.3,146.6 614.5,138.4 614.8,130.2 615.0,138.4 615.2,138.4 615.5,138.4 615.7,138.4 615.9,146.6 616.2,146.6 616.4,146.6 616.6,146.6 616.9,146.6 617.1,154.8 617.3,146.6 617.6,146.6 617.8,154.8 618.0,154.8 618.3,154.8 618.5,154.8 618.7,154.8 619.0,154.8 619.2,154.8 619.4,154.8 619.7,154.8 619.9,146.6 620.1,146.6 620.4,138.4 620.6,146.6 620.8,146.6 621.1,146.6 621.3,146.6 621.5,146.6 621.8,138.4 622.0,138.4 622.2,138.4 622.5,146.6 622.7,138.4 622.9,138.4 623.2,138.4 623.4,138.4 623.6,138.4 623.9,146.6 624.1,146.6 624.3,146.6 624.6,146.6 624.8,138.4 625.0,146.6 625.3,146.6 625.5,146.6 625.7,138.4 626.0,146.6 626.2,146.6 626.4,146.6 626.7,138.4 626.9,130.2 627.1,130.2 627.4,130.2 627.6,130.2 627.8,130.2 628.1,130.2 628.3,130.2 628.5,130.2 628.8,130.2 629.0,130.2 629.2,130.2 629.5,130.2 629.7,130.2 629.9,138.4 630.2,138.4 630.4,138.4 630.6,138.4 630.9,138.4 631.1,138.4 631.3,138.4 631.6,138.4 631.8,130.2 632.0,130.2 632.3,130.2 632.5,130.2 632.7,130.2 633.0,130.2 633.2,122.0 633.4,130.2 633.7,138.4 633.9,122.0 634.1,122.0 634.4,122.0 634.6,122.0 634.8,122.0 635.1,122.0 635.3,122.0 635.5,130.2 635.8,138.4 636.0,138.4 636.2,138.4 636.5,138.4 636.7,138.4 636.9,138.4 637.2,138.4 637.4,146.6 637.6,138.4 637.9,138.4 638.1,138.4 638.3,130.2 638.6,138.4 638.8,138.4 639.0,146.6 639.3,138.4 639.5,138.4 639.7,138.4 640.0,130.2 640.2,130.2 640.4,130.2 640.7,122.0 640.9,130.2 641.1,130.2 641.4,130.2 641.6,130.2 641.8,138.4 642.1,146.6 642.3,138.4 642.5,138.4 642.8,146.6 643.0,138.4 643.2,138.4 643.5,138.4 643.7,138.4 643.9,130.2 644.2,130.2 644.4,130.2 644.6,130.2 644.9,130.2 645.1,130.2 645.3,130.2 645.6,130.2 645.8,122.0 646.0,122.0 646.3,122.0 646.5,122.0 646.7,113.8 647.0,122.0 647.2,122.0 647.4,122.0 647.7,122.0 647.9,130.2 648.1,130.2 648.4,130.2 648.6,130.2 648.8,130.2 649.1,130.2 649.3,130.2 649.5,130.2 649.8,130.2 650.0,113.8 650.2,113.8 650.5,113.8 650.7,113.8 650.9,113.8 651.2,113.8 651.4,113.8 651.6,113.8 651.9,105.6 652.1,105.6 652.3,105.6 652.6,105.6 652.8,97.5 653.0,105.6 653.2,105.6 653.5,105.6 653.7,105.6 653.9,89.3 654.2,89.3 654.4,89.3 654.6,89.3 654.9,89.3 655.1,97.5 655.3,89.3 655.6,89.3 655.8,105.6 656.0,97.5 656.3,97.5 656.5,97.5 656.7,97.5 657.0,105.6 657.2,97.5 657.4,97.5 657.7,97.5 657.9,81.1 658.1,89.3 658.4,89.3 658.6,81.1 658.8,89.3 659.1,89.3 659.3,89.3 659.5,89.3 659.8,105.6 660.0,97.5 660.2,105.6 660.5,105.6 660.7,105.6 660.9,105.6 661.2,105.6 661.4,105.6 661.6,105.6 661.9,138.4 662.1,130.2 662.3,130.2 662.6,138.4 662.8,130.2 663.0,130.2 663.3,122.0 663.5,130.2 663.7,130.2 664.0,138.4 664.2,138.4 664.4,138.4 664.7,138.4 664.9,130.2 665.1,138.4 665.4,146.6 665.6,146.6 665.8,146.6 666.1,146.6 666.3,146.6 666.5,146.6 666.8,138.4 667.0,138.4 667.2,138.4 667.5,146.6 667.7,146.6 667.9,138.4 668.2,138.4 668.4,138.4 668.6,130.2 668.9,138.4 669.1,113.8 669.3,113.8 669.6,113.8 669.8,113.8 670.0,113.8 670.3,113.8 670.5,113.8 670.7,105.6 671.0,105.6 671.2,105.6 671.4,113.8 671.7,105.6 671.9,105.6 672.1,105.6 672.4,105.6 672.6,89.3 672.8,89.3 673.1,89.3 673.3,89.3 673.5,89.3 673.8,89.3 674.0,89.3 674.2,89.3 674.5,89.3 674.7,89.3 674.9,97.5 675.2,97.5 675.4,89.3 675.6,97.5 675.9,97.5 676.1,97.5 676.3,97.5 676.6,97.5 676.8,89.3 677.0,89.3 677.3,89.3 677.5,89.3 677.7,89.3 678.0,81.1 678.2,89.3 678.4,89.3 678.7,105.6 678.9,105.6 679.1,105.6 679.4,105.6 679.6,105.6 679.8,105.6 680.1,105.6 680.3,97.5 680.5,97.5 680.8,97.5 681.0,105.6" fill="none" stroke="#ff0000" stroke-width="1.1" stroke-dasharray="1 0.9" stroke-linejoin="bevel" opacity="1"/>
<line x1="517.4" y1="179.4" x2="529.8" y2="179.4" stroke="#ff0000" stroke-width="2.3"/>
<line x1="528.8" y1="171.2" x2="531.4" y2="171.2" stroke="#ff0000" stroke-width="2.3"/>
<line x1="530.5" y1="179.4" x2="536.6" y2="179.4" stroke="#ff0000" stroke-width="2.3"/>
<line x1="535.6" y1="171.2" x2="542.2" y2="171.2" stroke="#ff0000" stroke-width="2.3"/>
<line x1="541.2" y1="179.4" x2="546.8" y2="179.4" stroke="#ff0000" stroke-width="2.3"/>
<line x1="545.8" y1="171.2" x2="551.2" y2="171.2" stroke="#ff0000" stroke-width="2.3"/>
<line x1="550.3" y1="163.0" x2="553.1" y2="163.0" stroke="#ff0000" stroke-width="2.3"/>
<line x1="552.1" y1="171.2" x2="566.6" y2="171.2" stroke="#ff0000" stroke-width="2.3"/>
<line x1="565.7" y1="179.4" x2="572.9" y2="179.4" stroke="#ff0000" stroke-width="2.3"/>
<line x1="572.0" y1="171.2" x2="575.0" y2="171.2" stroke="#ff0000" stroke-width="2.3"/>
<line x1="574.1" y1="179.4" x2="579.7" y2="179.4" stroke="#ff0000" stroke-width="2.3"/>
<line x1="578.7" y1="163.0" x2="582.3" y2="163.0" stroke="#ff0000" stroke-width="2.3"/>
<line x1="581.3" y1="171.2" x2="588.1" y2="171.2" stroke="#ff0000" stroke-width="2.3"/>
<line x1="587.1" y1="179.4" x2="589.0" y2="179.4" stroke="#ff0000" stroke-width="2.3"/>
<line x1="588.1" y1="171.2" x2="596.3" y2="171.2" stroke="#ff0000" stroke-width="2.3"/>
<line x1="595.3" y1="179.4" x2="597.4" y2="179.4" stroke="#ff0000" stroke-width="2.3"/>
<line x1="596.5" y1="171.2" x2="600.2" y2="171.2" stroke="#ff0000" stroke-width="2.3"/>
<line x1="599.2" y1="179.4" x2="601.4" y2="179.4" stroke="#ff0000" stroke-width="2.3"/>
<line x1="600.4" y1="171.2" x2="607.0" y2="171.2" stroke="#ff0000" stroke-width="2.3"/>
<line x1="606.0" y1="163.0" x2="608.1" y2="163.0" stroke="#ff0000" stroke-width="2.3"/>
<line x1="607.2" y1="154.8" x2="609.5" y2="154.8" stroke="#ff0000" stroke-width="2.3"/>
<line x1="608.6" y1="163.0" x2="609.8" y2="163.0" stroke="#ff0000" stroke-width="2.3"/>
<line x1="608.8" y1="138.4" x2="610.0" y2="138.4" stroke="#ff0000" stroke-width="2.3"/>
<line x1="609.0" y1="130.2" x2="610.2" y2="130.2" stroke="#ff0000" stroke-width="2.3"/>
<line x1="609.3" y1="138.4" x2="610.7" y2="138.4" stroke="#ff0000" stroke-width="2.3"/>
<line x1="609.7" y1="130.2" x2="612.6" y2="130.2" stroke="#ff0000" stroke-width="2.3"/>
<line x1="611.6" y1="146.6" x2="612.8" y2="146.6" stroke="#ff0000" stroke-width="2.3"/>
<line x1="611.8" y1="154.8" x2="613.0" y2="154.8" stroke="#ff0000" stroke-width="2.3"/>
<line x1="612.1" y1="146.6" x2="613.7" y2="146.6" stroke="#ff0000" stroke-width="2.3"/>
<line x1="612.8" y1="154.8" x2="614.0" y2="154.8" stroke="#ff0000" stroke-width="2.3"/>
<line x1="613.0" y1="146.6" x2="614.9" y2="146.6" stroke="#ff0000" stroke-width="2.3"/>
<line x1="613.9" y1="138.4" x2="615.1" y2="138.4" stroke="#ff0000" stroke-width="2.3"/>
<line x1="614.2" y1="130.2" x2="615.4" y2="130.2" stroke="#ff0000" stroke-width="2.3"/>
<line x1="614.4" y1="138.4" x2="616.3" y2="138.4" stroke="#ff0000" stroke-width="2.3"/>
<line x1="615.3" y1="146.6" x2="617.5" y2="146.6" stroke="#ff0000" stroke-width="2.3"/>
<line x1="616.5" y1="154.8" x2="617.7" y2="154.8" stroke="#ff0000" stroke-width="2.3"/>
<line x1="616.7" y1="146.6" x2="618.2" y2="146.6" stroke="#ff0000" stroke-width="2.3"/>
<line x1="617.2" y1="154.8" x2="620.3" y2="154.8" stroke="#ff0000" stroke-width="2.3"/>
<line x1="619.3" y1="146.6" x2="620.7" y2="146.6" stroke="#ff0000" stroke-width="2.3"/>
<line x1="619.8" y1="138.4" x2="621.0" y2="138.4" stroke="#ff0000" stroke-width="2.3"/>
<line x1="620.0" y1="146.6" x2="622.1" y2="146.6" stroke="#ff0000" stroke-width="2.3"/>
<line x1="621.2" y1="138.4" x2="622.8" y2="138.4" stroke="#ff0000" stroke-width="2.3"/>
<line x1="621.9" y1="146.6" x2="623.1" y2="146.6" stroke="#ff0000" stroke-width="2.3"/>
<line x1="622.1" y1="138.4" x2="624.2" y2="138.4" stroke="#ff0000" stroke-width="2.3"/>
<line x1="623.3" y1="146.6" x2="625.2" y2="146.6" stroke="#ff0000" stroke-width="2.3"/>
<line x1="624.2" y1="138.4" x2="625.4" y2="138.4" stroke="#ff0000" stroke-width="2.3"/>
<line x1="624.4" y1="146.6" x2="626.1" y2="146.6" stroke="#ff0000" stroke-width="2.3"/>
<line x1="625.1" y1="138.4" x2="626.3" y2="138.4" stroke="#ff0000" stroke-width="2.3"/>
<line x1="625.4" y1="146.6" x2="627.0" y2="146.6" stroke="#ff0000" stroke-width="2.3"/>
<line x1="626.1" y1="138.4" x2="627.3" y2="138.4" stroke="#ff0000" stroke-width="2.3"/>
<line x1="626.3" y1="130.2" x2="630.3" y2="130.2" stroke="#ff0000" stroke-width="2.3"/>
<line x1="629.3" y1="138.4" x2="632.2" y2="138.4" stroke="#ff0000" stroke-width="2.3"/>
<line x1="631.2" y1="130.2" x2="633.6" y2="130.2" stroke="#ff0000" stroke-width="2.3"/>
<line x1="632.6" y1="122.0" x2="633.8" y2="122.0" stroke="#ff0000" stroke-width="2.3"/>
<line x1="632.8" y1="130.2" x2="634.0" y2="130.2" stroke="#ff0000" stroke-width="2.3"/>
<line x1="633.1" y1="138.4" x2="634.3" y2="138.4" stroke="#ff0000" stroke-width="2.3"/>
<line x1="633.3" y1="122.0" x2="635.9" y2="122.0" stroke="#ff0000" stroke-width="2.3"/>
<line x1="634.9" y1="130.2" x2="636.1" y2="130.2" stroke="#ff0000" stroke-width="2.3"/>
<line x1="635.2" y1="138.4" x2="637.8" y2="138.4" stroke="#ff0000" stroke-width="2.3"/>
<line x1="636.8" y1="146.6" x2="638.0" y2="146.6" stroke="#ff0000" stroke-width="2.3"/>
<line x1="637.0" y1="138.4" x2="638.7" y2="138.4" stroke="#ff0000" stroke-width="2.3"/>
<line x1="637.7" y1="130.2" x2="638.9" y2="130.2" stroke="#ff0000" stroke-width="2.3"/>
<line x1="638.0" y1="138.4" x2="639.4" y2="138.4" stroke="#ff0000" stroke-width="2.3"/>
<line x1="638.4" y1="146.6" x2="639.6" y2="146.6" stroke="#ff0000" stroke-width="2.3"/>
<line x1="638.7" y1="138.4" x2="640.3" y2="138.4" stroke="#ff0000" stroke-width="2.3"/>
<line x1="639.4" y1="130.2" x2="641.0" y2="130.2" stroke="#ff0000" stroke-width="2.3"/>
<line x1="640.1" y1="122.0" x2="641.3" y2="122.0" stroke="#ff0000" stroke-width="2.3"/>
<line x1="640.3" y1="130.2" x2="642.2" y2="130.2" stroke="#ff0000" stroke-width="2.3"/>
<line x1="641.2" y1="138.4" x2="642.4" y2="138.4" stroke="#ff0000" stroke-width="2.3"/>
<line x1="641.5" y1="146.6" x2="642.7" y2="146.6" stroke="#ff0000" stroke-width="2.3"/>
<line x1="641.7" y1="138.4" x2="643.1" y2="138.4" stroke="#ff0000" stroke-width="2.3"/>
<line x1="642.2" y1="146.6" x2="643.4" y2="146.6" stroke="#ff0000" stroke-width="2.3"/>
<line x1="642.4" y1="138.4" x2="644.3" y2="138.4" stroke="#ff0000" stroke-width="2.3"/>
<line x1="643.3" y1="130.2" x2="646.2" y2="130.2" stroke="#ff0000" stroke-width="2.3"/>
<line x1="645.2" y1="122.0" x2="647.1" y2="122.0" stroke="#ff0000" stroke-width="2.3"/>
<line x1="646.1" y1="113.8" x2="647.3" y2="113.8" stroke="#ff0000" stroke-width="2.3"/>
<line x1="646.4" y1="122.0" x2="648.3" y2="122.0" stroke="#ff0000" stroke-width="2.3"/>
<line x1="647.3" y1="130.2" x2="650.4" y2="130.2" stroke="#ff0000" stroke-width="2.3"/>
<line x1="649.4" y1="113.8" x2="652.2" y2="113.8" stroke="#ff0000" stroke-width="2.3"/>
<line x1="651.3" y1="105.6" x2="653.2" y2="105.6" stroke="#ff0000" stroke-width="2.3"/>
<line x1="652.2" y1="97.5" x2="653.4" y2="97.5" stroke="#ff0000" stroke-width="2.3"/>
<line x1="652.4" y1="105.6" x2="654.3" y2="105.6" stroke="#ff0000" stroke-width="2.3"/>
<line x1="653.3" y1="89.3" x2="655.5" y2="89.3" stroke="#ff0000" stroke-width="2.3"/>
<line x1="654.5" y1="97.5" x2="655.7" y2="97.5" stroke="#ff0000" stroke-width="2.3"/>
<line x1="654.7" y1="89.3" x2="656.2" y2="89.3" stroke="#ff0000" stroke-width="2.3"/>
<line x1="655.2" y1="105.6" x2="656.4" y2="105.6" stroke="#ff0000" stroke-width="2.3"/>
<line x1="655.4" y1="97.5" x2="657.3" y2="97.5" stroke="#ff0000" stroke-width="2.3"/>
<line x1="656.4" y1="105.6" x2="657.6" y2="105.6" stroke="#ff0000" stroke-width="2.3"/>
<line x1="656.6" y1="97.5" x2="658.3" y2="97.5" stroke="#ff0000" stroke-width="2.3"/>
<line x1="657.3" y1="81.1" x2="658.5" y2="81.1" stroke="#ff0000" stroke-width="2.3"/>
<line x1="657.5" y1="89.3" x2="659.0" y2="89.3" stroke="#ff0000" stroke-width="2.3"/>
<line x1="658.0" y1="81.1" x2="659.2" y2="81.1" stroke="#ff0000" stroke-width="2.3"/>
<line x1="658.2" y1="89.3" x2="660.1" y2="89.3" stroke="#ff0000" stroke-width="2.3"/>
<line x1="659.2" y1="105.6" x2="660.4" y2="105.6" stroke="#ff0000" stroke-width="2.3"/>
<line x1="659.4" y1="97.5" x2="660.6" y2="97.5" stroke="#ff0000" stroke-width="2.3"/>
<line x1="659.6" y1="105.6" x2="662.2" y2="105.6" stroke="#ff0000" stroke-width="2.3"/>
<line x1="661.3" y1="138.4" x2="662.5" y2="138.4" stroke="#ff0000" stroke-width="2.3"/>
<line x1="661.5" y1="130.2" x2="662.9" y2="130.2" stroke="#ff0000" stroke-width="2.3"/>
<line x1="662.0" y1="138.4" x2="663.2" y2="138.4" stroke="#ff0000" stroke-width="2.3"/>
<line x1="662.2" y1="130.2" x2="663.6" y2="130.2" stroke="#ff0000" stroke-width="2.3"/>
<line x1="662.7" y1="122.0" x2="663.9" y2="122.0" stroke="#ff0000" stroke-width="2.3"/>
<line x1="662.9" y1="130.2" x2="664.3" y2="130.2" stroke="#ff0000" stroke-width="2.3"/>
<line x1="663.4" y1="138.4" x2="665.3" y2="138.4" stroke="#ff0000" stroke-width="2.3"/>
<line x1="664.3" y1="130.2" x2="665.5" y2="130.2" stroke="#ff0000" stroke-width="2.3"/>
<line x1="664.5" y1="138.4" x2="665.7" y2="138.4" stroke="#ff0000" stroke-width="2.3"/>
<line x1="664.8" y1="146.6" x2="667.1" y2="146.6" stroke="#ff0000" stroke-width="2.3"/>
<line x1="666.2" y1="138.4" x2="667.8" y2="138.4" stroke="#ff0000" stroke-width="2.3"/>
<line x1="666.9" y1="146.6" x2="668.3" y2="146.6" stroke="#ff0000" stroke-width="2.3"/>
<line x1="667.3" y1="138.4" x2="669.0" y2="138.4" stroke="#ff0000" stroke-width="2.3"/>
<line x1="668.0" y1="130.2" x2="669.2" y2="130.2" stroke="#ff0000" stroke-width="2.3"/>
<line x1="668.3" y1="138.4" x2="669.5" y2="138.4" stroke="#ff0000" stroke-width="2.3"/>
<line x1="668.5" y1="113.8" x2="671.1" y2="113.8" stroke="#ff0000" stroke-width="2.3"/>
<line x1="670.1" y1="105.6" x2="671.8" y2="105.6" stroke="#ff0000" stroke-width="2.3"/>
<line x1="670.8" y1="113.8" x2="672.0" y2="113.8" stroke="#ff0000" stroke-width="2.3"/>
<line x1="671.1" y1="105.6" x2="673.0" y2="105.6" stroke="#ff0000" stroke-width="2.3"/>
<line x1="672.0" y1="89.3" x2="675.3" y2="89.3" stroke="#ff0000" stroke-width="2.3"/>
<line x1="674.3" y1="97.5" x2="675.8" y2="97.5" stroke="#ff0000" stroke-width="2.3"/>
<line x1="674.8" y1="89.3" x2="676.0" y2="89.3" stroke="#ff0000" stroke-width="2.3"/>
<line x1="675.0" y1="97.5" x2="677.2" y2="97.5" stroke="#ff0000" stroke-width="2.3"/>
<line x1="676.2" y1="89.3" x2="678.3" y2="89.3" stroke="#ff0000" stroke-width="2.3"/>
<line x1="677.4" y1="81.1" x2="678.6" y2="81.1" stroke="#ff0000" stroke-width="2.3"/>
<line x1="677.6" y1="89.3" x2="679.0" y2="89.3" stroke="#ff0000" stroke-width="2.3"/>
<line x1="678.1" y1="105.6" x2="680.7" y2="105.6" stroke="#ff0000" stroke-width="2.3"/>
<line x1="679.7" y1="97.5" x2="681.4" y2="97.5" stroke="#ff0000" stroke-width="2.3"/>
<line x1="680.4" y1="105.6" x2="681.6" y2="105.6" stroke="#ff0000" stroke-width="2.3"/>
<polyline points="52.7,402.6 53.5,403.0 54.2,397.3 54.9,402.5 55.6,402.7 56.3,401.7 57.0,402.6 57.7,401.4 58.4,403.1 58.9,402.2 59.6,402.7 60.1,402.2 60.7,403.3 61.2,401.9 61.9,403.5 62.5,402.0 63.3,403.4 64.0,402.0 64.4,402.6 64.9,401.5 65.3,402.5 66.0,401.7 66.6,402.7 67.3,402.0 67.8,402.5 68.6,402.3 69.3,403.3 70.0,402.3 70.6,403.0 71.4,402.3 71.9,402.6 72.6,402.1 73.3,402.6 74.0,401.6 74.6,402.6 75.1,401.5 75.7,402.4 76.4,401.7 76.9,402.6 77.3,401.9 78.1,402.7 78.8,402.0 79.3,402.1 80.0,401.0 80.6,403.1 81.4,402.0 82.0,402.7 82.7,401.4 83.4,402.6 83.8,401.6 84.5,402.4 85.2,401.4 85.9,402.6 86.7,401.8 87.2,402.3 87.9,401.7 88.4,402.0 89.1,401.0 89.8,402.3 90.4,400.4 91.0,401.3 91.6,400.7 92.3,401.6 93.0,399.4 93.4,400.9 94.0,400.1 94.4,401.6 94.9,399.5 95.5,401.9 96.1,400.4 96.5,401.2 97.1,399.7 97.6,401.1 98.1,399.4 98.7,400.6 99.1,399.8 99.6,401.3 100.1,399.1 100.8,401.4 101.5,399.0 102.2,400.6 102.7,399.0 103.4,400.7 104.1,400.0 104.8,400.5 105.5,399.3 106.0,401.2 106.6,399.6 107.2,400.3 107.6,398.8 108.2,399.7 108.7,397.0 109.5,397.6 110.2,395.8 110.9,397.4 111.3,396.1 112.0,397.9 112.7,396.6 113.3,397.0 113.8,395.9 114.4,397.1 115.0,395.6 115.6,396.7 116.1,395.5 116.8,397.7 117.5,395.6 118.0,396.5 118.8,395.1 119.2,396.3 119.9,395.4 120.4,396.7 121.0,396.0 121.6,396.7 122.0,395.2 122.5,396.0 123.3,394.7 123.9,397.1 124.6,395.6 125.2,396.6 126.0,394.6 126.6,396.8 127.3,394.4 127.9,396.1 128.4,394.1 128.9,396.0 129.4,394.1 129.8,395.8 130.5,393.0 131.0,393.8 131.8,392.0 132.3,393.2 133.0,390.2 133.5,391.9 134.0,390.4 134.6,390.7 135.1,388.6 135.7,391.3 136.4,388.6 136.8,389.7 137.3,387.3 137.8,389.4 138.5,387.7 138.9,388.4 139.5,385.1 140.3,388.8 140.8,385.9 141.2,386.5 141.8,380.2 142.5,381.6 143.0,368.1 143.7,377.1 144.2,356.4 144.6,376.0 145.3,364.3 146.0,377.1 146.5,366.9 147.2,371.2 147.7,361.8 148.4,377.2 149.0,365.1 149.8,368.9 150.4,350.3 151.1,360.2 151.8,355.8 152.4,361.5 152.9,356.9 153.5,357.3 154.0,345.2 154.7,364.4 155.5,350.4 156.1,362.6 156.8,351.0 157.4,334.2 157.8,347.6 158.2,365.4 158.7,348.8 159.2,355.9 159.7,341.0 160.2,364.4 160.9,341.7 161.6,354.2 162.3,338.6 162.9,352.7 163.7,316.2 164.4,356.3 164.9,331.6 165.5,353.6 166.0,343.1 166.4,349.3 167.1,336.8 167.6,307.2 168.3,334.6 168.9,348.7 169.3,330.0 170.0,344.0 170.7,333.6 171.5,309.7 172.1,334.2 172.9,341.6 173.5,333.7 174.0,353.8 174.5,317.0 175.2,344.2 175.9,331.4 176.7,344.6 177.4,317.0 178.0,347.0 178.6,321.8 179.2,338.4 180.0,296.6 180.5,334.9 181.0,322.6 181.5,337.0 182.2,309.5 182.9,347.2 183.7,323.5 184.3,333.8 185.0,285.1 185.8,334.5 186.5,318.2 187.1,333.6 187.9,322.4 188.6,350.9 189.0,319.0 189.5,349.3 190.3,332.9 190.9,346.9 191.4,332.8 192.2,351.5 192.6,325.7 193.2,338.3 193.8,332.3 194.3,316.2 194.8,325.7 195.3,349.2 195.8,328.4 196.3,338.5 196.9,335.0 197.4,345.3 198.1,327.4 198.9,328.8 199.6,311.4 200.3,254.8 201.0,299.7 201.5,312.9 202.3,303.5 202.9,326.6 203.5,274.5 204.2,334.4 204.6,312.1 205.2,325.5 205.7,316.2 206.4,332.0 207.0,316.6 207.5,343.2 208.3,323.9 208.9,331.9 209.6,314.1 210.3,285.9 211.0,315.6 211.6,330.9 212.1,319.4 212.5,335.7 213.2,310.4 213.6,334.5 214.2,247.4 214.9,319.2" fill="none" stroke="#0000ff" stroke-width="1.45" stroke-dasharray="1.2 0.8" stroke-linejoin="bevel" opacity="1"/>
<polyline points="285.9,385.9 286.8,394.6 287.9,399.8 289.0,398.9 289.7,394.1 290.3,399.6 291.4,393.3 292.5,398.8 293.2,393.1 294.3,402.1 294.9,394.8 296.0,398.5 296.9,400.8 297.8,396.7 298.6,402.4 299.4,400.8 300.3,393.6 301.2,397.0 301.9,398.9 302.6,400.9 303.5,400.6 304.2,399.8 304.9,397.4 305.7,402.1 306.4,400.1 307.5,397.7 308.2,392.9 309.2,393.1 309.9,392.3 310.9,399.9 312.0,401.0 313.0,393.2 314.1,398.6 314.9,399.7 315.8,397.7 316.9,392.4 317.7,393.6 318.6,392.3 319.6,397.0 320.4,400.2 321.3,396.6 322.0,401.2 323.0,401.4 323.7,397.4 324.5,400.5 325.2,401.6 326.2,400.3 327.1,395.6 328.2,395.0 329.3,400.5 330.4,391.2 331.4,390.6 332.2,393.8 333.0,396.2 333.8,389.3 334.6,390.8 335.4,392.8 336.5,384.3 337.4,395.4 338.1,382.1 339.1,381.5 340.3,382.8 341.2,384.7 341.8,378.8 342.8,385.3 343.7,375.3 344.7,379.7 345.6,379.8 346.7,378.4 347.3,387.1 348.2,388.5 349.1,388.0 350.0,389.2 350.7,378.4 351.6,389.2 352.3,385.6 353.2,381.4 353.8,388.3 354.5,377.3 355.5,377.4 356.4,387.1 357.0,383.7 357.7,380.2 358.5,376.7 359.1,388.6 359.7,386.8 360.7,394.1 361.3,383.7 362.2,383.5 363.0,383.2 363.9,389.1 364.5,380.7 365.1,385.3 365.9,388.8 366.8,391.1 367.5,394.4 368.1,384.1 368.8,385.1 369.4,388.6 370.0,390.0 370.8,390.0 371.4,380.0 372.0,388.3 372.7,376.9 373.2,353.9 373.7,376.4 374.5,393.7 375.3,394.0 376.0,394.6 376.6,375.6 377.1,384.1 377.6,375.0 378.0,388.9 378.4,372.4 379.0,385.6 379.5,377.6 379.9,393.2 380.3,363.8 380.8,390.8 381.2,386.7 381.5,386.8 381.9,372.6 382.5,385.4 383.0,391.0 383.4,394.0 383.8,374.3 384.2,376.9 384.5,375.5 384.9,384.3 385.3,378.5 385.6,395.5 386.0,376.8 386.4,390.9 386.7,379.0 387.0,384.8 387.4,371.5 387.9,384.2 388.2,364.0 388.6,360.5 389.0,361.7 389.3,378.7 389.8,365.6 390.3,380.5 390.6,364.8 391.0,383.5 391.5,358.0 392.0,378.4 392.4,363.6 392.8,376.7 393.2,359.6 393.5,386.5 394.0,354.5 394.3,378.4 394.7,350.1 395.0,369.9 395.5,365.1 396.0,381.6 396.4,352.4 396.8,331.0 397.2,348.7 397.6,372.1 398.1,345.5 398.5,378.6 399.0,350.4 399.5,373.1 399.9,350.0 400.3,317.8 400.8,356.6 401.3,380.9 401.7,346.3 402.1,382.6 402.4,351.4 402.8,365.2 403.2,344.4 403.6,370.6 403.9,363.9 404.3,365.3 404.8,356.6 405.3,380.3 405.8,366.2 406.3,383.4 406.6,368.1 407.0,376.7 407.5,364.4 407.9,381.5 408.3,360.0 408.6,384.8 409.1,367.6 409.5,375.4 410.0,359.7 410.4,372.3 410.7,359.6 411.2,376.0 411.7,356.2 412.1,363.7 412.4,346.3 412.7,362.6 413.2,339.9 413.7,312.1 414.0,335.6 414.5,348.8 414.8,342.6 415.3,358.6 415.6,325.2 416.0,356.7 416.4,336.9 416.7,356.3 417.1,331.8 417.5,289.1 417.9,340.2 418.3,359.7 418.6,349.2 419.1,362.2 419.5,337.7 419.8,370.9 420.1,350.5 420.5,363.0 420.9,347.5 421.4,362.5 421.7,352.5 422.0,374.9 422.5,352.4 423.0,362.9 423.5,351.7 423.9,372.3 424.2,345.2 424.5,369.4 425.0,358.5 425.4,374.6 425.8,342.7 426.2,383.3 426.6,346.0 427.1,378.5 427.4,346.2 427.8,379.3 428.3,341.1 428.7,356.2 429.2,347.3 429.5,347.6 430.0,340.0 430.3,364.2 430.8,316.3 431.2,345.3 431.5,329.9 431.9,336.7 432.3,312.7 432.7,328.9 433.1,307.9 433.4,253.9 433.9,325.6 434.2,345.2 434.7,327.4 435.2,364.7 435.7,335.8 436.0,370.1 436.5,349.6 436.9,381.0 437.4,362.3 437.7,374.3 438.0,344.5 438.4,364.7 438.9,354.2 439.3,366.2 439.8,346.1 440.3,369.9 440.6,340.7 441.1,354.9 441.4,322.4 441.7,367.5 442.1,336.2 442.6,317.8 442.9,328.8 443.3,357.6 443.6,319.0 443.9,366.8 444.3,280.9 444.7,358.7 445.1,313.3 445.4,341.5 445.8,311.6 446.1,346.9 446.7,314.9 447.0,363.9 447.4,320.0 447.8,345.1 448.3,323.2" fill="none" stroke="#0000ff" stroke-width="1.45" stroke-dasharray="1.2 0.8" stroke-linejoin="bevel" opacity="1"/>
<rect x="518.70" y="242.50" width="164.00" height="164.10" fill="none" stroke="#333" stroke-width="1.15"/>
<line x1="518.70" y1="406.60" x2="518.70" y2="402.30" stroke="#333" stroke-width="1.0"/>
<line x1="518.70" y1="242.50" x2="518.70" y2="246.80" stroke="#333" stroke-width="1.0"/>
<line x1="558.70" y1="406.60" x2="558.70" y2="402.30" stroke="#333" stroke-width="1.0"/>
<line x1="558.70" y1="242.50" x2="558.70" y2="246.80" stroke="#333" stroke-width="1.0"/>
<line x1="598.70" y1="406.60" x2="598.70" y2="402.30" stroke="#333" stroke-width="1.0"/>
<line x1="598.70" y1="242.50" x2="598.70" y2="246.80" stroke="#333" stroke-width="1.0"/>
<line x1="638.70" y1="406.60" x2="638.70" y2="402.30" stroke="#333" stroke-width="1.0"/>
<line x1="638.70" y1="242.50" x2="638.70" y2="246.80" stroke="#333" stroke-width="1.0"/>
<line x1="678.70" y1="406.60" x2="678.70" y2="402.30" stroke="#333" stroke-width="1.0"/>
<line x1="678.70" y1="242.50" x2="678.70" y2="246.80" stroke="#333" stroke-width="1.0"/>
<line x1="518.70" y1="406.60" x2="523.00" y2="406.60" stroke="#333" stroke-width="1.0"/>
<line x1="682.70" y1="406.60" x2="678.40" y2="406.60" stroke="#333" stroke-width="1.0"/>
<line x1="518.70" y1="324.55" x2="523.00" y2="324.55" stroke="#333" stroke-width="1.0"/>
<line x1="682.70" y1="324.55" x2="678.40" y2="324.55" stroke="#333" stroke-width="1.0"/>
<line x1="518.70" y1="242.50" x2="523.00" y2="242.50" stroke="#333" stroke-width="1.0"/>
<line x1="682.70" y1="242.50" x2="678.40" y2="242.50" stroke="#333" stroke-width="1.0"/>
<polyline points="518.7,406.6 518.8,406.6 518.8,406.6 518.9,406.6 519.0,406.6 519.1,406.6 519.1,406.6 519.2,406.6 519.3,406.6 519.4,406.6 519.4,406.6 519.5,406.6 519.6,406.6 519.7,406.6 519.7,406.6 519.8,406.6 519.9,406.6 520.0,406.6 520.0,406.6 520.1,406.6 520.2,406.6 520.3,406.6 520.3,406.6 520.4,406.6 520.5,406.6 520.6,406.6 520.6,406.6 520.7,406.6 520.8,406.6 520.9,406.6 520.9,406.6 521.0,406.6 521.1,406.6 521.1,406.6 521.2,406.6 521.3,406.6 521.4,406.6 521.4,406.6 521.5,406.6 521.6,406.6 521.7,406.6 521.7,406.6 521.8,406.6 521.9,406.6 522.0,406.6 522.0,406.6 522.1,406.6 522.2,406.6 522.3,406.6 522.3,406.6 522.4,406.6 522.5,406.6 522.6,406.6 522.6,406.6 522.7,406.6 522.8,406.6 522.9,406.6 522.9,406.6 523.0,406.6 523.1,406.6 523.2,406.6 523.2,406.6 523.3,406.6 523.4,406.6 523.4,406.6 523.5,406.6 523.6,406.6 523.7,406.6 523.7,406.6 523.8,406.6 523.9,406.6 524.0,406.6 524.0,406.6 524.1,406.6 524.2,406.6 524.3,406.6 524.3,406.6 524.4,406.6 524.5,406.6 524.6,406.6 524.6,406.6 524.7,406.6 524.8,406.6 524.9,406.6 524.9,406.6 525.0,406.6 525.1,406.6 525.2,406.6 525.2,406.6 525.3,406.6 525.4,406.6 525.5,406.6 525.5,406.6 525.6,406.6 525.7,406.6 525.8,406.6 525.8,406.6 525.9,406.6 526.0,406.6 526.0,406.6 526.1,406.6 526.2,406.6 526.3,406.6 526.3,406.6 526.4,406.6 526.5,406.6 526.6,406.6 526.6,406.6 526.7,406.6 526.8,406.6 526.9,406.6 526.9,406.6 527.0,406.6 527.1,406.6 527.2,406.6 527.2,406.6 527.3,406.6 527.4,406.6 527.5,406.6 527.5,406.6 527.6,406.6 527.7,406.6 527.8,406.6 527.8,406.6 527.9,406.6 528.0,406.6 528.1,406.6 528.1,406.6 528.2,406.6 528.3,406.6 528.3,406.6 528.4,406.6 528.5,406.6 528.6,406.6 528.6,406.6 528.7,406.6 528.8,406.6 528.9,406.6 528.9,406.6 529.0,406.6 529.1,406.6 529.2,406.6 529.2,406.6 529.3,406.6 529.4,406.6 529.5,406.6 529.5,406.6 529.6,406.6 529.7,406.6 529.8,406.6 529.8,406.6 529.9,406.6 530.0,406.6 530.1,406.6 530.1,406.6 530.2,406.6 530.3,406.6 530.4,406.6 530.4,406.6 530.5,406.6 530.6,406.6 530.6,406.6 530.7,406.6 530.8,406.6 530.9,406.6 530.9,387.2 531.0,357.1 531.1,326.3 531.2,353.3 531.2,381.8 531.3,406.6 531.4,406.6 531.5,406.6 531.5,406.6 531.6,406.6 531.7,406.6 531.8,406.6 531.8,406.6 531.9,406.6 532.0,406.6 532.1,406.6 532.1,406.6 532.2,406.6 532.3,406.6 532.4,406.6 532.4,406.6 532.5,406.6 532.6,406.6 532.7,406.6 532.7,406.6 532.8,406.6 532.9,406.6 532.9,406.6 533.0,406.6 533.1,406.6 533.2,406.6 533.2,406.6 533.3,406.6 533.4,406.6 533.5,406.6 533.5,406.6 533.6,406.6 533.7,406.6 533.8,406.6 533.8,406.6 533.9,406.6 534.0,406.6 534.1,406.6 534.1,406.6 534.2,406.6 534.3,406.6 534.4,406.6 534.4,406.6 534.5,406.6 534.6,406.6 534.7,406.6 534.7,406.6 534.8,406.6 534.9,406.6 535.0,406.6 535.0,406.6 535.1,406.6 535.2,406.6 535.3,406.6 535.3,406.6 535.4,406.6 535.5,406.6 535.5,406.6 535.6,406.6 535.7,406.6 535.8,406.6 535.8,406.6 535.9,406.6 536.0,406.6 536.1,406.6 536.1,406.6 536.2,406.6 536.3,406.6 536.4,406.6 536.4,406.6 536.5,406.6 536.6,406.6 536.7,406.6 536.7,406.6 536.8,406.6 536.9,406.6 537.0,406.6 537.0,406.6 537.1,406.6 537.2,406.6 537.3,406.6 537.3,406.6 537.4,406.6 537.5,406.6 537.6,384.7 537.6,351.6 537.7,320.4 537.8,320.4 537.8,320.3 537.9,320.3 538.0,319.7 538.1,320.4 538.1,321.8 538.2,322.4 538.3,320.4 538.4,321.0 538.4,321.5 538.5,321.8 538.6,320.8 538.7,323.2 538.7,323.0 538.8,322.7 538.9,321.1 539.0,321.9 539.0,322.3 539.1,323.0 539.2,323.5 539.3,324.0 539.3,323.7 539.4,323.8 539.5,323.0 539.6,323.5 539.6,322.1 539.7,322.3 539.8,323.3 539.9,324.3 539.9,324.0 540.0,324.9 540.1,323.4 540.1,324.2 540.2,322.9 540.3,324.5 540.4,323.3 540.4,324.5 540.5,323.9 540.6,324.8 540.7,323.7 540.7,325.3 540.8,325.6 540.9,326.0 541.0,325.3 541.0,324.6 541.1,325.4 541.2,324.6 541.3,325.3 541.3,325.6 541.4,325.8 541.5,327.1 541.6,325.8 541.6,327.0 541.7,327.3 541.8,327.4 541.9,327.4 541.9,326.4 542.0,327.4 542.1,327.5 542.2,348.0 542.2,376.2 542.3,406.6 542.4,406.6 542.4,406.6 542.5,406.6 542.6,406.6 542.7,406.6 542.7,406.6 542.8,406.6 542.9,406.6 543.0,406.6 543.0,406.6 543.1,406.6 543.2,406.6 543.3,406.6 543.3,406.6 543.4,406.6 543.5,406.6 543.6,406.6 543.6,406.6 543.7,406.6 543.8,406.6 543.9,406.6 543.9,406.6 544.0,406.6 544.1,406.6 544.2,406.6 544.2,406.6 544.3,406.6 544.4,406.6 544.5,406.6 544.5,406.6 544.6,406.6 544.7,406.6 544.7,406.6 544.8,406.6 544.9,406.6 545.0,406.6 545.0,406.6 545.1,406.6 545.2,406.6 545.3,406.6 545.3,406.6 545.4,406.6 545.5,406.6 545.6,406.6 545.6,406.6 545.7,406.6 545.8,406.6 545.9,406.6 545.9,406.6 546.0,406.6 546.1,406.6 546.2,406.6 546.2,406.6 546.3,406.6 546.4,406.6 546.5,406.6 546.5,406.6 546.6,406.6 546.7,406.6 546.8,406.6 546.8,406.6 546.9,406.6 547.0,406.6 547.1,406.6 547.1,406.6 547.2,406.6 547.3,406.6 547.3,387.9 547.4,357.8 547.5,325.7 547.6,324.5 547.6,325.4 547.7,325.6 547.8,326.0 547.9,325.4 547.9,325.2 548.0,326.8 548.1,325.6 548.2,327.0 548.2,327.1 548.3,327.9 548.4,328.6 548.5,328.6 548.5,328.7 548.6,328.5 548.7,328.6 548.8,328.0 548.8,329.4 548.9,328.6 549.0,330.1 549.1,329.8 549.1,331.0 549.2,329.2 549.3,330.8 549.4,330.3 549.4,330.7 549.5,331.1 549.6,332.0 549.6,330.8 549.7,331.9 549.8,332.9 549.9,333.2 549.9,332.5 550.0,332.6 550.1,333.5 550.2,333.8 550.2,332.6 550.3,333.1 550.4,334.5 550.5,333.0 550.5,334.9 550.6,333.0 550.7,333.1 550.8,334.9 550.8,332.8 550.9,333.1 551.0,334.9 551.1,333.8 551.1,334.3 551.2,335.2 551.3,335.1 551.4,335.2 551.4,334.1 551.5,334.4 551.6,333.5 551.7,335.2 551.7,334.8 551.8,335.1 551.9,335.2 551.9,334.7 552.0,334.3 552.1,334.6 552.2,336.1 552.2,335.7 552.3,334.9 552.4,334.7 552.5,334.5 552.5,335.8 552.6,335.6 552.7,336.7 552.8,335.6 552.8,336.3 552.9,335.8 553.0,335.7 553.1,336.8 553.1,337.1 553.2,335.6 553.3,335.7 553.4,335.1 553.4,336.4 553.5,337.5 553.6,337.6 553.7,335.4 553.7,336.1 553.8,337.6 553.9,337.0 554.0,337.7 554.0,336.3 554.1,336.5 554.2,336.1 554.2,336.8 554.3,337.5 554.4,336.4 554.5,337.7 554.5,336.9 554.6,338.3 554.7,338.2 554.8,345.3 554.8,354.6 554.9,361.7 555.0,371.1 555.1,378.6 555.1,388.0 555.2,396.5 555.3,405.2 555.4,396.6 555.4,383.4 555.5,369.3 555.6,357.0 555.7,344.0 555.7,337.8 555.8,338.1 555.9,336.4 556.0,337.0 556.0,335.9 556.1,337.4 556.2,336.5 556.3,335.5 556.3,334.6 556.4,336.1 556.5,333.9 556.5,334.5 556.6,335.4 556.7,335.6 556.8,333.1 556.8,333.5 556.9,333.1 557.0,333.6 557.1,334.1 557.1,332.9 557.2,332.3 557.3,332.9 557.4,331.0 557.4,331.2 557.5,332.8 557.6,331.9 557.7,330.1 557.7,330.2 557.8,329.9 557.9,331.1 558.0,329.3 558.0,329.8 558.1,330.3 558.2,329.6 558.3,330.6 558.3,328.9 558.4,330.8 558.5,330.3 558.6,329.1 558.6,329.7 558.7,328.5 558.8,328.6 558.9,328.9 558.9,329.6 559.0,329.3 559.1,329.5 559.1,329.5 559.2,330.1 559.3,329.5 559.4,328.3 559.4,328.6 559.5,329.1 559.6,329.1 559.7,329.4 559.7,329.7 559.8,329.5 559.9,328.4 560.0,327.6 560.0,328.2 560.1,329.0 560.2,328.5 560.3,329.6 560.3,329.7 560.4,329.7 560.5,328.5 560.6,328.4 560.6,329.5 560.7,327.6 560.8,329.5 560.9,328.6 560.9,328.3 561.0,329.8 561.1,329.2 561.2,328.6 561.2,328.2 561.3,328.2 561.4,328.3 561.4,329.7 561.5,329.7 561.6,327.8 561.7,329.5 561.7,329.0 561.8,327.8 561.9,329.8 562.0,327.8 562.0,328.3 562.1,328.9 562.2,329.3 562.3,328.6 562.3,327.9 562.4,329.4 562.5,329.3 562.6,328.7 562.6,327.9 562.7,328.9 562.8,328.9 562.9,327.5 562.9,328.6 563.0,327.9 563.1,328.2 563.2,328.5 563.2,328.8 563.3,328.3 563.4,327.8 563.5,329.5 563.5,329.3 563.6,329.6 563.7,328.2 563.7,329.6 563.8,329.4 563.9,329.4 564.0,328.5 564.0,331.0 564.1,330.7 564.2,329.2 564.3,330.3 564.3,330.7 564.4,329.4 564.5,331.7 564.6,332.0 564.6,330.0 564.7,330.4 564.8,331.2 564.9,332.0 564.9,330.9 565.0,332.6 565.1,332.1 565.2,332.9 565.2,332.4 565.3,333.6 565.4,332.6 565.5,332.8 565.5,335.3 565.6,345.9 565.7,354.6 565.8,364.7 565.8,373.5 565.9,382.8 566.0,390.1 566.0,401.3 566.1,406.6 566.2,406.6 566.3,406.6 566.3,406.6 566.4,406.6 566.5,406.6 566.6,406.6 566.6,406.6 566.7,406.6 566.8,406.6 566.9,406.6 566.9,406.6 567.0,406.6 567.1,406.6 567.2,406.6 567.2,406.6 567.3,406.6 567.4,406.6 567.5,406.6 567.5,406.6 567.6,406.6 567.7,406.6 567.8,406.6 567.8,406.6 567.9,406.6 568.0,406.6 568.1,406.6 568.1,406.6 568.2,406.6 568.3,406.6 568.4,406.6 568.4,406.6 568.5,406.6 568.6,406.6 568.6,406.6 568.7,406.6 568.8,406.6 568.9,406.6 568.9,406.6 569.0,406.6 569.1,406.6 569.2,406.6 569.2,406.6 569.3,406.6 569.4,406.6 569.5,406.6 569.5,406.6 569.6,406.6 569.7,406.6 569.8,406.6 569.8,406.6 569.9,406.6 570.0,406.6 570.1,406.6 570.1,406.6 570.2,406.6 570.3,406.6 570.4,406.6 570.4,406.6 570.5,406.6 570.6,406.6 570.7,406.6 570.7,406.6 570.8,406.6 570.9,406.6 570.9,406.6 571.0,406.6 571.1,406.6 571.2,406.6 571.2,406.6 571.3,406.6 571.4,406.6 571.5,406.6 571.5,406.6 571.6,406.6 571.7,406.6 571.8,406.6 571.8,406.6 571.9,406.6 572.0,406.6 572.1,406.6 572.1,406.6 572.2,406.6 572.3,406.6 572.4,406.6 572.4,406.6 572.5,406.6 572.6,406.6 572.7,406.6 572.7,406.6 572.8,406.6 572.9,406.6 573.0,406.6 573.0,406.6 573.1,406.6 573.2,406.6 573.2,406.6 573.3,406.6 573.4,406.6 573.5,406.6 573.5,406.6 573.6,406.6 573.7,406.6 573.8,406.6 573.8,406.6 573.9,406.6 574.0,406.6 574.1,406.6 574.1,406.6 574.2,406.6 574.3,406.6 574.4,406.6 574.4,406.6 574.5,402.4 574.6,372.2 574.7,340.5 574.7,324.8 574.8,325.3 574.9,324.3 575.0,324.3 575.0,323.8 575.1,324.4 575.2,325.8 575.3,324.6 575.3,325.3 575.4,325.2 575.5,323.9 575.5,323.4 575.6,323.6 575.7,325.2 575.8,354.2 575.8,383.5 575.9,406.6 576.0,406.6 576.1,406.6 576.1,406.6 576.2,406.6 576.3,406.6 576.4,406.6 576.4,406.6 576.5,406.6 576.6,406.6 576.7,406.6 576.7,406.6 576.8,406.6 576.9,406.6 577.0,406.6 577.0,406.6 577.1,406.6 577.2,406.6 577.3,406.6 577.3,406.6 577.4,406.6 577.5,406.6 577.6,406.6 577.6,406.6 577.7,406.6 577.8,406.6 577.8,406.6 577.9,406.6 578.0,406.6 578.1,406.6 578.1,406.6 578.2,406.6 578.3,406.6 578.4,406.6 578.4,406.6 578.5,406.6 578.6,406.6 578.7,406.6 578.7,406.6 578.8,406.6 578.9,406.6 579.0,406.6 579.0,406.6 579.1,406.6 579.2,406.6 579.3,406.6 579.3,406.6 579.4,406.6 579.5,406.6 579.6,406.6 579.6,406.6 579.7,406.6 579.8,406.6 579.9,406.6 579.9,406.6 580.0,406.6 580.1,406.6 580.2,406.6 580.2,406.6 580.3,406.6 580.4,406.6 580.4,406.6 580.5,406.6 580.6,406.6 580.7,406.6 580.7,406.6 580.8,406.6 580.9,406.6 581.0,406.6 581.0,406.6 581.1,406.6 581.2,406.6 581.3,406.6 581.3,395.1 581.4,368.9 581.5,345.7 581.6,341.3 581.6,341.2 581.7,338.9 581.8,339.0 581.9,339.7 581.9,339.7 582.0,337.7 582.1,339.1 582.2,337.8 582.2,337.1 582.3,336.0 582.4,336.3 582.5,337.4 582.5,336.0 582.6,334.7 582.7,335.9 582.7,336.3 582.8,336.5 582.9,334.7 583.0,334.6 583.0,335.9 583.1,336.4 583.2,336.3 583.3,336.9 583.3,336.4 583.4,336.5 583.5,336.4 583.6,337.6 583.6,335.6 583.7,341.0 583.8,367.0 583.9,392.3 583.9,406.6 584.0,406.6 584.1,406.6 584.2,406.6 584.2,406.6 584.3,406.6 584.4,406.6 584.5,406.6 584.5,406.6 584.6,406.6 584.7,406.6 584.8,406.6 584.8,406.6 584.9,406.6 585.0,406.6 585.0,406.6 585.1,406.6 585.2,406.6 585.3,406.6 585.3,406.6 585.4,406.6 585.5,406.6 585.6,406.6 585.6,406.6 585.7,406.6 585.8,406.6 585.9,406.6 585.9,406.6 586.0,406.6 586.1,406.6 586.2,406.6 586.2,406.6 586.3,406.6 586.4,406.6 586.5,406.6 586.5,406.6 586.6,406.6 586.7,406.6 586.8,406.6 586.8,406.6 586.9,406.6 587.0,406.6 587.1,406.6 587.1,406.6 587.2,406.6 587.3,406.6 587.3,406.6 587.4,406.6 587.5,406.6 587.6,406.6 587.6,406.6 587.7,406.6 587.8,406.6 587.9,406.6 587.9,406.6 588.0,406.6 588.1,406.6 588.2,406.6 588.2,406.6 588.3,400.6 588.4,371.7 588.5,342.8 588.5,328.6 588.6,327.0 588.7,328.4 588.8,327.5 588.8,328.8 588.9,329.8 589.0,361.0 589.1,389.4 589.1,406.6 589.2,406.6 589.3,406.6 589.4,406.6 589.4,406.6 589.5,406.6 589.6,406.6 589.7,406.6 589.7,406.6 589.8,406.6 589.9,406.6 589.9,406.6 590.0,406.6 590.1,406.6 590.2,406.6 590.2,406.6 590.3,406.6 590.4,406.6 590.5,406.6 590.5,406.6 590.6,406.6 590.7,406.6 590.8,406.6 590.8,406.6 590.9,406.6 591.0,406.6 591.1,406.6 591.1,406.6 591.2,406.6 591.3,406.6 591.4,406.6 591.4,406.6 591.5,406.6 591.6,406.6 591.7,406.6 591.7,406.6 591.8,406.6 591.9,406.6 592.0,406.6 592.0,406.6 592.1,406.6 592.2,406.6 592.2,406.6 592.3,406.6 592.4,406.6 592.5,406.6 592.5,406.6 592.6,406.6 592.7,406.6 592.8,406.6 592.8,406.6 592.9,406.6 593.0,406.6 593.1,406.6 593.1,406.6 593.2,406.6 593.3,406.6 593.4,406.6 593.4,406.6 593.5,406.6 593.6,406.6 593.7,406.6 593.7,406.6 593.8,406.6 593.9,406.6 594.0,379.5 594.0,343.3 594.1,311.0 594.2,308.6 594.3,308.7 594.3,307.3 594.4,307.3 594.5,306.6 594.5,306.3 594.6,305.9 594.7,305.7 594.8,304.9 594.8,306.5 594.9,304.3 595.0,304.2 595.1,304.6 595.1,303.8 595.2,304.0 595.3,302.9 595.4,301.3 595.4,301.1 595.5,299.6 595.6,300.6 595.7,300.1 595.7,298.2 595.8,297.1 595.9,297.9 596.0,297.2 596.0,297.3 596.1,296.2 596.2,293.9 596.3,293.0 596.3,293.5 596.4,292.0 596.5,292.8 596.6,291.1 596.6,289.8 596.7,290.4 596.8,288.3 596.8,286.6 596.9,286.6 597.0,284.8 597.1,282.5 597.1,281.9 597.2,280.7 597.3,279.2 597.4,276.2 597.4,275.6 597.5,273.9 597.6,272.2 597.7,271.5 597.7,270.5 597.8,271.9 597.9,273.7 598.0,273.6 598.0,274.5 598.1,281.8 598.2,329.9 598.3,380.8 598.3,406.6 598.4,406.6 598.5,406.6 598.6,406.6 598.6,406.6 598.7,403.8 598.8,358.4 598.9,312.2 598.9,283.5 599.0,285.6 599.1,285.7 599.1,285.1 599.2,287.7 599.3,287.6 599.4,330.3 599.4,375.7 599.5,406.6 599.6,406.6 599.7,406.6 599.7,406.6 599.8,406.6 599.9,406.6 600.0,406.6 600.0,406.6 600.1,406.6 600.2,406.6 600.3,406.6 600.3,406.6 600.4,406.6 600.5,406.6 600.6,406.6 600.6,406.6 600.7,406.6 600.8,406.6 600.9,406.6 600.9,406.6 601.0,406.6 601.1,406.6 601.2,375.8 601.2,336.8 601.3,295.4 601.4,297.8 601.5,298.3 601.5,298.5 601.6,299.9 601.7,299.3 601.7,325.1 601.8,365.0 601.9,403.4 602.0,406.6 602.0,406.6 602.1,406.6 602.2,406.6 602.3,406.6 602.3,406.6 602.4,406.6 602.5,406.6 602.6,406.6 602.6,406.6 602.7,406.6 602.8,406.6 602.9,406.6 602.9,406.6 603.0,406.6 603.1,406.6 603.2,406.6 603.2,406.6 603.3,406.6 603.4,406.6 603.5,406.6 603.5,406.6 603.6,406.6 603.7,406.6 603.8,406.6 603.8,406.6 603.9,406.6 604.0,363.4 604.0,318.7 604.1,287.5 604.2,287.8 604.3,288.6 604.3,291.3 604.4,291.7 604.5,292.1 604.6,331.5 604.6,373.2 604.7,406.6 604.8,406.6 604.9,406.6 604.9,406.6 605.0,406.6 605.1,406.6 605.2,376.4 605.2,336.6 605.3,304.9 605.4,305.7 605.5,306.3 605.5,306.2 605.6,307.8 605.7,307.5 605.8,334.8 605.8,371.9 605.9,406.6 606.0,406.6 606.1,406.6 606.1,406.6 606.2,406.6 606.3,406.6 606.3,387.4 606.4,356.3 606.5,326.8 606.6,326.3 606.6,329.5 606.7,332.5 606.8,335.0 606.9,339.3 606.9,343.3 607.0,347.7 607.1,347.9 607.2,344.5 607.2,352.1 607.3,351.1 607.4,348.8 607.5,352.9 607.5,351.8 607.6,347.1 607.7,351.3 607.8,351.0 607.8,352.8 607.9,357.6 608.0,351.9 608.1,351.1 608.1,351.4 608.2,357.4 608.3,356.5 608.4,354.5 608.4,354.5 608.5,355.2 608.6,360.5 608.6,360.2 608.7,357.9 608.8,357.2 608.9,353.5 608.9,357.8 609.0,355.7 609.1,357.8 609.2,350.7 609.2,352.1 609.3,351.1 609.4,356.1 609.5,355.8 609.5,357.5 609.6,363.6 609.7,359.0 609.8,358.2 609.8,358.4 609.9,357.8 610.0,356.8 610.1,362.0 610.1,355.1 610.2,357.3 610.3,363.0 610.4,357.2 610.4,358.6 610.5,356.2 610.6,354.1 610.7,354.0 610.7,356.5 610.8,358.2 610.9,352.7 610.9,356.1 611.0,354.8 611.1,354.7 611.2,352.6 611.2,355.6 611.3,351.9 611.4,349.5 611.5,355.6 611.5,351.2 611.6,351.7 611.7,354.7 611.8,355.5 611.8,356.5 611.9,354.7 612.0,352.9 612.1,357.5 612.1,352.5 612.2,360.1 612.3,358.0 612.4,358.9 612.4,353.7 612.5,361.2 612.6,355.7 612.7,357.4 612.7,358.0 612.8,357.1 612.9,360.4 613.0,357.1 613.0,354.4 613.1,355.7 613.2,354.9 613.3,355.9 613.3,358.1 613.4,358.5 613.5,364.1 613.5,366.7 613.6,365.9 613.7,367.5 613.8,368.1 613.8,362.5 613.9,366.2 614.0,366.2 614.1,371.7 614.1,374.3 614.2,376.8 614.3,370.5 614.4,373.7 614.4,375.6 614.5,377.7 614.6,376.1 614.7,370.0 614.7,368.0 614.8,373.9 614.9,365.1 615.0,369.3 615.0,372.1 615.1,371.1 615.2,373.0 615.3,373.4 615.3,366.5 615.4,367.0 615.5,366.7 615.6,372.0 615.6,369.3 615.7,372.9 615.8,371.7 615.8,367.3 615.9,367.4 616.0,367.7 616.1,369.1 616.1,370.3 616.2,369.0 616.3,369.7 616.4,367.1 616.4,367.2 616.5,365.0 616.6,364.8 616.7,366.8 616.7,370.4 616.8,371.5 616.9,366.2 617.0,362.9 617.0,366.3 617.1,367.2 617.2,363.6 617.3,366.1 617.3,370.0 617.4,369.5 617.5,367.0 617.6,367.2 617.6,373.4 617.7,368.4 617.8,371.4 617.9,374.5 617.9,370.2 618.0,366.2 618.1,363.2 618.1,366.8 618.2,364.0 618.3,369.6 618.4,364.0 618.4,369.3 618.5,367.0 618.6,368.7 618.7,371.8 618.7,371.6 618.8,367.7 618.9,371.9 619.0,367.5 619.0,368.4 619.1,364.1 619.2,360.8 619.3,364.1 619.3,357.4 619.4,360.0 619.5,360.1 619.6,352.4 619.6,355.6 619.7,351.9 619.8,348.1 619.9,349.8 619.9,348.4 620.0,346.0 620.1,341.6 620.2,343.7 620.2,340.1 620.3,344.8 620.4,344.1 620.4,338.1 620.5,339.2 620.6,340.7 620.7,339.0 620.7,341.3 620.8,336.2 620.9,337.5 621.0,333.8 621.0,335.6 621.1,326.9 621.2,334.9 621.3,334.3 621.3,333.7 621.4,333.5 621.5,337.6 621.6,337.5 621.6,337.1 621.7,340.2 621.8,341.9 621.9,343.0 621.9,346.4 622.0,339.3 622.1,335.3 622.2,341.0 622.2,335.9 622.3,341.0 622.4,336.7 622.5,344.6 622.5,344.2 622.6,341.6 622.7,341.0 622.8,342.9 622.8,342.2 622.9,348.2 623.0,341.4 623.0,343.6 623.1,339.6 623.2,343.3 623.3,341.0 623.3,344.6 623.4,341.9 623.5,346.8 623.6,345.0 623.6,348.2 623.7,345.9 623.8,344.2 623.9,348.5 623.9,351.3 624.0,345.8 624.1,340.7 624.2,343.8 624.2,341.2 624.3,342.2 624.4,341.1 624.5,344.8 624.5,346.6 624.6,339.7 624.7,339.5 624.8,339.2 624.8,340.1 624.9,342.3 625.0,345.5 625.1,347.6 625.1,349.6 625.2,350.9 625.3,351.9 625.3,351.9 625.4,357.7 625.5,359.9 625.6,362.6 625.6,366.6 625.7,366.0 625.8,369.8 625.9,366.0 625.9,374.6 626.0,374.2 626.1,376.9 626.2,378.3 626.2,377.4 626.3,383.4 626.4,385.6 626.5,388.5 626.5,380.7 626.6,380.9 626.7,387.1 626.8,383.4 626.8,389.3 626.9,388.0 627.0,385.9 627.1,388.8 627.1,386.2 627.2,386.0 627.3,393.2 627.4,390.3 627.4,387.7 627.5,384.3 627.6,385.3 627.6,391.0 627.7,384.1 627.8,385.9 627.9,386.1 627.9,385.5 628.0,382.3 628.1,386.0 628.2,380.8 628.2,384.1 628.3,381.4 628.4,376.0 628.5,375.5 628.5,382.0 628.6,381.1 628.7,375.5 628.8,380.7 628.8,380.6 628.9,372.7 629.0,380.0 629.1,371.5 629.1,372.6 629.2,372.8 629.3,372.4 629.4,374.1 629.4,368.7 629.5,370.7 629.6,373.1 629.7,371.3 629.7,372.2 629.8,367.2 629.9,375.3 629.9,370.9 630.0,376.3 630.1,376.1 630.2,372.0 630.2,373.8 630.3,370.9 630.4,377.7 630.5,374.9 630.5,376.8 630.6,372.3 630.7,376.1 630.8,368.4 630.8,373.6 630.9,372.2 631.0,373.1 631.1,373.1 631.1,367.9 631.2,367.0 631.3,369.5 631.4,368.9 631.4,372.3 631.5,375.5 631.6,375.2 631.7,373.5 631.7,374.3 631.8,374.5 631.9,370.3 632.0,374.2 632.0,369.6 632.1,369.4 632.2,366.8 632.2,364.0 632.3,365.7 632.4,366.4 632.5,369.1 632.5,372.5 632.6,366.7 632.7,368.4 632.8,370.8 632.8,368.1 632.9,367.7 633.0,363.2 633.1,365.2 633.1,365.8 633.2,359.0 633.3,361.5 633.4,363.5 633.4,367.0 633.5,368.0 633.6,364.3 633.7,366.5 633.7,359.9 633.8,363.8 633.9,362.9 634.0,361.4 634.0,363.3 634.1,364.9 634.2,361.7 634.3,362.5 634.3,359.0 634.4,364.8 634.5,366.4 634.6,358.0 634.6,366.3 634.7,363.1 634.8,356.9 634.8,357.3 634.9,355.5 635.0,357.3 635.1,360.7 635.1,361.5 635.2,354.3 635.3,355.8 635.4,362.8 635.4,356.4 635.5,355.5 635.6,364.3 635.7,361.3 635.7,366.1 635.8,364.6 635.9,366.1 636.0,363.6 636.0,367.4 636.1,365.6 636.2,369.1 636.3,370.4 636.3,362.6 636.4,368.0 636.5,363.1 636.6,365.4 636.6,368.0 636.7,365.8 636.8,371.6 636.9,364.5 636.9,364.4 637.0,367.9 637.1,363.9 637.1,366.5 637.2,363.7 637.3,358.2 637.4,360.8 637.4,360.2 637.5,365.9 637.6,369.0 637.7,369.2 637.7,365.9 637.8,366.3 637.9,368.0 638.0,371.8 638.0,369.9 638.1,376.9 638.2,377.0 638.3,373.3 638.3,377.0 638.4,382.9 638.5,383.9 638.6,381.8 638.6,381.2 638.7,388.6 638.8,381.8 638.9,377.5 638.9,379.3 639.0,377.9 639.1,380.9 639.2,378.2 639.2,382.0 639.3,379.6 639.4,381.5 639.4,382.5 639.5,383.6 639.6,382.2 639.7,387.7 639.7,383.8 639.8,383.2 639.9,387.2 640.0,384.6 640.0,382.3 640.1,388.9 640.2,386.3 640.3,390.2 640.3,384.1 640.4,387.4 640.5,380.9 640.6,383.8 640.6,382.8 640.7,385.1 640.8,381.7 640.9,386.8 640.9,382.1 641.0,386.0 641.1,382.3 641.2,384.2 641.2,380.6 641.3,385.5 641.4,386.4 641.5,380.5 641.5,381.4 641.6,383.3 641.7,387.1 641.7,392.0 641.8,392.0 641.9,387.7 642.0,388.0 642.0,390.2 642.1,390.5 642.2,388.9 642.3,393.5 642.3,393.8 642.4,392.4 642.5,385.2 642.6,393.7 642.6,390.0 642.7,394.4 642.8,388.5 642.9,389.7 642.9,385.9 643.0,390.0 643.1,381.8 643.2,377.7 643.2,373.4 643.3,369.9 643.4,370.0 643.5,375.9 643.5,367.1 643.6,367.7 643.7,362.7 643.8,359.4 643.8,365.1 643.9,363.3 644.0,359.4 644.1,356.6 644.1,350.2 644.2,352.2 644.3,345.4 644.3,345.7 644.4,351.7 644.5,347.5 644.6,348.3 644.6,354.8 644.7,355.3 644.8,355.7 644.9,352.7 644.9,354.9 645.0,355.7 645.1,362.6 645.2,359.9 645.2,362.3 645.3,367.7 645.4,366.5 645.5,369.8 645.5,361.8 645.6,366.9 645.7,368.2 645.8,370.3 645.8,373.5 645.9,376.5 646.0,378.0 646.1,381.1 646.1,384.1 646.2,381.7 646.3,378.6 646.4,383.3 646.4,376.7 646.5,381.9 646.6,379.7 646.6,384.9 646.7,381.8 646.8,378.9 646.9,378.2 646.9,384.0 647.0,376.5 647.1,375.9 647.2,383.9 647.2,379.2 647.3,385.8 647.4,379.9 647.5,376.2 647.5,383.5 647.6,378.4 647.7,384.8 647.8,380.6 647.8,384.3 647.9,382.3 648.0,380.7 648.1,386.6 648.1,385.2 648.2,386.9 648.3,383.6 648.4,387.0 648.4,386.6 648.5,378.5 648.6,378.7 648.7,383.2 648.7,379.3 648.8,379.8 648.9,385.5 648.9,386.0 649.0,388.1 649.1,384.7 649.2,391.4 649.2,388.9 649.3,389.6 649.4,387.7 649.5,387.8 649.5,392.3 649.6,387.3 649.7,384.6 649.8,385.6 649.8,386.7 649.9,392.1 650.0,384.6 650.1,383.7 650.1,389.5 650.2,384.9 650.3,385.8 650.4,384.5 650.4,388.3 650.5,381.7 650.6,380.1 650.7,385.8 650.7,378.9 650.8,378.3 650.9,377.8 651.0,376.6 651.0,378.5 651.1,375.8 651.2,376.3 651.2,377.4 651.3,379.9 651.4,382.5 651.5,380.8 651.5,381.5 651.6,380.5 651.7,382.4 651.8,377.5 651.8,380.9 651.9,383.4 652.0,378.5 652.1,378.3 652.1,382.4 652.2,378.0 652.3,378.8 652.4,368.8 652.4,375.3 652.5,375.3 652.6,379.5 652.7,380.7 652.7,374.7 652.8,373.7 652.9,371.8 653.0,374.0 653.0,372.7 653.1,374.1 653.2,376.0 653.3,377.1 653.3,375.1 653.4,379.9 653.5,377.7 653.5,378.3 653.6,377.4 653.7,372.8 653.8,374.3 653.8,374.6 653.9,376.9 654.0,379.8 654.1,373.3 654.1,380.8 654.2,378.9 654.3,377.1 654.4,371.0 654.4,375.0 654.5,370.3 654.6,375.2 654.7,374.1 654.7,373.8 654.8,372.0 654.9,374.5 655.0,378.2 655.0,374.1 655.1,380.2 655.2,375.1 655.3,374.8 655.3,378.3 655.4,371.6 655.5,372.7 655.6,368.4 655.6,375.1 655.7,371.2 655.8,368.4 655.9,370.7 655.9,370.0 656.0,370.4 656.1,372.8 656.1,374.9 656.2,373.2 656.3,374.2 656.4,373.5 656.4,376.1 656.5,376.8 656.6,385.3 656.7,386.0 656.7,384.8 656.8,383.9 656.9,386.2 657.0,385.8 657.0,391.8 657.1,386.8 657.2,385.3 657.3,389.4 657.3,392.7 657.4,390.3 657.5,391.2 657.6,389.7 657.6,392.3 657.7,387.4 657.8,390.1 657.9,380.1 657.9,386.4 658.0,380.3 658.1,382.3 658.2,380.2 658.2,380.0 658.3,380.0 658.4,380.4 658.4,374.9 658.5,374.5 658.6,381.0 658.7,380.9 658.7,375.3 658.8,376.4 658.9,376.2 659.0,381.2 659.0,377.4 659.1,378.8 659.2,375.6 659.3,380.3 659.3,378.2 659.4,379.0 659.5,379.7 659.6,378.2 659.6,375.5 659.7,374.3 659.8,379.5 659.9,377.8 659.9,375.1 660.0,379.9 660.1,376.5 660.2,374.8 660.2,374.0 660.3,371.4 660.4,382.0 660.5,377.7 660.5,384.1 660.6,384.5 660.7,382.3 660.7,383.4 660.8,381.0 660.9,383.9 661.0,384.7 661.0,386.7 661.1,386.5 661.2,387.6 661.3,386.7 661.3,384.7 661.4,391.7 661.5,381.5 661.6,388.8 661.6,385.1 661.7,387.9 661.8,388.7 661.9,382.4 661.9,383.8 662.0,386.8 662.1,385.9 662.2,385.1 662.2,388.4 662.3,393.3 662.4,392.6 662.5,387.6 662.5,391.2 662.6,390.4 662.7,383.6 662.8,384.6 662.8,389.1 662.9,384.9 663.0,387.2 663.0,383.8 663.1,385.9 663.2,389.1 663.3,385.4 663.3,392.3 663.4,386.1 663.5,385.6 663.6,381.8 663.6,383.1 663.7,379.6 663.8,381.7 663.9,376.4 663.9,373.8 664.0,378.1 664.1,376.3 664.2,380.4 664.2,375.7 664.3,377.3 664.4,374.7 664.5,380.5 664.5,381.7 664.6,380.1 664.7,375.6 664.8,379.7 664.8,377.3 664.9,368.0 665.0,370.6 665.1,367.6 665.1,367.0 665.2,367.5 665.3,361.6 665.3,363.6 665.4,360.4 665.5,361.7 665.6,357.1 665.6,358.5 665.7,353.3 665.8,357.2 665.9,348.9 665.9,351.5 666.0,349.5 666.1,345.8 666.2,345.6 666.2,337.7 666.3,335.1 666.4,331.0 666.5,337.8 666.5,334.8 666.6,328.0 666.7,329.0 666.8,331.0 666.8,326.7 666.9,333.7 667.0,329.3 667.1,330.1 667.1,330.3 667.2,334.0 667.3,334.1 667.4,340.5 667.4,337.9 667.5,343.9 667.6,340.0 667.7,343.3 667.7,346.5 667.8,347.6 667.9,351.6 667.9,345.2 668.0,352.1 668.1,349.8 668.2,351.6 668.2,360.3 668.3,361.4 668.4,356.5 668.5,354.0 668.5,359.6 668.6,353.6 668.7,355.7 668.8,359.4 668.8,357.1 668.9,356.6 669.0,364.2 669.1,359.2 669.1,357.9 669.2,359.1 669.3,363.5 669.4,356.8 669.4,357.2 669.5,360.2 669.6,358.2 669.7,353.4 669.7,359.7 669.8,355.3 669.9,359.2 670.0,354.3 670.0,350.0 670.1,354.5 670.2,349.7 670.2,347.5 670.3,342.6 670.4,344.3 670.5,332.9 670.5,329.3 670.6,329.4 670.7,327.1 670.8,329.2 670.8,330.1 670.9,330.8 671.0,336.1 671.1,339.1 671.1,349.0 671.2,346.5 671.3,349.9 671.4,354.2 671.4,354.7 671.5,362.9 671.6,365.2 671.7,365.6 671.7,369.4 671.8,368.4 671.9,374.9 672.0,378.4 672.0,373.4 672.1,368.2 672.2,369.4 672.3,369.5 672.3,365.9 672.4,369.7 672.5,370.1 672.5,371.1 672.6,372.0 672.7,373.9 672.8,372.3 672.8,376.2 672.9,373.8 673.0,374.0 673.1,380.0 673.1,380.7 673.2,380.7 673.3,376.8 673.4,377.9 673.4,379.7 673.5,376.0 673.6,376.2 673.7,379.3 673.7,382.1 673.8,383.1 673.9,384.0 674.0,383.0 674.0,387.1 674.1,392.3 674.2,385.3 674.3,391.8 674.3,388.8 674.4,391.2 674.5,393.6 674.6,388.9 674.6,388.8 674.7,383.1 674.8,385.1 674.8,387.6 674.9,387.0 675.0,388.2 675.1,386.8 675.1,390.5 675.2,390.4 675.3,383.1 675.4,382.4 675.4,383.7 675.5,388.8 675.6,390.7 675.7,383.0 675.7,382.7 675.8,388.0 675.9,384.0 676.0,387.2 676.0,387.8 676.1,388.1 676.2,388.3 676.3,379.4 676.3,384.7 676.4,382.8 676.5,382.8 676.6,376.9 676.6,375.2 676.7,378.8 676.8,376.7 676.9,384.2 676.9,386.5 677.0,381.5 677.1,387.1 677.2,382.8 677.2,381.8 677.3,387.7 677.4,380.1 677.4,380.4 677.5,379.8 677.6,380.3 677.7,383.5 677.7,380.3 677.8,379.8 677.9,381.1 678.0,382.0 678.0,387.0 678.1,380.2 678.2,384.4 678.3,382.7 678.3,385.8 678.4,383.1 678.5,385.8 678.6,390.2 678.6,386.5 678.7,383.5 678.8,382.6 678.9,384.5 678.9,382.0 679.0,390.4 679.1,388.0 679.2,382.0 679.2,387.8 679.3,385.9 679.4,384.0 679.5,384.5 679.5,383.3 679.6,385.9 679.7,387.9 679.7,386.4 679.8,385.0 679.9,390.8 680.0,382.8 680.0,384.2 680.1,380.7 680.2,380.5 680.3,389.3 680.3,388.0 680.4,381.0 680.5,386.9 680.6,381.5 680.6,385.0 680.7,386.1 680.8,387.5 680.9,392.0 680.9,386.7 681.0,389.4 681.1,392.8 681.2,387.4 681.2,389.4 681.3,390.5 681.4,388.6 681.5,383.4 681.5,382.8 681.6,389.0 681.7,384.9 681.8,387.5 681.8,390.6 681.9,390.0" fill="none" stroke="#0000ff" stroke-width="1.3" stroke-dasharray="1.1 0.8" stroke-linejoin="bevel" opacity="1"/>
<rect x="51.50" y="17.60" width="164.30" height="164.40" fill="none" stroke="#262626" stroke-width="1.3"/>
<line x1="51.50" y1="182.00" x2="51.50" y2="177.50" stroke="#262626" stroke-width="1.1"/>
<line x1="51.50" y1="17.60" x2="51.50" y2="22.10" stroke="#262626" stroke-width="1.1"/>
<line x1="91.57" y1="182.00" x2="91.57" y2="177.50" stroke="#262626" stroke-width="1.1"/>
<line x1="91.57" y1="17.60" x2="91.57" y2="22.10" stroke="#262626" stroke-width="1.1"/>
<line x1="131.65" y1="182.00" x2="131.65" y2="177.50" stroke="#262626" stroke-width="1.1"/>
<line x1="131.65" y1="17.60" x2="131.65" y2="22.10" stroke="#262626" stroke-width="1.1"/>
<line x1="171.72" y1="182.00" x2="171.72" y2="177.50" stroke="#262626" stroke-width="1.1"/>
<line x1="171.72" y1="17.60" x2="171.72" y2="22.10" stroke="#262626" stroke-width="1.1"/>
<line x1="211.79" y1="182.00" x2="211.79" y2="177.50" stroke="#262626" stroke-width="1.1"/>
<line x1="211.79" y1="17.60" x2="211.79" y2="22.10" stroke="#262626" stroke-width="1.1"/>
<line x1="51.50" y1="182.00" x2="56.00" y2="182.00" stroke="#262626" stroke-width="1.1"/>
<line x1="215.80" y1="182.00" x2="211.30" y2="182.00" stroke="#262626" stroke-width="1.1"/>
<line x1="51.50" y1="135.03" x2="56.00" y2="135.03" stroke="#262626" stroke-width="1.1"/>
<line x1="215.80" y1="135.03" x2="211.30" y2="135.03" stroke="#262626" stroke-width="1.1"/>
<line x1="51.50" y1="88.06" x2="56.00" y2="88.06" stroke="#262626" stroke-width="1.1"/>
<line x1="215.80" y1="88.06" x2="211.30" y2="88.06" stroke="#262626" stroke-width="1.1"/>
<line x1="51.50" y1="41.09" x2="56.00" y2="41.09" stroke="#262626" stroke-width="1.1"/>
<line x1="215.80" y1="41.09" x2="211.30" y2="41.09" stroke="#262626" stroke-width="1.1"/>
<rect x="284.50" y="16.30" width="164.50" height="164.00" fill="none" stroke="#262626" stroke-width="1.3"/>
<line x1="284.50" y1="180.30" x2="284.50" y2="175.80" stroke="#262626" stroke-width="1.1"/>
<line x1="284.50" y1="16.30" x2="284.50" y2="20.80" stroke="#262626" stroke-width="1.1"/>
<line x1="324.62" y1="180.30" x2="324.62" y2="175.80" stroke="#262626" stroke-width="1.1"/>
<line x1="324.62" y1="16.30" x2="324.62" y2="20.80" stroke="#262626" stroke-width="1.1"/>
<line x1="364.74" y1="180.30" x2="364.74" y2="175.80" stroke="#262626" stroke-width="1.1"/>
<line x1="364.74" y1="16.30" x2="364.74" y2="20.80" stroke="#262626" stroke-width="1.1"/>
<line x1="404.87" y1="180.30" x2="404.87" y2="175.80" stroke="#262626" stroke-width="1.1"/>
<line x1="404.87" y1="16.30" x2="404.87" y2="20.80" stroke="#262626" stroke-width="1.1"/>
<line x1="444.99" y1="180.30" x2="444.99" y2="175.80" stroke="#262626" stroke-width="1.1"/>
<line x1="444.99" y1="16.30" x2="444.99" y2="20.80" stroke="#262626" stroke-width="1.1"/>
<line x1="284.50" y1="180.30" x2="289.00" y2="180.30" stroke="#262626" stroke-width="1.1"/>
<line x1="449.00" y1="180.30" x2="444.50" y2="180.30" stroke="#262626" stroke-width="1.1"/>
<line x1="284.50" y1="133.44" x2="289.00" y2="133.44" stroke="#262626" stroke-width="1.1"/>
<line x1="449.00" y1="133.44" x2="444.50" y2="133.44" stroke="#262626" stroke-width="1.1"/>
<line x1="284.50" y1="86.59" x2="289.00" y2="86.59" stroke="#262626" stroke-width="1.1"/>
<line x1="449.00" y1="86.59" x2="444.50" y2="86.59" stroke="#262626" stroke-width="1.1"/>
<line x1="284.50" y1="39.73" x2="289.00" y2="39.73" stroke="#262626" stroke-width="1.1"/>
<line x1="449.00" y1="39.73" x2="444.50" y2="39.73" stroke="#262626" stroke-width="1.1"/>
<rect x="517.60" y="15.50" width="164.20" height="163.90" fill="none" stroke="#262626" stroke-width="1.3"/>
<line x1="517.60" y1="179.40" x2="517.60" y2="174.90" stroke="#262626" stroke-width="1.1"/>
<line x1="517.60" y1="15.50" x2="517.60" y2="20.00" stroke="#262626" stroke-width="1.1"/>
<line x1="557.65" y1="179.40" x2="557.65" y2="174.90" stroke="#262626" stroke-width="1.1"/>
<line x1="557.65" y1="15.50" x2="557.65" y2="20.00" stroke="#262626" stroke-width="1.1"/>
<line x1="597.70" y1="179.40" x2="597.70" y2="174.90" stroke="#262626" stroke-width="1.1"/>
<line x1="597.70" y1="15.50" x2="597.70" y2="20.00" stroke="#262626" stroke-width="1.1"/>
<line x1="637.75" y1="179.40" x2="637.75" y2="174.90" stroke="#262626" stroke-width="1.1"/>
<line x1="637.75" y1="15.50" x2="637.75" y2="20.00" stroke="#262626" stroke-width="1.1"/>
<line x1="677.80" y1="179.40" x2="677.80" y2="174.90" stroke="#262626" stroke-width="1.1"/>
<line x1="677.80" y1="15.50" x2="677.80" y2="20.00" stroke="#262626" stroke-width="1.1"/>
<line x1="517.60" y1="179.40" x2="522.10" y2="179.40" stroke="#262626" stroke-width="1.1"/>
<line x1="681.80" y1="179.40" x2="677.30" y2="179.40" stroke="#262626" stroke-width="1.1"/>
<line x1="517.60" y1="138.43" x2="522.10" y2="138.43" stroke="#262626" stroke-width="1.1"/>
<line x1="681.80" y1="138.43" x2="677.30" y2="138.43" stroke="#262626" stroke-width="1.1"/>
<line x1="517.60" y1="97.45" x2="522.10" y2="97.45" stroke="#262626" stroke-width="1.1"/>
<line x1="681.80" y1="97.45" x2="677.30" y2="97.45" stroke="#262626" stroke-width="1.1"/>
<line x1="517.60" y1="56.48" x2="522.10" y2="56.48" stroke="#262626" stroke-width="1.1"/>
<line x1="681.80" y1="56.48" x2="677.30" y2="56.48" stroke="#262626" stroke-width="1.1"/>
<line x1="517.60" y1="15.50" x2="522.10" y2="15.50" stroke="#262626" stroke-width="1.1"/>
<line x1="681.80" y1="15.50" x2="677.30" y2="15.50" stroke="#262626" stroke-width="1.1"/>
<rect x="52.30" y="241.70" width="164.10" height="163.80" fill="none" stroke="#333" stroke-width="1.15"/>
<line x1="52.30" y1="405.50" x2="52.30" y2="404.30" stroke="#333" stroke-width="1.0"/>
<line x1="52.30" y1="241.70" x2="52.30" y2="242.90" stroke="#333" stroke-width="1.0"/>
<line x1="92.32" y1="405.50" x2="92.32" y2="404.30" stroke="#333" stroke-width="1.0"/>
<line x1="92.32" y1="241.70" x2="92.32" y2="242.90" stroke="#333" stroke-width="1.0"/>
<line x1="132.35" y1="405.50" x2="132.35" y2="404.30" stroke="#333" stroke-width="1.0"/>
<line x1="132.35" y1="241.70" x2="132.35" y2="242.90" stroke="#333" stroke-width="1.0"/>
<line x1="172.37" y1="405.50" x2="172.37" y2="404.30" stroke="#333" stroke-width="1.0"/>
<line x1="172.37" y1="241.70" x2="172.37" y2="242.90" stroke="#333" stroke-width="1.0"/>
<line x1="212.40" y1="405.50" x2="212.40" y2="404.30" stroke="#333" stroke-width="1.0"/>
<line x1="212.40" y1="241.70" x2="212.40" y2="242.90" stroke="#333" stroke-width="1.0"/>
<line x1="52.30" y1="405.50" x2="53.50" y2="405.50" stroke="#333" stroke-width="1.0"/>
<line x1="216.40" y1="405.50" x2="215.20" y2="405.50" stroke="#333" stroke-width="1.0"/>
<line x1="52.30" y1="323.60" x2="53.50" y2="323.60" stroke="#333" stroke-width="1.0"/>
<line x1="216.40" y1="323.60" x2="215.20" y2="323.60" stroke="#333" stroke-width="1.0"/>
<line x1="52.30" y1="241.70" x2="53.50" y2="241.70" stroke="#333" stroke-width="1.0"/>
<line x1="216.40" y1="241.70" x2="215.20" y2="241.70" stroke="#333" stroke-width="1.0"/>
<rect x="285.50" y="242.40" width="163.90" height="164.00" fill="none" stroke="#333" stroke-width="1.15"/>
<line x1="285.50" y1="406.40" x2="285.50" y2="402.10" stroke="#333" stroke-width="1.0"/>
<line x1="285.50" y1="242.40" x2="285.50" y2="246.70" stroke="#333" stroke-width="1.0"/>
<line x1="325.48" y1="406.40" x2="325.48" y2="402.10" stroke="#333" stroke-width="1.0"/>
<line x1="325.48" y1="242.40" x2="325.48" y2="246.70" stroke="#333" stroke-width="1.0"/>
<line x1="365.45" y1="406.40" x2="365.45" y2="402.10" stroke="#333" stroke-width="1.0"/>
<line x1="365.45" y1="242.40" x2="365.45" y2="246.70" stroke="#333" stroke-width="1.0"/>
<line x1="405.43" y1="406.40" x2="405.43" y2="402.10" stroke="#333" stroke-width="1.0"/>
<line x1="405.43" y1="242.40" x2="405.43" y2="246.70" stroke="#333" stroke-width="1.0"/>
<line x1="445.40" y1="406.40" x2="445.40" y2="402.10" stroke="#333" stroke-width="1.0"/>
<line x1="445.40" y1="242.40" x2="445.40" y2="246.70" stroke="#333" stroke-width="1.0"/>
<line x1="285.50" y1="406.40" x2="289.80" y2="406.40" stroke="#333" stroke-width="1.0"/>
<line x1="449.40" y1="406.40" x2="445.10" y2="406.40" stroke="#333" stroke-width="1.0"/>
<line x1="285.50" y1="324.40" x2="289.80" y2="324.40" stroke="#333" stroke-width="1.0"/>
<line x1="449.40" y1="324.40" x2="445.10" y2="324.40" stroke="#333" stroke-width="1.0"/>
<line x1="285.50" y1="242.40" x2="289.80" y2="242.40" stroke="#333" stroke-width="1.0"/>
<line x1="449.40" y1="242.40" x2="445.10" y2="242.40" stroke="#333" stroke-width="1.0"/>
<text x="51.50" y="196.55" font-size="12" font-family="Liberation Sans, sans-serif" font-weight="bold" text-anchor="middle">0</text>
<text x="91.57" y="196.55" font-size="12" font-family="Liberation Sans, sans-serif" font-weight="bold" text-anchor="middle">1</text>
<text x="131.65" y="196.55" font-size="12" font-family="Liberation Sans, sans-serif" font-weight="bold" text-anchor="middle">2</text>
<text x="171.72" y="196.55" font-size="12" font-family="Liberation Sans, sans-serif" font-weight="bold" text-anchor="middle">3</text>
<text x="211.79" y="196.55" font-size="12" font-family="Liberation Sans, sans-serif" font-weight="bold" text-anchor="middle">4</text>
<text x="48.00" y="186.30" font-size="12" font-family="Liberation Sans, sans-serif" font-weight="bold" text-anchor="end">0</text>
<text x="48.00" y="139.32" font-size="12" font-family="Liberation Sans, sans-serif" font-weight="bold" text-anchor="end">20</text>
<text x="48.00" y="92.35" font-size="12" font-family="Liberation Sans, sans-serif" font-weight="bold" text-anchor="end">40</text>
<text x="48.00" y="45.38" font-size="12" font-family="Liberation Sans, sans-serif" font-weight="bold" text-anchor="end">60</text>
<text x="132.20" y="205.70" font-size="13.6" font-family="Liberation Sans, sans-serif" font-weight="bold" text-anchor="middle">Time (ps)</text>
<text transform="translate(30.10,94.10) rotate(-90)" x="0" y="0" font-size="13.6" font-family="Liberation Sans, sans-serif" font-weight="bold" text-anchor="middle">Number of H-S bond</text>
<text transform="translate(1.20,15.00) scale(0.93,1)" font-size="18.6" font-family="Liberation Sans, sans-serif" font-weight="bold">(a)</text>
<text x="284.50" y="194.75" font-size="12" font-family="Liberation Sans, sans-serif" font-weight="bold" text-anchor="middle">0</text>
<text x="324.62" y="194.75" font-size="12" font-family="Liberation Sans, sans-serif" font-weight="bold" text-anchor="middle">1</text>
<text x="364.74" y="194.75" font-size="12" font-family="Liberation Sans, sans-serif" font-weight="bold" text-anchor="middle">2</text>
<text x="404.87" y="194.75" font-size="12" font-family="Liberation Sans, sans-serif" font-weight="bold" text-anchor="middle">3</text>
<text x="444.99" y="194.75" font-size="12" font-family="Liberation Sans, sans-serif" font-weight="bold" text-anchor="middle">4</text>
<text x="281.00" y="184.60" font-size="12" font-family="Liberation Sans, sans-serif" font-weight="bold" text-anchor="end">0</text>
<text x="281.00" y="137.74" font-size="12" font-family="Liberation Sans, sans-serif" font-weight="bold" text-anchor="end">10</text>
<text x="281.00" y="90.88" font-size="12" font-family="Liberation Sans, sans-serif" font-weight="bold" text-anchor="end">20</text>
<text x="281.00" y="44.02" font-size="12" font-family="Liberation Sans, sans-serif" font-weight="bold" text-anchor="end">30</text>
<text x="366.50" y="203.90" font-size="13.6" font-family="Liberation Sans, sans-serif" font-weight="bold" text-anchor="middle">Time (ps)</text>
<text transform="translate(263.00,98.05) rotate(-90)" x="0" y="0" font-size="13.6" font-family="Liberation Sans, sans-serif" font-weight="bold" text-anchor="middle">Number of Mo-O bond</text>
<text transform="translate(234.40,15.00) scale(0.93,1)" font-size="18.6" font-family="Liberation Sans, sans-serif" font-weight="bold">(b)</text>
<text x="517.60" y="194.65" font-size="12" font-family="Liberation Sans, sans-serif" font-weight="bold" text-anchor="middle">0</text>
<text x="557.65" y="194.65" font-size="12" font-family="Liberation Sans, sans-serif" font-weight="bold" text-anchor="middle">1</text>
<text x="597.70" y="194.65" font-size="12" font-family="Liberation Sans, sans-serif" font-weight="bold" text-anchor="middle">2</text>
<text x="637.75" y="194.65" font-size="12" font-family="Liberation Sans, sans-serif" font-weight="bold" text-anchor="middle">3</text>
<text x="677.80" y="194.65" font-size="12" font-family="Liberation Sans, sans-serif" font-weight="bold" text-anchor="middle">4</text>
<text x="514.10" y="183.70" font-size="12" font-family="Liberation Sans, sans-serif" font-weight="bold" text-anchor="end">0</text>
<text x="514.10" y="142.72" font-size="12" font-family="Liberation Sans, sans-serif" font-weight="bold" text-anchor="end">5</text>
<text x="514.10" y="101.75" font-size="12" font-family="Liberation Sans, sans-serif" font-weight="bold" text-anchor="end">10</text>
<text x="514.10" y="60.77" font-size="12" font-family="Liberation Sans, sans-serif" font-weight="bold" text-anchor="end">15</text>
<text x="514.10" y="19.80" font-size="12" font-family="Liberation Sans, sans-serif" font-weight="bold" text-anchor="end">20</text>
<text x="599.00" y="202.50" font-size="13.6" font-family="Liberation Sans, sans-serif" font-weight="bold" text-anchor="middle">Time (ps)</text>
<text transform="translate(495.80,97.25) rotate(-90)" x="0" y="0" font-size="13.6" font-family="Liberation Sans, sans-serif" font-weight="bold" text-anchor="middle">Number of Mo-S bond</text>
<text transform="translate(466.90,15.00) scale(0.93,1)" font-size="18.6" font-family="Liberation Sans, sans-serif" font-weight="bold">(c)</text>
<text x="52.30" y="420.00" font-size="12" font-family="Liberation Sans, sans-serif" font-weight="bold" text-anchor="middle">0</text>
<text x="92.32" y="420.00" font-size="12" font-family="Liberation Sans, sans-serif" font-weight="bold" text-anchor="middle">1</text>
<text x="132.35" y="420.00" font-size="12" font-family="Liberation Sans, sans-serif" font-weight="bold" text-anchor="middle">2</text>
<text x="172.37" y="420.00" font-size="12" font-family="Liberation Sans, sans-serif" font-weight="bold" text-anchor="middle">3</text>
<text x="212.40" y="420.00" font-size="12" font-family="Liberation Sans, sans-serif" font-weight="bold" text-anchor="middle">4</text>
<text x="48.80" y="409.80" font-size="12" font-family="Liberation Sans, sans-serif" font-weight="bold" text-anchor="end">0</text>
<text x="48.80" y="327.90" font-size="12" font-family="Liberation Sans, sans-serif" font-weight="bold" text-anchor="end">1</text>
<text x="48.80" y="246.00" font-size="12" font-family="Liberation Sans, sans-serif" font-weight="bold" text-anchor="end">2</text>
<text x="133.75" y="435.20" font-size="13.6" font-family="Liberation Sans, sans-serif" font-weight="bold" text-anchor="middle">Time (ps)</text>
<text transform="translate(37.35,323.20) rotate(-90)" x="0" y="0" font-size="13.6" font-family="Liberation Sans, sans-serif" font-weight="bold" text-anchor="middle">Relative H-S bond Error Bar</text>
<text transform="translate(0.30,235.40) scale(0.93,1)" font-size="18.6" font-family="Liberation Sans, sans-serif" font-weight="bold">(d)</text>
<text x="285.50" y="420.80" font-size="12" font-family="Liberation Sans, sans-serif" font-weight="bold" text-anchor="middle">0</text>
<text x="325.48" y="420.80" font-size="12" font-family="Liberation Sans, sans-serif" font-weight="bold" text-anchor="middle">1</text>
<text x="365.45" y="420.80" font-size="12" font-family="Liberation Sans, sans-serif" font-weight="bold" text-anchor="middle">2</text>
<text x="405.43" y="420.80" font-size="12" font-family="Liberation Sans, sans-serif" font-weight="bold" text-anchor="middle">3</text>
<text x="445.40" y="420.80" font-size="12" font-family="Liberation Sans, sans-serif" font-weight="bold" text-anchor="middle">4</text>
<text x="282.00" y="410.70" font-size="12" font-family="Liberation Sans, sans-serif" font-weight="bold" text-anchor="end">0</text>
<text x="282.00" y="328.70" font-size="12" font-family="Liberation Sans, sans-serif" font-weight="bold" text-anchor="end">1</text>
<text x="282.00" y="246.70" font-size="12" font-family="Liberation Sans, sans-serif" font-weight="bold" text-anchor="end">2</text>
<text x="367.40" y="436.50" font-size="13.6" font-family="Liberation Sans, sans-serif" font-weight="bold" text-anchor="middle">Time (ps)</text>
<text transform="translate(270.35,324.70) rotate(-90)" x="0" y="0" font-size="13.6" font-family="Liberation Sans, sans-serif" font-weight="bold" text-anchor="middle">Relative Mo-O bond Error Bar</text>
<text transform="translate(236.30,235.90) scale(0.93,1)" font-size="18.6" font-family="Liberation Sans, sans-serif" font-weight="bold">(e)</text>
<text x="518.70" y="420.80" font-size="12" font-family="Liberation Sans, sans-serif" font-weight="bold" text-anchor="middle">0</text>
<text x="558.70" y="420.80" font-size="12" font-family="Liberation Sans, sans-serif" font-weight="bold" text-anchor="middle">1</text>
<text x="598.70" y="420.80" font-size="12" font-family="Liberation Sans, sans-serif" font-weight="bold" text-anchor="middle">2</text>
<text x="638.70" y="420.80" font-size="12" font-family="Liberation Sans, sans-serif" font-weight="bold" text-anchor="middle">3</text>
<text x="678.70" y="420.80" font-size="12" font-family="Liberation Sans, sans-serif" font-weight="bold" text-anchor="middle">4</text>
<text x="515.20" y="410.90" font-size="12" font-family="Liberation Sans, sans-serif" font-weight="bold" text-anchor="end">0</text>
<text x="515.20" y="328.85" font-size="12" font-family="Liberation Sans, sans-serif" font-weight="bold" text-anchor="end">1</text>
<text x="515.20" y="246.80" font-size="12" font-family="Liberation Sans, sans-serif" font-weight="bold" text-anchor="end">2</text>
<text x="600.30" y="436.50" font-size="13.6" font-family="Liberation Sans, sans-serif" font-weight="bold" text-anchor="middle">Time (ps)</text>
<text transform="translate(503.45,324.85) rotate(-90)" x="0" y="0" font-size="13.6" font-family="Liberation Sans, sans-serif" font-weight="bold" text-anchor="middle">Relative Mo-S bond Error bar</text>
<text transform="translate(469.30,236.00) scale(0.93,1)" font-size="18.6" font-family="Liberation Sans, sans-serif" font-weight="bold">(f)</text>
</svg>
</body></html>
